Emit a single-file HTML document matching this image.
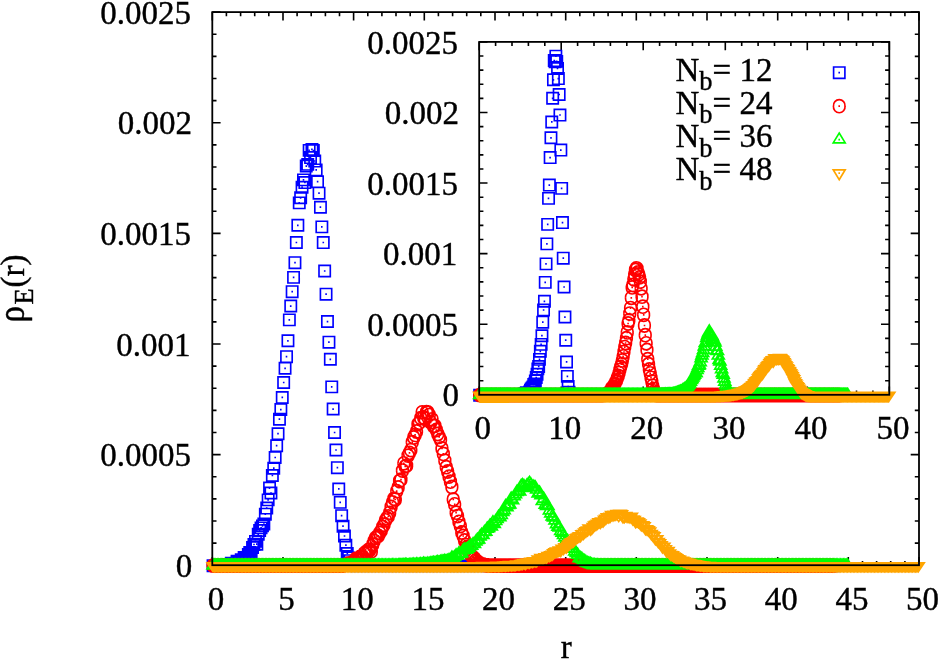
<!DOCTYPE html>
<html><head><meta charset="utf-8"><title>rho_E(r)</title>
<style>html,body{margin:0;padding:0;background:#fff;overflow:hidden}body{width:938px;height:660px;font-family:"Liberation Serif",serif}svg{display:block}.c{will-change:transform}text{stroke:#000;stroke-width:.4px}</style>
</head><body>
<svg width="938" height="660" viewBox="0 0 938 660" font-family="'Liberation Serif', serif" font-size="33" fill="#000" class="c">
<rect width="938" height="660" fill="#fff"/>
<path d="M212.3 565.2v-8.3M212.3 12.1v8.3M226.4 565.2v-4.2M226.4 12.1v4.2M240.6 565.2v-4.2M240.6 12.1v4.2M254.7 565.2v-4.2M254.7 12.1v4.2M268.8 565.2v-4.2M268.8 12.1v4.2M283 565.2v-8.3M283 12.1v8.3M297.1 565.2v-4.2M297.1 12.1v4.2M311.2 565.2v-4.2M311.2 12.1v4.2M325.4 565.2v-4.2M325.4 12.1v4.2M339.5 565.2v-4.2M339.5 12.1v4.2M353.6 565.2v-8.3M353.6 12.1v8.3M367.8 565.2v-4.2M367.8 12.1v4.2M381.9 565.2v-4.2M381.9 12.1v4.2M396 565.2v-4.2M396 12.1v4.2M410.2 565.2v-4.2M410.2 12.1v4.2M424.3 565.2v-8.3M424.3 12.1v8.3M438.4 565.2v-4.2M438.4 12.1v4.2M452.6 565.2v-4.2M452.6 12.1v4.2M466.7 565.2v-4.2M466.7 12.1v4.2M480.8 565.2v-4.2M480.8 12.1v4.2M495 565.2v-8.3M495 12.1v8.3M509.1 565.2v-4.2M509.1 12.1v4.2M523.2 565.2v-4.2M523.2 12.1v4.2M537.4 565.2v-4.2M537.4 12.1v4.2M551.5 565.2v-4.2M551.5 12.1v4.2M565.7 565.2v-8.3M565.7 12.1v8.3M579.8 565.2v-4.2M579.8 12.1v4.2M593.9 565.2v-4.2M593.9 12.1v4.2M608.1 565.2v-4.2M608.1 12.1v4.2M622.2 565.2v-4.2M622.2 12.1v4.2M636.3 565.2v-8.3M636.3 12.1v8.3M650.5 565.2v-4.2M650.5 12.1v4.2M664.6 565.2v-4.2M664.6 12.1v4.2M678.7 565.2v-4.2M678.7 12.1v4.2M692.9 565.2v-4.2M692.9 12.1v4.2M707 565.2v-8.3M707 12.1v8.3M721.1 565.2v-4.2M721.1 12.1v4.2M735.3 565.2v-4.2M735.3 12.1v4.2M749.4 565.2v-4.2M749.4 12.1v4.2M763.5 565.2v-4.2M763.5 12.1v4.2M777.7 565.2v-8.3M777.7 12.1v8.3M791.8 565.2v-4.2M791.8 12.1v4.2M805.9 565.2v-4.2M805.9 12.1v4.2M820.1 565.2v-4.2M820.1 12.1v4.2M834.2 565.2v-4.2M834.2 12.1v4.2M848.3 565.2v-8.3M848.3 12.1v8.3M862.5 565.2v-4.2M862.5 12.1v4.2M876.6 565.2v-4.2M876.6 12.1v4.2M890.7 565.2v-4.2M890.7 12.1v4.2M904.9 565.2v-4.2M904.9 12.1v4.2M919 565.2v-8.3M919 12.1v8.3M212.3 565.20h8.3M919 565.20h-8.3M212.3 543.08h4.2M919 543.08h-4.2M212.3 520.95h4.2M919 520.95h-4.2M212.3 498.83h4.2M919 498.83h-4.2M212.3 476.70h4.2M919 476.70h-4.2M212.3 454.58h8.3M919 454.58h-8.3M212.3 432.46h4.2M919 432.46h-4.2M212.3 410.33h4.2M919 410.33h-4.2M212.3 388.21h4.2M919 388.21h-4.2M212.3 366.08h4.2M919 366.08h-4.2M212.3 343.96h8.3M919 343.96h-8.3M212.3 321.84h4.2M919 321.84h-4.2M212.3 299.71h4.2M919 299.71h-4.2M212.3 277.59h4.2M919 277.59h-4.2M212.3 255.46h4.2M919 255.46h-4.2M212.3 233.34h8.3M919 233.34h-8.3M212.3 211.22h4.2M919 211.22h-4.2M212.3 189.09h4.2M919 189.09h-4.2M212.3 166.97h4.2M919 166.97h-4.2M212.3 144.84h4.2M919 144.84h-4.2M212.3 122.72h8.3M919 122.72h-8.3M212.3 100.60h4.2M919 100.60h-4.2M212.3 78.47h4.2M919 78.47h-4.2M212.3 56.35h4.2M919 56.35h-4.2M212.3 34.22h4.2M919 34.22h-4.2M212.3 12.10h8.3M919 12.10h-8.3" fill="none" stroke="#000" stroke-width="1.6"/>
<path d="M207.4 560h11.3v11.3h-11.3zM208.8 560h11.3v11.3h-11.3zM210.2 560h11.3v11.3h-11.3zM211.6 560h11.3v11.3h-11.3zM213 560h11.3v11.3h-11.3zM214.4 560h11.3v11.3h-11.3zM215.8 560h11.3v11.3h-11.3zM217.3 560h11.3v11.3h-11.3zM218.7 559.8h11.3v11.3h-11.3zM220.1 560h11.3v11.3h-11.3zM221.5 559.5h11.3v11.3h-11.3zM222.9 558.7h11.3v11.3h-11.3zM224.3 559.4h11.3v11.3h-11.3zM225.7 557.6h11.3v11.3h-11.3zM227.1 560h11.3v11.3h-11.3zM228.6 559h11.3v11.3h-11.3zM230 557.5h11.3v11.3h-11.3zM231.4 555.6h11.3v11.3h-11.3zM232.8 555.7h11.3v11.3h-11.3zM234.2 557h11.3v11.3h-11.3zM235.6 554h11.3v11.3h-11.3zM237 554.6h11.3v11.3h-11.3zM238.5 551.9h11.3v11.3h-11.3zM239.9 552.5h11.3v11.3h-11.3zM241.3 551.7h11.3v11.3h-11.3zM242.7 548.8h11.3v11.3h-11.3zM244.1 546.8h11.3v11.3h-11.3zM245.5 547.1h11.3v11.3h-11.3zM246.9 541.8h11.3v11.3h-11.3zM248.3 538.8h11.3v11.3h-11.3zM249.8 535.7h11.3v11.3h-11.3zM251.2 538.5h11.3v11.3h-11.3zM252.6 528.6h11.3v11.3h-11.3zM254 524.8h11.3v11.3h-11.3zM255.4 522.2h11.3v11.3h-11.3zM256.8 520.2h11.3v11.3h-11.3zM258.2 518.4h11.3v11.3h-11.3zM259.7 508.5h11.3v11.3h-11.3zM261.1 502.4h11.3v11.3h-11.3zM262.5 494.2h11.3v11.3h-11.3zM263.9 482.4h11.3v11.3h-11.3zM265.3 487.4h11.3v11.3h-11.3zM266.7 469.8h11.3v11.3h-11.3zM268.1 462.5h11.3v11.3h-11.3zM269.5 451.9h11.3v11.3h-11.3zM271 440.1h11.3v11.3h-11.3zM272.4 428.1h11.3v11.3h-11.3zM273.8 413.6h11.3v11.3h-11.3zM275.2 403.9h11.3v11.3h-11.3zM276.6 391.8h11.3v11.3h-11.3zM278 376.8h11.3v11.3h-11.3zM279.4 362.6h11.3v11.3h-11.3zM280.9 351h11.3v11.3h-11.3zM282.3 335.1h11.3v11.3h-11.3zM283.7 314.2h11.3v11.3h-11.3zM285.1 300.4h11.3v11.3h-11.3zM286.5 286h11.3v11.3h-11.3zM287.9 271.7h11.3v11.3h-11.3zM289.3 257h11.3v11.3h-11.3zM290.7 236.8h11.3v11.3h-11.3zM292.2 219.6h11.3v11.3h-11.3zM293.6 197.2h11.3v11.3h-11.3zM295 192.1h11.3v11.3h-11.3zM296.4 181.6h11.3v11.3h-11.3zM297.8 174.2h11.3v11.3h-11.3zM299.2 176.9h11.3v11.3h-11.3zM300.6 160.4h11.3v11.3h-11.3zM302.1 158.7h11.3v11.3h-11.3zM303.5 144.7h11.3v11.3h-11.3zM304.9 151.9h11.3v11.3h-11.3zM306.3 143.7h11.3v11.3h-11.3zM307.7 144.8h11.3v11.3h-11.3zM309.1 155.4h11.3v11.3h-11.3zM310.5 164.2h11.3v11.3h-11.3zM311.9 176.1h11.3v11.3h-11.3zM313.4 187.5h11.3v11.3h-11.3zM314.8 201.6h11.3v11.3h-11.3zM316.2 221.2h11.3v11.3h-11.3zM317.6 236.9h11.3v11.3h-11.3zM319 265.3h11.3v11.3h-11.3zM320.4 288.5h11.3v11.3h-11.3zM321.8 315.9h11.3v11.3h-11.3zM323.3 336.5h11.3v11.3h-11.3zM324.7 353.6h11.3v11.3h-11.3zM326.1 381.2h11.3v11.3h-11.3zM327.5 403.4h11.3v11.3h-11.3zM328.9 426.8h11.3v11.3h-11.3zM330.3 444.3h11.3v11.3h-11.3zM331.7 462h11.3v11.3h-11.3zM333.1 483.3h11.3v11.3h-11.3zM334.6 496.7h11.3v11.3h-11.3zM336 510h11.3v11.3h-11.3zM337.4 520.5h11.3v11.3h-11.3zM338.8 530.3h11.3v11.3h-11.3zM340.2 539.5h11.3v11.3h-11.3zM341.6 547.8h11.3v11.3h-11.3zM343 552.2h11.3v11.3h-11.3zM344.5 555h11.3v11.3h-11.3zM345.9 557.6h11.3v11.3h-11.3zM347.3 559h11.3v11.3h-11.3zM348.7 559.8h11.3v11.3h-11.3zM350.1 560h11.3v11.3h-11.3zM351.5 560h11.3v11.3h-11.3zM352.9 560h11.3v11.3h-11.3zM354.4 560h11.3v11.3h-11.3zM355.8 560h11.3v11.3h-11.3zM357.2 560h11.3v11.3h-11.3zM358.6 560h11.3v11.3h-11.3zM360 560h11.3v11.3h-11.3zM361.4 560h11.3v11.3h-11.3zM362.8 560h11.3v11.3h-11.3zM364.2 560h11.3v11.3h-11.3zM365.7 560h11.3v11.3h-11.3zM367.1 560h11.3v11.3h-11.3zM368.5 560h11.3v11.3h-11.3zM369.9 560h11.3v11.3h-11.3zM371.3 560h11.3v11.3h-11.3zM372.7 560h11.3v11.3h-11.3zM374.1 560h11.3v11.3h-11.3zM375.6 560h11.3v11.3h-11.3zM377 560h11.3v11.3h-11.3zM378.4 560h11.3v11.3h-11.3zM379.8 560h11.3v11.3h-11.3zM381.2 560h11.3v11.3h-11.3zM382.6 560h11.3v11.3h-11.3zM384 560h11.3v11.3h-11.3zM385.4 560h11.3v11.3h-11.3zM386.9 560h11.3v11.3h-11.3zM388.3 560h11.3v11.3h-11.3zM389.7 560h11.3v11.3h-11.3zM391.1 560h11.3v11.3h-11.3zM392.5 560h11.3v11.3h-11.3zM393.9 560h11.3v11.3h-11.3zM395.3 560h11.3v11.3h-11.3zM396.8 560h11.3v11.3h-11.3zM398.2 560h11.3v11.3h-11.3zM399.6 560h11.3v11.3h-11.3zM401 560h11.3v11.3h-11.3zM402.4 560h11.3v11.3h-11.3zM403.8 560h11.3v11.3h-11.3zM405.2 560h11.3v11.3h-11.3zM406.6 560h11.3v11.3h-11.3zM408.1 560h11.3v11.3h-11.3zM409.5 560h11.3v11.3h-11.3zM410.9 560h11.3v11.3h-11.3zM412.3 560h11.3v11.3h-11.3zM413.7 560h11.3v11.3h-11.3zM415.1 560h11.3v11.3h-11.3zM416.5 560h11.3v11.3h-11.3zM418 560h11.3v11.3h-11.3zM419.4 560h11.3v11.3h-11.3zM420.8 560h11.3v11.3h-11.3zM422.2 560h11.3v11.3h-11.3zM423.6 560h11.3v11.3h-11.3zM425 560h11.3v11.3h-11.3zM426.4 560h11.3v11.3h-11.3zM427.8 560h11.3v11.3h-11.3zM429.3 560h11.3v11.3h-11.3zM430.7 560h11.3v11.3h-11.3zM432.1 560h11.3v11.3h-11.3zM433.5 560h11.3v11.3h-11.3zM434.9 560h11.3v11.3h-11.3zM436.3 560h11.3v11.3h-11.3zM437.7 560h11.3v11.3h-11.3zM439.2 560h11.3v11.3h-11.3zM440.6 560h11.3v11.3h-11.3zM442 560h11.3v11.3h-11.3zM443.4 560h11.3v11.3h-11.3zM444.8 560h11.3v11.3h-11.3zM446.2 560h11.3v11.3h-11.3zM447.6 560h11.3v11.3h-11.3zM449 560h11.3v11.3h-11.3zM450.5 560h11.3v11.3h-11.3zM451.9 560h11.3v11.3h-11.3zM453.3 560h11.3v11.3h-11.3zM454.7 560h11.3v11.3h-11.3zM456.1 560h11.3v11.3h-11.3zM457.5 560h11.3v11.3h-11.3zM458.9 560h11.3v11.3h-11.3zM460.4 560h11.3v11.3h-11.3zM461.8 560h11.3v11.3h-11.3zM463.2 560h11.3v11.3h-11.3zM464.6 560h11.3v11.3h-11.3zM466 560h11.3v11.3h-11.3zM467.4 560h11.3v11.3h-11.3zM468.8 560h11.3v11.3h-11.3zM470.2 560h11.3v11.3h-11.3zM471.7 560h11.3v11.3h-11.3zM473.1 560h11.3v11.3h-11.3zM474.5 560h11.3v11.3h-11.3zM475.9 560h11.3v11.3h-11.3zM477.3 560h11.3v11.3h-11.3zM478.7 560h11.3v11.3h-11.3zM480.1 560h11.3v11.3h-11.3zM481.6 560h11.3v11.3h-11.3zM483 560h11.3v11.3h-11.3zM484.4 560h11.3v11.3h-11.3zM485.8 560h11.3v11.3h-11.3zM487.2 560h11.3v11.3h-11.3zM488.6 560h11.3v11.3h-11.3zM490 560h11.3v11.3h-11.3zM491.5 560h11.3v11.3h-11.3zM492.9 560h11.3v11.3h-11.3zM494.3 560h11.3v11.3h-11.3zM495.7 560h11.3v11.3h-11.3zM497.1 560h11.3v11.3h-11.3zM498.5 560h11.3v11.3h-11.3zM499.9 560h11.3v11.3h-11.3zM501.3 560h11.3v11.3h-11.3zM502.8 560h11.3v11.3h-11.3zM504.2 560h11.3v11.3h-11.3zM505.6 560h11.3v11.3h-11.3zM507 560h11.3v11.3h-11.3zM508.4 560h11.3v11.3h-11.3zM509.8 560h11.3v11.3h-11.3zM511.2 560h11.3v11.3h-11.3zM512.7 560h11.3v11.3h-11.3zM514.1 560h11.3v11.3h-11.3zM515.5 560h11.3v11.3h-11.3zM516.9 560h11.3v11.3h-11.3zM518.3 560h11.3v11.3h-11.3zM519.7 560h11.3v11.3h-11.3zM521.1 560h11.3v11.3h-11.3zM522.5 560h11.3v11.3h-11.3zM524 560h11.3v11.3h-11.3zM525.4 560h11.3v11.3h-11.3zM526.8 560h11.3v11.3h-11.3zM528.2 560h11.3v11.3h-11.3zM529.6 560h11.3v11.3h-11.3zM531 560h11.3v11.3h-11.3zM532.4 560h11.3v11.3h-11.3zM533.9 560h11.3v11.3h-11.3zM535.3 560h11.3v11.3h-11.3zM536.7 560h11.3v11.3h-11.3zM538.1 560h11.3v11.3h-11.3zM539.5 560h11.3v11.3h-11.3zM540.9 560h11.3v11.3h-11.3zM542.3 560h11.3v11.3h-11.3zM543.7 560h11.3v11.3h-11.3zM545.2 560h11.3v11.3h-11.3zM546.6 560h11.3v11.3h-11.3zM548 560h11.3v11.3h-11.3zM549.4 560h11.3v11.3h-11.3zM550.8 560h11.3v11.3h-11.3zM552.2 560h11.3v11.3h-11.3zM553.6 560h11.3v11.3h-11.3zM555.1 560h11.3v11.3h-11.3zM556.5 560h11.3v11.3h-11.3zM557.9 560h11.3v11.3h-11.3zM559.3 560h11.3v11.3h-11.3zM560.7 560h11.3v11.3h-11.3zM562.1 560h11.3v11.3h-11.3zM563.5 560h11.3v11.3h-11.3zM564.9 560h11.3v11.3h-11.3zM566.4 560h11.3v11.3h-11.3zM567.8 560h11.3v11.3h-11.3zM569.2 560h11.3v11.3h-11.3zM570.6 560h11.3v11.3h-11.3zM572 560h11.3v11.3h-11.3zM573.4 560h11.3v11.3h-11.3zM574.8 560h11.3v11.3h-11.3zM576.3 560h11.3v11.3h-11.3zM577.7 560h11.3v11.3h-11.3zM579.1 560h11.3v11.3h-11.3zM580.5 560h11.3v11.3h-11.3zM581.9 560h11.3v11.3h-11.3zM583.3 560h11.3v11.3h-11.3zM584.7 560h11.3v11.3h-11.3zM586.1 560h11.3v11.3h-11.3zM587.6 560h11.3v11.3h-11.3zM589 560h11.3v11.3h-11.3zM590.4 560h11.3v11.3h-11.3zM591.8 560h11.3v11.3h-11.3zM593.2 560h11.3v11.3h-11.3zM594.6 560h11.3v11.3h-11.3zM596 560h11.3v11.3h-11.3zM597.5 560h11.3v11.3h-11.3zM598.9 560h11.3v11.3h-11.3zM600.3 560h11.3v11.3h-11.3zM601.7 560h11.3v11.3h-11.3zM603.1 560h11.3v11.3h-11.3zM604.5 560h11.3v11.3h-11.3zM605.9 560h11.3v11.3h-11.3zM607.3 560h11.3v11.3h-11.3zM608.8 560h11.3v11.3h-11.3zM610.2 560h11.3v11.3h-11.3zM611.6 560h11.3v11.3h-11.3zM613 560h11.3v11.3h-11.3zM614.4 560h11.3v11.3h-11.3zM615.8 560h11.3v11.3h-11.3zM617.2 560h11.3v11.3h-11.3zM618.7 560h11.3v11.3h-11.3zM620.1 560h11.3v11.3h-11.3zM621.5 560h11.3v11.3h-11.3zM622.9 560h11.3v11.3h-11.3zM624.3 560h11.3v11.3h-11.3zM625.7 560h11.3v11.3h-11.3zM627.1 560h11.3v11.3h-11.3zM628.5 560h11.3v11.3h-11.3zM630 560h11.3v11.3h-11.3zM631.4 560h11.3v11.3h-11.3zM632.8 560h11.3v11.3h-11.3zM634.2 560h11.3v11.3h-11.3zM635.6 560h11.3v11.3h-11.3zM637 560h11.3v11.3h-11.3zM638.4 560h11.3v11.3h-11.3zM639.9 560h11.3v11.3h-11.3zM641.3 560h11.3v11.3h-11.3zM642.7 560h11.3v11.3h-11.3zM644.1 560h11.3v11.3h-11.3zM645.5 560h11.3v11.3h-11.3zM646.9 560h11.3v11.3h-11.3zM648.3 560h11.3v11.3h-11.3zM649.8 560h11.3v11.3h-11.3zM651.2 560h11.3v11.3h-11.3zM652.6 560h11.3v11.3h-11.3zM654 560h11.3v11.3h-11.3zM655.4 560h11.3v11.3h-11.3zM656.8 560h11.3v11.3h-11.3zM658.2 560h11.3v11.3h-11.3zM659.6 560h11.3v11.3h-11.3zM661.1 560h11.3v11.3h-11.3zM662.5 560h11.3v11.3h-11.3zM663.9 560h11.3v11.3h-11.3zM665.3 560h11.3v11.3h-11.3zM666.7 560h11.3v11.3h-11.3zM668.1 560h11.3v11.3h-11.3zM669.5 560h11.3v11.3h-11.3zM671 560h11.3v11.3h-11.3zM672.4 560h11.3v11.3h-11.3zM673.8 560h11.3v11.3h-11.3zM675.2 560h11.3v11.3h-11.3zM676.6 560h11.3v11.3h-11.3zM678 560h11.3v11.3h-11.3zM679.4 560h11.3v11.3h-11.3zM680.8 560h11.3v11.3h-11.3zM682.3 560h11.3v11.3h-11.3zM683.7 560h11.3v11.3h-11.3zM685.1 560h11.3v11.3h-11.3zM686.5 560h11.3v11.3h-11.3zM687.9 560h11.3v11.3h-11.3zM689.3 560h11.3v11.3h-11.3zM690.7 560h11.3v11.3h-11.3zM692.2 560h11.3v11.3h-11.3zM693.6 560h11.3v11.3h-11.3zM695 560h11.3v11.3h-11.3zM696.4 560h11.3v11.3h-11.3zM697.8 560h11.3v11.3h-11.3zM699.2 560h11.3v11.3h-11.3zM700.6 560h11.3v11.3h-11.3zM702 560h11.3v11.3h-11.3zM703.5 560h11.3v11.3h-11.3zM704.9 560h11.3v11.3h-11.3zM706.3 560h11.3v11.3h-11.3zM707.7 560h11.3v11.3h-11.3zM709.1 560h11.3v11.3h-11.3zM710.5 560h11.3v11.3h-11.3zM711.9 560h11.3v11.3h-11.3zM713.4 560h11.3v11.3h-11.3zM714.8 560h11.3v11.3h-11.3zM716.2 560h11.3v11.3h-11.3zM717.6 560h11.3v11.3h-11.3zM719 560h11.3v11.3h-11.3zM720.4 560h11.3v11.3h-11.3zM721.8 560h11.3v11.3h-11.3zM723.2 560h11.3v11.3h-11.3zM724.7 560h11.3v11.3h-11.3zM726.1 560h11.3v11.3h-11.3zM727.5 560h11.3v11.3h-11.3zM728.9 560h11.3v11.3h-11.3zM730.3 560h11.3v11.3h-11.3zM731.7 560h11.3v11.3h-11.3zM733.1 560h11.3v11.3h-11.3zM734.6 560h11.3v11.3h-11.3zM736 560h11.3v11.3h-11.3zM737.4 560h11.3v11.3h-11.3zM738.8 560h11.3v11.3h-11.3zM740.2 560h11.3v11.3h-11.3zM741.6 560h11.3v11.3h-11.3zM743 560h11.3v11.3h-11.3zM744.4 560h11.3v11.3h-11.3zM745.9 560h11.3v11.3h-11.3zM747.3 560h11.3v11.3h-11.3zM748.7 560h11.3v11.3h-11.3zM750.1 560h11.3v11.3h-11.3zM751.5 560h11.3v11.3h-11.3zM752.9 560h11.3v11.3h-11.3zM754.3 560h11.3v11.3h-11.3zM755.8 560h11.3v11.3h-11.3zM757.2 560h11.3v11.3h-11.3zM758.6 560h11.3v11.3h-11.3zM760 560h11.3v11.3h-11.3zM761.4 560h11.3v11.3h-11.3zM762.8 560h11.3v11.3h-11.3zM764.2 560h11.3v11.3h-11.3zM765.6 560h11.3v11.3h-11.3zM767.1 560h11.3v11.3h-11.3zM768.5 560h11.3v11.3h-11.3zM769.9 560h11.3v11.3h-11.3zM771.3 560h11.3v11.3h-11.3zM772.7 560h11.3v11.3h-11.3zM774.1 560h11.3v11.3h-11.3zM775.5 560h11.3v11.3h-11.3zM777 560h11.3v11.3h-11.3zM778.4 560h11.3v11.3h-11.3zM779.8 560h11.3v11.3h-11.3zM781.2 560h11.3v11.3h-11.3zM782.6 560h11.3v11.3h-11.3zM784 560h11.3v11.3h-11.3zM785.4 560h11.3v11.3h-11.3zM786.9 560h11.3v11.3h-11.3zM788.3 560h11.3v11.3h-11.3zM789.7 560h11.3v11.3h-11.3zM791.1 560h11.3v11.3h-11.3zM792.5 560h11.3v11.3h-11.3zM793.9 560h11.3v11.3h-11.3zM795.3 560h11.3v11.3h-11.3zM796.7 560h11.3v11.3h-11.3zM798.2 560h11.3v11.3h-11.3zM799.6 560h11.3v11.3h-11.3zM801 560h11.3v11.3h-11.3zM802.4 560h11.3v11.3h-11.3zM803.8 560h11.3v11.3h-11.3zM805.2 560h11.3v11.3h-11.3zM806.6 560h11.3v11.3h-11.3zM808.1 560h11.3v11.3h-11.3zM809.5 560h11.3v11.3h-11.3zM810.9 560h11.3v11.3h-11.3zM812.3 560h11.3v11.3h-11.3zM813.7 560h11.3v11.3h-11.3zM815.1 560h11.3v11.3h-11.3zM816.5 560h11.3v11.3h-11.3zM817.9 560h11.3v11.3h-11.3zM819.4 560h11.3v11.3h-11.3zM820.8 560h11.3v11.3h-11.3zM822.2 560h11.3v11.3h-11.3zM823.6 560h11.3v11.3h-11.3zM825 560h11.3v11.3h-11.3zM826.4 560h11.3v11.3h-11.3zM827.8 560h11.3v11.3h-11.3z" fill="none" stroke="#0000ff" stroke-width="1.65" stroke-linejoin="miter"/>
<path d="M212.2 565.6h1.6M213.6 565.6h1.6M215 565.6h1.6M216.4 565.6h1.6M217.9 565.6h1.6M219.3 565.6h1.6M220.7 565.6h1.6M222.1 565.6h1.6M223.5 565.4h1.6M224.9 565.6h1.6M226.3 565.1h1.6M227.8 564.3h1.6M229.2 565h1.6M230.6 563.2h1.6M232 565.6h1.6M233.4 564.6h1.6M234.8 563.1h1.6M236.2 561.3h1.6M237.6 561.3h1.6M239.1 562.7h1.6M240.5 559.6h1.6M241.9 560.2h1.6M243.3 557.5h1.6M244.7 558.2h1.6M246.1 557.4h1.6M247.5 554.5h1.6M249 552.5h1.6M250.4 552.7h1.6M251.8 547.5h1.6M253.2 544.5h1.6M254.6 541.4h1.6M256 544.2h1.6M257.4 534.3h1.6M258.8 530.5h1.6M260.3 527.8h1.6M261.7 525.9h1.6M263.1 524.1h1.6M264.5 514.2h1.6M265.9 508h1.6M267.3 499.9h1.6M268.7 488.1h1.6M270.2 493h1.6M271.6 475.5h1.6M273 468.1h1.6M274.4 457.5h1.6M275.8 445.7h1.6M277.2 433.7h1.6M278.6 419.2h1.6M280 409.6h1.6M281.5 397.4h1.6M282.9 382.5h1.6M284.3 368.3h1.6M285.7 356.6h1.6M287.1 340.8h1.6M288.5 319.8h1.6M289.9 306.1h1.6M291.4 291.6h1.6M292.8 277.4h1.6M294.2 262.6h1.6M295.6 242.5h1.6M297 225.3h1.6M298.4 202.9h1.6M299.8 197.8h1.6M301.3 187.2h1.6M302.7 179.9h1.6M304.1 182.5h1.6M305.5 166.1h1.6M306.9 164.4h1.6M308.3 150.4h1.6M309.7 157.5h1.6M311.1 149.4h1.6M312.6 150.5h1.6M314 161h1.6M315.4 169.9h1.6M316.8 181.7h1.6M318.2 193.2h1.6M319.6 207.2h1.6M321 226.9h1.6M322.5 242.5h1.6M323.9 271h1.6M325.3 294.1h1.6M326.7 321.6h1.6M328.1 342.2h1.6M329.5 359.3h1.6M330.9 386.9h1.6M332.3 409.1h1.6M333.8 432.5h1.6M335.2 450h1.6M336.6 467.7h1.6M338 488.9h1.6M339.4 502.4h1.6M340.8 515.7h1.6M342.2 526.2h1.6M343.7 536h1.6M345.1 545.1h1.6M346.5 553.5h1.6M347.9 557.8h1.6M349.3 560.6h1.6M350.7 563.2h1.6M352.1 564.6h1.6M353.5 565.5h1.6M355 565.6h1.6M356.4 565.6h1.6M357.8 565.6h1.6M359.2 565.6h1.6M360.6 565.6h1.6M362 565.6h1.6M363.4 565.6h1.6M364.9 565.6h1.6M366.3 565.6h1.6M367.7 565.6h1.6M369.1 565.6h1.6M370.5 565.6h1.6M371.9 565.6h1.6M373.3 565.6h1.6M374.7 565.6h1.6M376.2 565.6h1.6M377.6 565.6h1.6M379 565.6h1.6M380.4 565.6h1.6M381.8 565.6h1.6M383.2 565.6h1.6M384.6 565.6h1.6M386.1 565.6h1.6M387.5 565.6h1.6M388.9 565.6h1.6M390.3 565.6h1.6M391.7 565.6h1.6M393.1 565.6h1.6M394.5 565.6h1.6M395.9 565.6h1.6M397.4 565.6h1.6M398.8 565.6h1.6M400.2 565.6h1.6M401.6 565.6h1.6M403 565.6h1.6M404.4 565.6h1.6M405.8 565.6h1.6M407.3 565.6h1.6M408.7 565.6h1.6M410.1 565.6h1.6M411.5 565.6h1.6M412.9 565.6h1.6M414.3 565.6h1.6M415.7 565.6h1.6M417.1 565.6h1.6M418.6 565.6h1.6M420 565.6h1.6M421.4 565.6h1.6M422.8 565.6h1.6M424.2 565.6h1.6M425.6 565.6h1.6M427 565.6h1.6M428.5 565.6h1.6M429.9 565.6h1.6M431.3 565.6h1.6M432.7 565.6h1.6M434.1 565.6h1.6M435.5 565.6h1.6M436.9 565.6h1.6M438.4 565.6h1.6M439.8 565.6h1.6M441.2 565.6h1.6M442.6 565.6h1.6M444 565.6h1.6M445.4 565.6h1.6M446.8 565.6h1.6M448.2 565.6h1.6M449.7 565.6h1.6M451.1 565.6h1.6M452.5 565.6h1.6M453.9 565.6h1.6M455.3 565.6h1.6M456.7 565.6h1.6M458.1 565.6h1.6M459.6 565.6h1.6M461 565.6h1.6M462.4 565.6h1.6M463.8 565.6h1.6M465.2 565.6h1.6M466.6 565.6h1.6M468 565.6h1.6M469.4 565.6h1.6M470.9 565.6h1.6M472.3 565.6h1.6M473.7 565.6h1.6M475.1 565.6h1.6M476.5 565.6h1.6M477.9 565.6h1.6M479.3 565.6h1.6M480.8 565.6h1.6M482.2 565.6h1.6M483.6 565.6h1.6M485 565.6h1.6M486.4 565.6h1.6M487.8 565.6h1.6M489.2 565.6h1.6M490.6 565.6h1.6M492.1 565.6h1.6M493.5 565.6h1.6M494.9 565.6h1.6M496.3 565.6h1.6M497.7 565.6h1.6M499.1 565.6h1.6M500.5 565.6h1.6M502 565.6h1.6M503.4 565.6h1.6M504.8 565.6h1.6M506.2 565.6h1.6M507.6 565.6h1.6M509 565.6h1.6M510.4 565.6h1.6M511.8 565.6h1.6M513.3 565.6h1.6M514.7 565.6h1.6M516.1 565.6h1.6M517.5 565.6h1.6M518.9 565.6h1.6M520.3 565.6h1.6M521.7 565.6h1.6M523.2 565.6h1.6M524.6 565.6h1.6M526 565.6h1.6M527.4 565.6h1.6M528.8 565.6h1.6M530.2 565.6h1.6M531.6 565.6h1.6M533 565.6h1.6M534.5 565.6h1.6M535.9 565.6h1.6M537.3 565.6h1.6M538.7 565.6h1.6M540.1 565.6h1.6M541.5 565.6h1.6M542.9 565.6h1.6M544.4 565.6h1.6M545.8 565.6h1.6M547.2 565.6h1.6M548.6 565.6h1.6M550 565.6h1.6M551.4 565.6h1.6M552.8 565.6h1.6M554.2 565.6h1.6M555.7 565.6h1.6M557.1 565.6h1.6M558.5 565.6h1.6M559.9 565.6h1.6M561.3 565.6h1.6M562.7 565.6h1.6M564.1 565.6h1.6M565.6 565.6h1.6M567 565.6h1.6M568.4 565.6h1.6M569.8 565.6h1.6M571.2 565.6h1.6M572.6 565.6h1.6M574 565.6h1.6M575.5 565.6h1.6M576.9 565.6h1.6M578.3 565.6h1.6M579.7 565.6h1.6M581.1 565.6h1.6M582.5 565.6h1.6M583.9 565.6h1.6M585.3 565.6h1.6M586.8 565.6h1.6M588.2 565.6h1.6M589.6 565.6h1.6M591 565.6h1.6M592.4 565.6h1.6M593.8 565.6h1.6M595.2 565.6h1.6M596.7 565.6h1.6M598.1 565.6h1.6M599.5 565.6h1.6M600.9 565.6h1.6M602.3 565.6h1.6M603.7 565.6h1.6M605.1 565.6h1.6M606.5 565.6h1.6M608 565.6h1.6M609.4 565.6h1.6M610.8 565.6h1.6M612.2 565.6h1.6M613.6 565.6h1.6M615 565.6h1.6M616.4 565.6h1.6M617.9 565.6h1.6M619.3 565.6h1.6M620.7 565.6h1.6M622.1 565.6h1.6M623.5 565.6h1.6M624.9 565.6h1.6M626.3 565.6h1.6M627.7 565.6h1.6M629.2 565.6h1.6M630.6 565.6h1.6M632 565.6h1.6M633.4 565.6h1.6M634.8 565.6h1.6M636.2 565.6h1.6M637.6 565.6h1.6M639.1 565.6h1.6M640.5 565.6h1.6M641.9 565.6h1.6M643.3 565.6h1.6M644.7 565.6h1.6M646.1 565.6h1.6M647.5 565.6h1.6M648.9 565.6h1.6M650.4 565.6h1.6M651.8 565.6h1.6M653.2 565.6h1.6M654.6 565.6h1.6M656 565.6h1.6M657.4 565.6h1.6M658.8 565.6h1.6M660.3 565.6h1.6M661.7 565.6h1.6M663.1 565.6h1.6M664.5 565.6h1.6M665.9 565.6h1.6M667.3 565.6h1.6M668.7 565.6h1.6M670.1 565.6h1.6M671.6 565.6h1.6M673 565.6h1.6M674.4 565.6h1.6M675.8 565.6h1.6M677.2 565.6h1.6M678.6 565.6h1.6M680 565.6h1.6M681.5 565.6h1.6M682.9 565.6h1.6M684.3 565.6h1.6M685.7 565.6h1.6M687.1 565.6h1.6M688.5 565.6h1.6M689.9 565.6h1.6M691.3 565.6h1.6M692.8 565.6h1.6M694.2 565.6h1.6M695.6 565.6h1.6M697 565.6h1.6M698.4 565.6h1.6M699.8 565.6h1.6M701.2 565.6h1.6M702.7 565.6h1.6M704.1 565.6h1.6M705.5 565.6h1.6M706.9 565.6h1.6M708.3 565.6h1.6M709.7 565.6h1.6M711.1 565.6h1.6M712.6 565.6h1.6M714 565.6h1.6M715.4 565.6h1.6M716.8 565.6h1.6M718.2 565.6h1.6M719.6 565.6h1.6M721 565.6h1.6M722.4 565.6h1.6M723.9 565.6h1.6M725.3 565.6h1.6M726.7 565.6h1.6M728.1 565.6h1.6M729.5 565.6h1.6M730.9 565.6h1.6M732.3 565.6h1.6M733.8 565.6h1.6M735.2 565.6h1.6M736.6 565.6h1.6M738 565.6h1.6M739.4 565.6h1.6M740.8 565.6h1.6M742.2 565.6h1.6M743.6 565.6h1.6M745.1 565.6h1.6M746.5 565.6h1.6M747.9 565.6h1.6M749.3 565.6h1.6M750.7 565.6h1.6M752.1 565.6h1.6M753.5 565.6h1.6M755 565.6h1.6M756.4 565.6h1.6M757.8 565.6h1.6M759.2 565.6h1.6M760.6 565.6h1.6M762 565.6h1.6M763.4 565.6h1.6M764.8 565.6h1.6M766.3 565.6h1.6M767.7 565.6h1.6M769.1 565.6h1.6M770.5 565.6h1.6M771.9 565.6h1.6M773.3 565.6h1.6M774.7 565.6h1.6M776.2 565.6h1.6M777.6 565.6h1.6M779 565.6h1.6M780.4 565.6h1.6M781.8 565.6h1.6M783.2 565.6h1.6M784.6 565.6h1.6M786 565.6h1.6M787.5 565.6h1.6M788.9 565.6h1.6M790.3 565.6h1.6M791.7 565.6h1.6M793.1 565.6h1.6M794.5 565.6h1.6M795.9 565.6h1.6M797.4 565.6h1.6M798.8 565.6h1.6M800.2 565.6h1.6M801.6 565.6h1.6M803 565.6h1.6M804.4 565.6h1.6M805.8 565.6h1.6M807.2 565.6h1.6M808.7 565.6h1.6M810.1 565.6h1.6M811.5 565.6h1.6M812.9 565.6h1.6M814.3 565.6h1.6M815.7 565.6h1.6M817.1 565.6h1.6M818.6 565.6h1.6M820 565.6h1.6M821.4 565.6h1.6M822.8 565.6h1.6M824.2 565.6h1.6M825.6 565.6h1.6M827 565.6h1.6M828.4 565.6h1.6M829.9 565.6h1.6M831.3 565.6h1.6M832.7 565.6h1.6" fill="none" stroke="#0000ff" stroke-width="1.7"/>
<path d="M207.3 565.6a5.8 5.8 0 1 0 11.5 0a5.8 5.8 0 1 0 -11.5 0M208.7 565.6a5.8 5.8 0 1 0 11.5 0a5.8 5.8 0 1 0 -11.5 0M210.1 565.6a5.8 5.8 0 1 0 11.5 0a5.8 5.8 0 1 0 -11.5 0M211.5 565.6a5.8 5.8 0 1 0 11.5 0a5.8 5.8 0 1 0 -11.5 0M212.9 565.6a5.8 5.8 0 1 0 11.5 0a5.8 5.8 0 1 0 -11.5 0M214.3 565.6a5.8 5.8 0 1 0 11.5 0a5.8 5.8 0 1 0 -11.5 0M215.7 565.6a5.8 5.8 0 1 0 11.5 0a5.8 5.8 0 1 0 -11.5 0M217.2 565.6a5.8 5.8 0 1 0 11.5 0a5.8 5.8 0 1 0 -11.5 0M218.6 565.6a5.8 5.8 0 1 0 11.5 0a5.8 5.8 0 1 0 -11.5 0M220 565.6a5.8 5.8 0 1 0 11.5 0a5.8 5.8 0 1 0 -11.5 0M221.4 565.6a5.8 5.8 0 1 0 11.5 0a5.8 5.8 0 1 0 -11.5 0M222.8 565.6a5.8 5.8 0 1 0 11.5 0a5.8 5.8 0 1 0 -11.5 0M224.2 565.6a5.8 5.8 0 1 0 11.5 0a5.8 5.8 0 1 0 -11.5 0M225.6 565.6a5.8 5.8 0 1 0 11.5 0a5.8 5.8 0 1 0 -11.5 0M227 565.6a5.8 5.8 0 1 0 11.5 0a5.8 5.8 0 1 0 -11.5 0M228.5 565.6a5.8 5.8 0 1 0 11.5 0a5.8 5.8 0 1 0 -11.5 0M229.9 565.6a5.8 5.8 0 1 0 11.5 0a5.8 5.8 0 1 0 -11.5 0M231.3 565.6a5.8 5.8 0 1 0 11.5 0a5.8 5.8 0 1 0 -11.5 0M232.7 565.6a5.8 5.8 0 1 0 11.5 0a5.8 5.8 0 1 0 -11.5 0M234.1 565.6a5.8 5.8 0 1 0 11.5 0a5.8 5.8 0 1 0 -11.5 0M235.5 565.6a5.8 5.8 0 1 0 11.5 0a5.8 5.8 0 1 0 -11.5 0M236.9 565.6a5.8 5.8 0 1 0 11.5 0a5.8 5.8 0 1 0 -11.5 0M238.4 565.6a5.8 5.8 0 1 0 11.5 0a5.8 5.8 0 1 0 -11.5 0M239.8 565.6a5.8 5.8 0 1 0 11.5 0a5.8 5.8 0 1 0 -11.5 0M241.2 565.6a5.8 5.8 0 1 0 11.5 0a5.8 5.8 0 1 0 -11.5 0M242.6 565.6a5.8 5.8 0 1 0 11.5 0a5.8 5.8 0 1 0 -11.5 0M244 565.6a5.8 5.8 0 1 0 11.5 0a5.8 5.8 0 1 0 -11.5 0M245.4 565.6a5.8 5.8 0 1 0 11.5 0a5.8 5.8 0 1 0 -11.5 0M246.8 565.6a5.8 5.8 0 1 0 11.5 0a5.8 5.8 0 1 0 -11.5 0M248.2 565.6a5.8 5.8 0 1 0 11.5 0a5.8 5.8 0 1 0 -11.5 0M249.7 565.6a5.8 5.8 0 1 0 11.5 0a5.8 5.8 0 1 0 -11.5 0M251.1 565.6a5.8 5.8 0 1 0 11.5 0a5.8 5.8 0 1 0 -11.5 0M252.5 565.6a5.8 5.8 0 1 0 11.5 0a5.8 5.8 0 1 0 -11.5 0M253.9 565.6a5.8 5.8 0 1 0 11.5 0a5.8 5.8 0 1 0 -11.5 0M255.3 565.6a5.8 5.8 0 1 0 11.5 0a5.8 5.8 0 1 0 -11.5 0M256.7 565.6a5.8 5.8 0 1 0 11.5 0a5.8 5.8 0 1 0 -11.5 0M258.1 565.6a5.8 5.8 0 1 0 11.5 0a5.8 5.8 0 1 0 -11.5 0M259.6 565.6a5.8 5.8 0 1 0 11.5 0a5.8 5.8 0 1 0 -11.5 0M261 565.6a5.8 5.8 0 1 0 11.5 0a5.8 5.8 0 1 0 -11.5 0M262.4 565.6a5.8 5.8 0 1 0 11.5 0a5.8 5.8 0 1 0 -11.5 0M263.8 565.6a5.8 5.8 0 1 0 11.5 0a5.8 5.8 0 1 0 -11.5 0M265.2 565.6a5.8 5.8 0 1 0 11.5 0a5.8 5.8 0 1 0 -11.5 0M266.6 565.6a5.8 5.8 0 1 0 11.5 0a5.8 5.8 0 1 0 -11.5 0M268 565.6a5.8 5.8 0 1 0 11.5 0a5.8 5.8 0 1 0 -11.5 0M269.4 565.6a5.8 5.8 0 1 0 11.5 0a5.8 5.8 0 1 0 -11.5 0M270.9 565.6a5.8 5.8 0 1 0 11.5 0a5.8 5.8 0 1 0 -11.5 0M272.3 565.6a5.8 5.8 0 1 0 11.5 0a5.8 5.8 0 1 0 -11.5 0M273.7 565.6a5.8 5.8 0 1 0 11.5 0a5.8 5.8 0 1 0 -11.5 0M275.1 565.6a5.8 5.8 0 1 0 11.5 0a5.8 5.8 0 1 0 -11.5 0M276.5 565.6a5.8 5.8 0 1 0 11.5 0a5.8 5.8 0 1 0 -11.5 0M277.9 565.6a5.8 5.8 0 1 0 11.5 0a5.8 5.8 0 1 0 -11.5 0M279.3 565.6a5.8 5.8 0 1 0 11.5 0a5.8 5.8 0 1 0 -11.5 0M280.8 565.6a5.8 5.8 0 1 0 11.5 0a5.8 5.8 0 1 0 -11.5 0M282.2 565.6a5.8 5.8 0 1 0 11.5 0a5.8 5.8 0 1 0 -11.5 0M283.6 565.6a5.8 5.8 0 1 0 11.5 0a5.8 5.8 0 1 0 -11.5 0M285 565.6a5.8 5.8 0 1 0 11.5 0a5.8 5.8 0 1 0 -11.5 0M286.4 565.6a5.8 5.8 0 1 0 11.5 0a5.8 5.8 0 1 0 -11.5 0M287.8 565.6a5.8 5.8 0 1 0 11.5 0a5.8 5.8 0 1 0 -11.5 0M289.2 565.6a5.8 5.8 0 1 0 11.5 0a5.8 5.8 0 1 0 -11.5 0M290.6 565.6a5.8 5.8 0 1 0 11.5 0a5.8 5.8 0 1 0 -11.5 0M292.1 565.6a5.8 5.8 0 1 0 11.5 0a5.8 5.8 0 1 0 -11.5 0M293.5 565.6a5.8 5.8 0 1 0 11.5 0a5.8 5.8 0 1 0 -11.5 0M294.9 565.6a5.8 5.8 0 1 0 11.5 0a5.8 5.8 0 1 0 -11.5 0M296.3 565.6a5.8 5.8 0 1 0 11.5 0a5.8 5.8 0 1 0 -11.5 0M297.7 565.6a5.8 5.8 0 1 0 11.5 0a5.8 5.8 0 1 0 -11.5 0M299.1 565.6a5.8 5.8 0 1 0 11.5 0a5.8 5.8 0 1 0 -11.5 0M300.5 565.6a5.8 5.8 0 1 0 11.5 0a5.8 5.8 0 1 0 -11.5 0M302 565.6a5.8 5.8 0 1 0 11.5 0a5.8 5.8 0 1 0 -11.5 0M303.4 565.6a5.8 5.8 0 1 0 11.5 0a5.8 5.8 0 1 0 -11.5 0M304.8 565.6a5.8 5.8 0 1 0 11.5 0a5.8 5.8 0 1 0 -11.5 0M306.2 565.6a5.8 5.8 0 1 0 11.5 0a5.8 5.8 0 1 0 -11.5 0M307.6 565.6a5.8 5.8 0 1 0 11.5 0a5.8 5.8 0 1 0 -11.5 0M309 565.6a5.8 5.8 0 1 0 11.5 0a5.8 5.8 0 1 0 -11.5 0M310.4 565.6a5.8 5.8 0 1 0 11.5 0a5.8 5.8 0 1 0 -11.5 0M311.8 565.6a5.8 5.8 0 1 0 11.5 0a5.8 5.8 0 1 0 -11.5 0M313.3 565.6a5.8 5.8 0 1 0 11.5 0a5.8 5.8 0 1 0 -11.5 0M314.7 565.6a5.8 5.8 0 1 0 11.5 0a5.8 5.8 0 1 0 -11.5 0M316.1 565.6a5.8 5.8 0 1 0 11.5 0a5.8 5.8 0 1 0 -11.5 0M317.5 565.6a5.8 5.8 0 1 0 11.5 0a5.8 5.8 0 1 0 -11.5 0M318.9 565.6a5.8 5.8 0 1 0 11.5 0a5.8 5.8 0 1 0 -11.5 0M320.3 565.6a5.8 5.8 0 1 0 11.5 0a5.8 5.8 0 1 0 -11.5 0M321.7 565.6a5.8 5.8 0 1 0 11.5 0a5.8 5.8 0 1 0 -11.5 0M323.2 565.6a5.8 5.8 0 1 0 11.5 0a5.8 5.8 0 1 0 -11.5 0M324.6 565.6a5.8 5.8 0 1 0 11.5 0a5.8 5.8 0 1 0 -11.5 0M326 565.6a5.8 5.8 0 1 0 11.5 0a5.8 5.8 0 1 0 -11.5 0M327.4 565.6a5.8 5.8 0 1 0 11.5 0a5.8 5.8 0 1 0 -11.5 0M328.8 565.6a5.8 5.8 0 1 0 11.5 0a5.8 5.8 0 1 0 -11.5 0M330.2 565.6a5.8 5.8 0 1 0 11.5 0a5.8 5.8 0 1 0 -11.5 0M331.6 565.6a5.8 5.8 0 1 0 11.5 0a5.8 5.8 0 1 0 -11.5 0M333 565.6a5.8 5.8 0 1 0 11.5 0a5.8 5.8 0 1 0 -11.5 0M334.5 565.6a5.8 5.8 0 1 0 11.5 0a5.8 5.8 0 1 0 -11.5 0M335.9 565.6a5.8 5.8 0 1 0 11.5 0a5.8 5.8 0 1 0 -11.5 0M337.3 565.6a5.8 5.8 0 1 0 11.5 0a5.8 5.8 0 1 0 -11.5 0M338.7 565.1a5.8 5.8 0 1 0 11.5 0a5.8 5.8 0 1 0 -11.5 0M340.1 564.6a5.8 5.8 0 1 0 11.5 0a5.8 5.8 0 1 0 -11.5 0M341.5 563.9a5.8 5.8 0 1 0 11.5 0a5.8 5.8 0 1 0 -11.5 0M342.9 563.5a5.8 5.8 0 1 0 11.5 0a5.8 5.8 0 1 0 -11.5 0M344.4 563.8a5.8 5.8 0 1 0 11.5 0a5.8 5.8 0 1 0 -11.5 0M345.8 562.7a5.8 5.8 0 1 0 11.5 0a5.8 5.8 0 1 0 -11.5 0M347.2 562.1a5.8 5.8 0 1 0 11.5 0a5.8 5.8 0 1 0 -11.5 0M348.6 561.7a5.8 5.8 0 1 0 11.5 0a5.8 5.8 0 1 0 -11.5 0M350 558.9a5.8 5.8 0 1 0 11.5 0a5.8 5.8 0 1 0 -11.5 0M351.4 559.9a5.8 5.8 0 1 0 11.5 0a5.8 5.8 0 1 0 -11.5 0M352.8 559.2a5.8 5.8 0 1 0 11.5 0a5.8 5.8 0 1 0 -11.5 0M354.3 557a5.8 5.8 0 1 0 11.5 0a5.8 5.8 0 1 0 -11.5 0M355.7 556.3a5.8 5.8 0 1 0 11.5 0a5.8 5.8 0 1 0 -11.5 0M357.1 556.6a5.8 5.8 0 1 0 11.5 0a5.8 5.8 0 1 0 -11.5 0M358.5 553.5a5.8 5.8 0 1 0 11.5 0a5.8 5.8 0 1 0 -11.5 0M359.9 552.1a5.8 5.8 0 1 0 11.5 0a5.8 5.8 0 1 0 -11.5 0M361.3 553.2a5.8 5.8 0 1 0 11.5 0a5.8 5.8 0 1 0 -11.5 0M362.7 550a5.8 5.8 0 1 0 11.5 0a5.8 5.8 0 1 0 -11.5 0M364.1 550a5.8 5.8 0 1 0 11.5 0a5.8 5.8 0 1 0 -11.5 0M365.6 551.4a5.8 5.8 0 1 0 11.5 0a5.8 5.8 0 1 0 -11.5 0M367 544.5a5.8 5.8 0 1 0 11.5 0a5.8 5.8 0 1 0 -11.5 0M368.4 541a5.8 5.8 0 1 0 11.5 0a5.8 5.8 0 1 0 -11.5 0M369.8 538a5.8 5.8 0 1 0 11.5 0a5.8 5.8 0 1 0 -11.5 0M371.2 536.7a5.8 5.8 0 1 0 11.5 0a5.8 5.8 0 1 0 -11.5 0M372.6 535.9a5.8 5.8 0 1 0 11.5 0a5.8 5.8 0 1 0 -11.5 0M374 533a5.8 5.8 0 1 0 11.5 0a5.8 5.8 0 1 0 -11.5 0M375.5 530.6a5.8 5.8 0 1 0 11.5 0a5.8 5.8 0 1 0 -11.5 0M376.9 527a5.8 5.8 0 1 0 11.5 0a5.8 5.8 0 1 0 -11.5 0M378.3 524.7a5.8 5.8 0 1 0 11.5 0a5.8 5.8 0 1 0 -11.5 0M379.7 520.3a5.8 5.8 0 1 0 11.5 0a5.8 5.8 0 1 0 -11.5 0M381.1 518.2a5.8 5.8 0 1 0 11.5 0a5.8 5.8 0 1 0 -11.5 0M382.5 516.4a5.8 5.8 0 1 0 11.5 0a5.8 5.8 0 1 0 -11.5 0M383.9 512.8a5.8 5.8 0 1 0 11.5 0a5.8 5.8 0 1 0 -11.5 0M385.3 507a5.8 5.8 0 1 0 11.5 0a5.8 5.8 0 1 0 -11.5 0M386.8 502.3a5.8 5.8 0 1 0 11.5 0a5.8 5.8 0 1 0 -11.5 0M388.2 498.7a5.8 5.8 0 1 0 11.5 0a5.8 5.8 0 1 0 -11.5 0M389.6 499.5a5.8 5.8 0 1 0 11.5 0a5.8 5.8 0 1 0 -11.5 0M391 491.2a5.8 5.8 0 1 0 11.5 0a5.8 5.8 0 1 0 -11.5 0M392.4 487.4a5.8 5.8 0 1 0 11.5 0a5.8 5.8 0 1 0 -11.5 0M393.8 481a5.8 5.8 0 1 0 11.5 0a5.8 5.8 0 1 0 -11.5 0M395.2 479.7a5.8 5.8 0 1 0 11.5 0a5.8 5.8 0 1 0 -11.5 0M396.7 470.6a5.8 5.8 0 1 0 11.5 0a5.8 5.8 0 1 0 -11.5 0M398.1 463.3a5.8 5.8 0 1 0 11.5 0a5.8 5.8 0 1 0 -11.5 0M399.5 466.4a5.8 5.8 0 1 0 11.5 0a5.8 5.8 0 1 0 -11.5 0M400.9 465.6a5.8 5.8 0 1 0 11.5 0a5.8 5.8 0 1 0 -11.5 0M402.3 455.7a5.8 5.8 0 1 0 11.5 0a5.8 5.8 0 1 0 -11.5 0M403.7 452.8a5.8 5.8 0 1 0 11.5 0a5.8 5.8 0 1 0 -11.5 0M405.1 450.1a5.8 5.8 0 1 0 11.5 0a5.8 5.8 0 1 0 -11.5 0M406.5 442.2a5.8 5.8 0 1 0 11.5 0a5.8 5.8 0 1 0 -11.5 0M408 437.5a5.8 5.8 0 1 0 11.5 0a5.8 5.8 0 1 0 -11.5 0M409.4 434.9a5.8 5.8 0 1 0 11.5 0a5.8 5.8 0 1 0 -11.5 0M410.8 431.5a5.8 5.8 0 1 0 11.5 0a5.8 5.8 0 1 0 -11.5 0M412.2 424.1a5.8 5.8 0 1 0 11.5 0a5.8 5.8 0 1 0 -11.5 0M413.6 422.7a5.8 5.8 0 1 0 11.5 0a5.8 5.8 0 1 0 -11.5 0M415 418.2a5.8 5.8 0 1 0 11.5 0a5.8 5.8 0 1 0 -11.5 0M416.4 412.3a5.8 5.8 0 1 0 11.5 0a5.8 5.8 0 1 0 -11.5 0M417.9 417.4a5.8 5.8 0 1 0 11.5 0a5.8 5.8 0 1 0 -11.5 0M419.3 418.8a5.8 5.8 0 1 0 11.5 0a5.8 5.8 0 1 0 -11.5 0M420.7 412.2a5.8 5.8 0 1 0 11.5 0a5.8 5.8 0 1 0 -11.5 0M422.1 412.5a5.8 5.8 0 1 0 11.5 0a5.8 5.8 0 1 0 -11.5 0M423.5 414.9a5.8 5.8 0 1 0 11.5 0a5.8 5.8 0 1 0 -11.5 0M424.9 422.3a5.8 5.8 0 1 0 11.5 0a5.8 5.8 0 1 0 -11.5 0M426.3 419.3a5.8 5.8 0 1 0 11.5 0a5.8 5.8 0 1 0 -11.5 0M427.7 426a5.8 5.8 0 1 0 11.5 0a5.8 5.8 0 1 0 -11.5 0M429.2 425.8a5.8 5.8 0 1 0 11.5 0a5.8 5.8 0 1 0 -11.5 0M430.6 430a5.8 5.8 0 1 0 11.5 0a5.8 5.8 0 1 0 -11.5 0M432 434a5.8 5.8 0 1 0 11.5 0a5.8 5.8 0 1 0 -11.5 0M433.4 436.9a5.8 5.8 0 1 0 11.5 0a5.8 5.8 0 1 0 -11.5 0M434.8 439.9a5.8 5.8 0 1 0 11.5 0a5.8 5.8 0 1 0 -11.5 0M436.2 448.5a5.8 5.8 0 1 0 11.5 0a5.8 5.8 0 1 0 -11.5 0M437.6 453.9a5.8 5.8 0 1 0 11.5 0a5.8 5.8 0 1 0 -11.5 0M439.1 460.7a5.8 5.8 0 1 0 11.5 0a5.8 5.8 0 1 0 -11.5 0M440.5 467.2a5.8 5.8 0 1 0 11.5 0a5.8 5.8 0 1 0 -11.5 0M441.9 471.5a5.8 5.8 0 1 0 11.5 0a5.8 5.8 0 1 0 -11.5 0M443.3 476.6a5.8 5.8 0 1 0 11.5 0a5.8 5.8 0 1 0 -11.5 0M444.7 481.7a5.8 5.8 0 1 0 11.5 0a5.8 5.8 0 1 0 -11.5 0M446.1 487a5.8 5.8 0 1 0 11.5 0a5.8 5.8 0 1 0 -11.5 0M447.5 499.5a5.8 5.8 0 1 0 11.5 0a5.8 5.8 0 1 0 -11.5 0M448.9 504.3a5.8 5.8 0 1 0 11.5 0a5.8 5.8 0 1 0 -11.5 0M450.4 512.7a5.8 5.8 0 1 0 11.5 0a5.8 5.8 0 1 0 -11.5 0M451.8 516.1a5.8 5.8 0 1 0 11.5 0a5.8 5.8 0 1 0 -11.5 0M453.2 521.8a5.8 5.8 0 1 0 11.5 0a5.8 5.8 0 1 0 -11.5 0M454.6 526.1a5.8 5.8 0 1 0 11.5 0a5.8 5.8 0 1 0 -11.5 0M456 532.5a5.8 5.8 0 1 0 11.5 0a5.8 5.8 0 1 0 -11.5 0M457.4 536a5.8 5.8 0 1 0 11.5 0a5.8 5.8 0 1 0 -11.5 0M458.8 540.5a5.8 5.8 0 1 0 11.5 0a5.8 5.8 0 1 0 -11.5 0M460.3 545.1a5.8 5.8 0 1 0 11.5 0a5.8 5.8 0 1 0 -11.5 0M461.7 547a5.8 5.8 0 1 0 11.5 0a5.8 5.8 0 1 0 -11.5 0M463.1 552.7a5.8 5.8 0 1 0 11.5 0a5.8 5.8 0 1 0 -11.5 0M464.5 554.1a5.8 5.8 0 1 0 11.5 0a5.8 5.8 0 1 0 -11.5 0M465.9 556a5.8 5.8 0 1 0 11.5 0a5.8 5.8 0 1 0 -11.5 0M467.3 557.2a5.8 5.8 0 1 0 11.5 0a5.8 5.8 0 1 0 -11.5 0M468.7 558.3a5.8 5.8 0 1 0 11.5 0a5.8 5.8 0 1 0 -11.5 0M470.1 560.2a5.8 5.8 0 1 0 11.5 0a5.8 5.8 0 1 0 -11.5 0M471.6 561.3a5.8 5.8 0 1 0 11.5 0a5.8 5.8 0 1 0 -11.5 0M473 562.6a5.8 5.8 0 1 0 11.5 0a5.8 5.8 0 1 0 -11.5 0M474.4 563.3a5.8 5.8 0 1 0 11.5 0a5.8 5.8 0 1 0 -11.5 0M475.8 564.6a5.8 5.8 0 1 0 11.5 0a5.8 5.8 0 1 0 -11.5 0M477.2 564.3a5.8 5.8 0 1 0 11.5 0a5.8 5.8 0 1 0 -11.5 0M478.6 565a5.8 5.8 0 1 0 11.5 0a5.8 5.8 0 1 0 -11.5 0M480 565.4a5.8 5.8 0 1 0 11.5 0a5.8 5.8 0 1 0 -11.5 0M481.5 565.5a5.8 5.8 0 1 0 11.5 0a5.8 5.8 0 1 0 -11.5 0M482.9 565.6a5.8 5.8 0 1 0 11.5 0a5.8 5.8 0 1 0 -11.5 0M484.3 565.6a5.8 5.8 0 1 0 11.5 0a5.8 5.8 0 1 0 -11.5 0M485.7 565.6a5.8 5.8 0 1 0 11.5 0a5.8 5.8 0 1 0 -11.5 0M487.1 565.6a5.8 5.8 0 1 0 11.5 0a5.8 5.8 0 1 0 -11.5 0M488.5 565.6a5.8 5.8 0 1 0 11.5 0a5.8 5.8 0 1 0 -11.5 0M489.9 565.6a5.8 5.8 0 1 0 11.5 0a5.8 5.8 0 1 0 -11.5 0M491.4 565.6a5.8 5.8 0 1 0 11.5 0a5.8 5.8 0 1 0 -11.5 0M492.8 565.6a5.8 5.8 0 1 0 11.5 0a5.8 5.8 0 1 0 -11.5 0M494.2 565.6a5.8 5.8 0 1 0 11.5 0a5.8 5.8 0 1 0 -11.5 0M495.6 565.6a5.8 5.8 0 1 0 11.5 0a5.8 5.8 0 1 0 -11.5 0M497 565.6a5.8 5.8 0 1 0 11.5 0a5.8 5.8 0 1 0 -11.5 0M498.4 565.6a5.8 5.8 0 1 0 11.5 0a5.8 5.8 0 1 0 -11.5 0M499.8 565.6a5.8 5.8 0 1 0 11.5 0a5.8 5.8 0 1 0 -11.5 0M501.2 565.6a5.8 5.8 0 1 0 11.5 0a5.8 5.8 0 1 0 -11.5 0M502.7 565.6a5.8 5.8 0 1 0 11.5 0a5.8 5.8 0 1 0 -11.5 0M504.1 565.6a5.8 5.8 0 1 0 11.5 0a5.8 5.8 0 1 0 -11.5 0M505.5 565.6a5.8 5.8 0 1 0 11.5 0a5.8 5.8 0 1 0 -11.5 0M506.9 565.6a5.8 5.8 0 1 0 11.5 0a5.8 5.8 0 1 0 -11.5 0M508.3 565.6a5.8 5.8 0 1 0 11.5 0a5.8 5.8 0 1 0 -11.5 0M509.7 565.6a5.8 5.8 0 1 0 11.5 0a5.8 5.8 0 1 0 -11.5 0M511.1 565.6a5.8 5.8 0 1 0 11.5 0a5.8 5.8 0 1 0 -11.5 0M512.6 565.6a5.8 5.8 0 1 0 11.5 0a5.8 5.8 0 1 0 -11.5 0M514 565.6a5.8 5.8 0 1 0 11.5 0a5.8 5.8 0 1 0 -11.5 0M515.4 565.6a5.8 5.8 0 1 0 11.5 0a5.8 5.8 0 1 0 -11.5 0M516.8 565.6a5.8 5.8 0 1 0 11.5 0a5.8 5.8 0 1 0 -11.5 0M518.2 565.6a5.8 5.8 0 1 0 11.5 0a5.8 5.8 0 1 0 -11.5 0M519.6 565.6a5.8 5.8 0 1 0 11.5 0a5.8 5.8 0 1 0 -11.5 0M521 565.6a5.8 5.8 0 1 0 11.5 0a5.8 5.8 0 1 0 -11.5 0M522.4 565.6a5.8 5.8 0 1 0 11.5 0a5.8 5.8 0 1 0 -11.5 0M523.9 565.6a5.8 5.8 0 1 0 11.5 0a5.8 5.8 0 1 0 -11.5 0M525.3 565.6a5.8 5.8 0 1 0 11.5 0a5.8 5.8 0 1 0 -11.5 0M526.7 565.6a5.8 5.8 0 1 0 11.5 0a5.8 5.8 0 1 0 -11.5 0M528.1 565.6a5.8 5.8 0 1 0 11.5 0a5.8 5.8 0 1 0 -11.5 0M529.5 565.6a5.8 5.8 0 1 0 11.5 0a5.8 5.8 0 1 0 -11.5 0M530.9 565.6a5.8 5.8 0 1 0 11.5 0a5.8 5.8 0 1 0 -11.5 0M532.3 565.6a5.8 5.8 0 1 0 11.5 0a5.8 5.8 0 1 0 -11.5 0M533.8 565.6a5.8 5.8 0 1 0 11.5 0a5.8 5.8 0 1 0 -11.5 0M535.2 565.6a5.8 5.8 0 1 0 11.5 0a5.8 5.8 0 1 0 -11.5 0M536.6 565.6a5.8 5.8 0 1 0 11.5 0a5.8 5.8 0 1 0 -11.5 0M538 565.6a5.8 5.8 0 1 0 11.5 0a5.8 5.8 0 1 0 -11.5 0M539.4 565.6a5.8 5.8 0 1 0 11.5 0a5.8 5.8 0 1 0 -11.5 0M540.8 565.6a5.8 5.8 0 1 0 11.5 0a5.8 5.8 0 1 0 -11.5 0M542.2 565.6a5.8 5.8 0 1 0 11.5 0a5.8 5.8 0 1 0 -11.5 0M543.6 565.6a5.8 5.8 0 1 0 11.5 0a5.8 5.8 0 1 0 -11.5 0M545.1 565.6a5.8 5.8 0 1 0 11.5 0a5.8 5.8 0 1 0 -11.5 0M546.5 565.6a5.8 5.8 0 1 0 11.5 0a5.8 5.8 0 1 0 -11.5 0M547.9 565.6a5.8 5.8 0 1 0 11.5 0a5.8 5.8 0 1 0 -11.5 0M549.3 565.6a5.8 5.8 0 1 0 11.5 0a5.8 5.8 0 1 0 -11.5 0M550.7 565.6a5.8 5.8 0 1 0 11.5 0a5.8 5.8 0 1 0 -11.5 0M552.1 565.6a5.8 5.8 0 1 0 11.5 0a5.8 5.8 0 1 0 -11.5 0M553.5 565.6a5.8 5.8 0 1 0 11.5 0a5.8 5.8 0 1 0 -11.5 0M555 565.6a5.8 5.8 0 1 0 11.5 0a5.8 5.8 0 1 0 -11.5 0M556.4 565.6a5.8 5.8 0 1 0 11.5 0a5.8 5.8 0 1 0 -11.5 0M557.8 565.6a5.8 5.8 0 1 0 11.5 0a5.8 5.8 0 1 0 -11.5 0M559.2 565.6a5.8 5.8 0 1 0 11.5 0a5.8 5.8 0 1 0 -11.5 0M560.6 565.6a5.8 5.8 0 1 0 11.5 0a5.8 5.8 0 1 0 -11.5 0M562 565.6a5.8 5.8 0 1 0 11.5 0a5.8 5.8 0 1 0 -11.5 0M563.4 565.6a5.8 5.8 0 1 0 11.5 0a5.8 5.8 0 1 0 -11.5 0M564.8 565.6a5.8 5.8 0 1 0 11.5 0a5.8 5.8 0 1 0 -11.5 0M566.3 565.6a5.8 5.8 0 1 0 11.5 0a5.8 5.8 0 1 0 -11.5 0M567.7 565.6a5.8 5.8 0 1 0 11.5 0a5.8 5.8 0 1 0 -11.5 0M569.1 565.6a5.8 5.8 0 1 0 11.5 0a5.8 5.8 0 1 0 -11.5 0M570.5 565.6a5.8 5.8 0 1 0 11.5 0a5.8 5.8 0 1 0 -11.5 0M571.9 565.6a5.8 5.8 0 1 0 11.5 0a5.8 5.8 0 1 0 -11.5 0M573.3 565.6a5.8 5.8 0 1 0 11.5 0a5.8 5.8 0 1 0 -11.5 0M574.7 565.6a5.8 5.8 0 1 0 11.5 0a5.8 5.8 0 1 0 -11.5 0M576.2 565.6a5.8 5.8 0 1 0 11.5 0a5.8 5.8 0 1 0 -11.5 0M577.6 565.6a5.8 5.8 0 1 0 11.5 0a5.8 5.8 0 1 0 -11.5 0M579 565.6a5.8 5.8 0 1 0 11.5 0a5.8 5.8 0 1 0 -11.5 0M580.4 565.6a5.8 5.8 0 1 0 11.5 0a5.8 5.8 0 1 0 -11.5 0M581.8 565.6a5.8 5.8 0 1 0 11.5 0a5.8 5.8 0 1 0 -11.5 0M583.2 565.6a5.8 5.8 0 1 0 11.5 0a5.8 5.8 0 1 0 -11.5 0M584.6 565.6a5.8 5.8 0 1 0 11.5 0a5.8 5.8 0 1 0 -11.5 0M586 565.6a5.8 5.8 0 1 0 11.5 0a5.8 5.8 0 1 0 -11.5 0M587.5 565.6a5.8 5.8 0 1 0 11.5 0a5.8 5.8 0 1 0 -11.5 0M588.9 565.6a5.8 5.8 0 1 0 11.5 0a5.8 5.8 0 1 0 -11.5 0M590.3 565.6a5.8 5.8 0 1 0 11.5 0a5.8 5.8 0 1 0 -11.5 0M591.7 565.6a5.8 5.8 0 1 0 11.5 0a5.8 5.8 0 1 0 -11.5 0M593.1 565.6a5.8 5.8 0 1 0 11.5 0a5.8 5.8 0 1 0 -11.5 0M594.5 565.6a5.8 5.8 0 1 0 11.5 0a5.8 5.8 0 1 0 -11.5 0M595.9 565.6a5.8 5.8 0 1 0 11.5 0a5.8 5.8 0 1 0 -11.5 0M597.4 565.6a5.8 5.8 0 1 0 11.5 0a5.8 5.8 0 1 0 -11.5 0M598.8 565.6a5.8 5.8 0 1 0 11.5 0a5.8 5.8 0 1 0 -11.5 0M600.2 565.6a5.8 5.8 0 1 0 11.5 0a5.8 5.8 0 1 0 -11.5 0M601.6 565.6a5.8 5.8 0 1 0 11.5 0a5.8 5.8 0 1 0 -11.5 0M603 565.6a5.8 5.8 0 1 0 11.5 0a5.8 5.8 0 1 0 -11.5 0M604.4 565.6a5.8 5.8 0 1 0 11.5 0a5.8 5.8 0 1 0 -11.5 0M605.8 565.6a5.8 5.8 0 1 0 11.5 0a5.8 5.8 0 1 0 -11.5 0M607.2 565.6a5.8 5.8 0 1 0 11.5 0a5.8 5.8 0 1 0 -11.5 0M608.7 565.6a5.8 5.8 0 1 0 11.5 0a5.8 5.8 0 1 0 -11.5 0M610.1 565.6a5.8 5.8 0 1 0 11.5 0a5.8 5.8 0 1 0 -11.5 0M611.5 565.6a5.8 5.8 0 1 0 11.5 0a5.8 5.8 0 1 0 -11.5 0M612.9 565.6a5.8 5.8 0 1 0 11.5 0a5.8 5.8 0 1 0 -11.5 0M614.3 565.6a5.8 5.8 0 1 0 11.5 0a5.8 5.8 0 1 0 -11.5 0M615.7 565.6a5.8 5.8 0 1 0 11.5 0a5.8 5.8 0 1 0 -11.5 0M617.1 565.6a5.8 5.8 0 1 0 11.5 0a5.8 5.8 0 1 0 -11.5 0M618.6 565.6a5.8 5.8 0 1 0 11.5 0a5.8 5.8 0 1 0 -11.5 0M620 565.6a5.8 5.8 0 1 0 11.5 0a5.8 5.8 0 1 0 -11.5 0M621.4 565.6a5.8 5.8 0 1 0 11.5 0a5.8 5.8 0 1 0 -11.5 0M622.8 565.6a5.8 5.8 0 1 0 11.5 0a5.8 5.8 0 1 0 -11.5 0M624.2 565.6a5.8 5.8 0 1 0 11.5 0a5.8 5.8 0 1 0 -11.5 0M625.6 565.6a5.8 5.8 0 1 0 11.5 0a5.8 5.8 0 1 0 -11.5 0M627 565.6a5.8 5.8 0 1 0 11.5 0a5.8 5.8 0 1 0 -11.5 0M628.4 565.6a5.8 5.8 0 1 0 11.5 0a5.8 5.8 0 1 0 -11.5 0M629.9 565.6a5.8 5.8 0 1 0 11.5 0a5.8 5.8 0 1 0 -11.5 0M631.3 565.6a5.8 5.8 0 1 0 11.5 0a5.8 5.8 0 1 0 -11.5 0M632.7 565.6a5.8 5.8 0 1 0 11.5 0a5.8 5.8 0 1 0 -11.5 0M634.1 565.6a5.8 5.8 0 1 0 11.5 0a5.8 5.8 0 1 0 -11.5 0M635.5 565.6a5.8 5.8 0 1 0 11.5 0a5.8 5.8 0 1 0 -11.5 0M636.9 565.6a5.8 5.8 0 1 0 11.5 0a5.8 5.8 0 1 0 -11.5 0M638.3 565.6a5.8 5.8 0 1 0 11.5 0a5.8 5.8 0 1 0 -11.5 0M639.8 565.6a5.8 5.8 0 1 0 11.5 0a5.8 5.8 0 1 0 -11.5 0M641.2 565.6a5.8 5.8 0 1 0 11.5 0a5.8 5.8 0 1 0 -11.5 0M642.6 565.6a5.8 5.8 0 1 0 11.5 0a5.8 5.8 0 1 0 -11.5 0M644 565.6a5.8 5.8 0 1 0 11.5 0a5.8 5.8 0 1 0 -11.5 0M645.4 565.6a5.8 5.8 0 1 0 11.5 0a5.8 5.8 0 1 0 -11.5 0M646.8 565.6a5.8 5.8 0 1 0 11.5 0a5.8 5.8 0 1 0 -11.5 0M648.2 565.6a5.8 5.8 0 1 0 11.5 0a5.8 5.8 0 1 0 -11.5 0M649.7 565.6a5.8 5.8 0 1 0 11.5 0a5.8 5.8 0 1 0 -11.5 0M651.1 565.6a5.8 5.8 0 1 0 11.5 0a5.8 5.8 0 1 0 -11.5 0M652.5 565.6a5.8 5.8 0 1 0 11.5 0a5.8 5.8 0 1 0 -11.5 0M653.9 565.6a5.8 5.8 0 1 0 11.5 0a5.8 5.8 0 1 0 -11.5 0M655.3 565.6a5.8 5.8 0 1 0 11.5 0a5.8 5.8 0 1 0 -11.5 0M656.7 565.6a5.8 5.8 0 1 0 11.5 0a5.8 5.8 0 1 0 -11.5 0M658.1 565.6a5.8 5.8 0 1 0 11.5 0a5.8 5.8 0 1 0 -11.5 0M659.5 565.6a5.8 5.8 0 1 0 11.5 0a5.8 5.8 0 1 0 -11.5 0M661 565.6a5.8 5.8 0 1 0 11.5 0a5.8 5.8 0 1 0 -11.5 0M662.4 565.6a5.8 5.8 0 1 0 11.5 0a5.8 5.8 0 1 0 -11.5 0M663.8 565.6a5.8 5.8 0 1 0 11.5 0a5.8 5.8 0 1 0 -11.5 0M665.2 565.6a5.8 5.8 0 1 0 11.5 0a5.8 5.8 0 1 0 -11.5 0M666.6 565.6a5.8 5.8 0 1 0 11.5 0a5.8 5.8 0 1 0 -11.5 0M668 565.6a5.8 5.8 0 1 0 11.5 0a5.8 5.8 0 1 0 -11.5 0M669.4 565.6a5.8 5.8 0 1 0 11.5 0a5.8 5.8 0 1 0 -11.5 0M670.9 565.6a5.8 5.8 0 1 0 11.5 0a5.8 5.8 0 1 0 -11.5 0M672.3 565.6a5.8 5.8 0 1 0 11.5 0a5.8 5.8 0 1 0 -11.5 0M673.7 565.6a5.8 5.8 0 1 0 11.5 0a5.8 5.8 0 1 0 -11.5 0M675.1 565.6a5.8 5.8 0 1 0 11.5 0a5.8 5.8 0 1 0 -11.5 0M676.5 565.6a5.8 5.8 0 1 0 11.5 0a5.8 5.8 0 1 0 -11.5 0M677.9 565.6a5.8 5.8 0 1 0 11.5 0a5.8 5.8 0 1 0 -11.5 0M679.3 565.6a5.8 5.8 0 1 0 11.5 0a5.8 5.8 0 1 0 -11.5 0M680.7 565.6a5.8 5.8 0 1 0 11.5 0a5.8 5.8 0 1 0 -11.5 0M682.2 565.6a5.8 5.8 0 1 0 11.5 0a5.8 5.8 0 1 0 -11.5 0M683.6 565.6a5.8 5.8 0 1 0 11.5 0a5.8 5.8 0 1 0 -11.5 0M685 565.6a5.8 5.8 0 1 0 11.5 0a5.8 5.8 0 1 0 -11.5 0M686.4 565.6a5.8 5.8 0 1 0 11.5 0a5.8 5.8 0 1 0 -11.5 0M687.8 565.6a5.8 5.8 0 1 0 11.5 0a5.8 5.8 0 1 0 -11.5 0M689.2 565.6a5.8 5.8 0 1 0 11.5 0a5.8 5.8 0 1 0 -11.5 0M690.6 565.6a5.8 5.8 0 1 0 11.5 0a5.8 5.8 0 1 0 -11.5 0M692.1 565.6a5.8 5.8 0 1 0 11.5 0a5.8 5.8 0 1 0 -11.5 0M693.5 565.6a5.8 5.8 0 1 0 11.5 0a5.8 5.8 0 1 0 -11.5 0M694.9 565.6a5.8 5.8 0 1 0 11.5 0a5.8 5.8 0 1 0 -11.5 0M696.3 565.6a5.8 5.8 0 1 0 11.5 0a5.8 5.8 0 1 0 -11.5 0M697.7 565.6a5.8 5.8 0 1 0 11.5 0a5.8 5.8 0 1 0 -11.5 0M699.1 565.6a5.8 5.8 0 1 0 11.5 0a5.8 5.8 0 1 0 -11.5 0M700.5 565.6a5.8 5.8 0 1 0 11.5 0a5.8 5.8 0 1 0 -11.5 0M701.9 565.6a5.8 5.8 0 1 0 11.5 0a5.8 5.8 0 1 0 -11.5 0M703.4 565.6a5.8 5.8 0 1 0 11.5 0a5.8 5.8 0 1 0 -11.5 0M704.8 565.6a5.8 5.8 0 1 0 11.5 0a5.8 5.8 0 1 0 -11.5 0M706.2 565.6a5.8 5.8 0 1 0 11.5 0a5.8 5.8 0 1 0 -11.5 0M707.6 565.6a5.8 5.8 0 1 0 11.5 0a5.8 5.8 0 1 0 -11.5 0M709 565.6a5.8 5.8 0 1 0 11.5 0a5.8 5.8 0 1 0 -11.5 0M710.4 565.6a5.8 5.8 0 1 0 11.5 0a5.8 5.8 0 1 0 -11.5 0M711.8 565.6a5.8 5.8 0 1 0 11.5 0a5.8 5.8 0 1 0 -11.5 0M713.3 565.6a5.8 5.8 0 1 0 11.5 0a5.8 5.8 0 1 0 -11.5 0M714.7 565.6a5.8 5.8 0 1 0 11.5 0a5.8 5.8 0 1 0 -11.5 0M716.1 565.6a5.8 5.8 0 1 0 11.5 0a5.8 5.8 0 1 0 -11.5 0M717.5 565.6a5.8 5.8 0 1 0 11.5 0a5.8 5.8 0 1 0 -11.5 0M718.9 565.6a5.8 5.8 0 1 0 11.5 0a5.8 5.8 0 1 0 -11.5 0M720.3 565.6a5.8 5.8 0 1 0 11.5 0a5.8 5.8 0 1 0 -11.5 0M721.7 565.6a5.8 5.8 0 1 0 11.5 0a5.8 5.8 0 1 0 -11.5 0M723.1 565.6a5.8 5.8 0 1 0 11.5 0a5.8 5.8 0 1 0 -11.5 0M724.6 565.6a5.8 5.8 0 1 0 11.5 0a5.8 5.8 0 1 0 -11.5 0M726 565.6a5.8 5.8 0 1 0 11.5 0a5.8 5.8 0 1 0 -11.5 0M727.4 565.6a5.8 5.8 0 1 0 11.5 0a5.8 5.8 0 1 0 -11.5 0M728.8 565.6a5.8 5.8 0 1 0 11.5 0a5.8 5.8 0 1 0 -11.5 0M730.2 565.6a5.8 5.8 0 1 0 11.5 0a5.8 5.8 0 1 0 -11.5 0M731.6 565.6a5.8 5.8 0 1 0 11.5 0a5.8 5.8 0 1 0 -11.5 0M733 565.6a5.8 5.8 0 1 0 11.5 0a5.8 5.8 0 1 0 -11.5 0M734.5 565.6a5.8 5.8 0 1 0 11.5 0a5.8 5.8 0 1 0 -11.5 0M735.9 565.6a5.8 5.8 0 1 0 11.5 0a5.8 5.8 0 1 0 -11.5 0M737.3 565.6a5.8 5.8 0 1 0 11.5 0a5.8 5.8 0 1 0 -11.5 0M738.7 565.6a5.8 5.8 0 1 0 11.5 0a5.8 5.8 0 1 0 -11.5 0M740.1 565.6a5.8 5.8 0 1 0 11.5 0a5.8 5.8 0 1 0 -11.5 0M741.5 565.6a5.8 5.8 0 1 0 11.5 0a5.8 5.8 0 1 0 -11.5 0M742.9 565.6a5.8 5.8 0 1 0 11.5 0a5.8 5.8 0 1 0 -11.5 0M744.3 565.6a5.8 5.8 0 1 0 11.5 0a5.8 5.8 0 1 0 -11.5 0M745.8 565.6a5.8 5.8 0 1 0 11.5 0a5.8 5.8 0 1 0 -11.5 0M747.2 565.6a5.8 5.8 0 1 0 11.5 0a5.8 5.8 0 1 0 -11.5 0M748.6 565.6a5.8 5.8 0 1 0 11.5 0a5.8 5.8 0 1 0 -11.5 0M750 565.6a5.8 5.8 0 1 0 11.5 0a5.8 5.8 0 1 0 -11.5 0M751.4 565.6a5.8 5.8 0 1 0 11.5 0a5.8 5.8 0 1 0 -11.5 0M752.8 565.6a5.8 5.8 0 1 0 11.5 0a5.8 5.8 0 1 0 -11.5 0M754.2 565.6a5.8 5.8 0 1 0 11.5 0a5.8 5.8 0 1 0 -11.5 0M755.7 565.6a5.8 5.8 0 1 0 11.5 0a5.8 5.8 0 1 0 -11.5 0M757.1 565.6a5.8 5.8 0 1 0 11.5 0a5.8 5.8 0 1 0 -11.5 0M758.5 565.6a5.8 5.8 0 1 0 11.5 0a5.8 5.8 0 1 0 -11.5 0M759.9 565.6a5.8 5.8 0 1 0 11.5 0a5.8 5.8 0 1 0 -11.5 0M761.3 565.6a5.8 5.8 0 1 0 11.5 0a5.8 5.8 0 1 0 -11.5 0M762.7 565.6a5.8 5.8 0 1 0 11.5 0a5.8 5.8 0 1 0 -11.5 0M764.1 565.6a5.8 5.8 0 1 0 11.5 0a5.8 5.8 0 1 0 -11.5 0M765.5 565.6a5.8 5.8 0 1 0 11.5 0a5.8 5.8 0 1 0 -11.5 0M767 565.6a5.8 5.8 0 1 0 11.5 0a5.8 5.8 0 1 0 -11.5 0M768.4 565.6a5.8 5.8 0 1 0 11.5 0a5.8 5.8 0 1 0 -11.5 0M769.8 565.6a5.8 5.8 0 1 0 11.5 0a5.8 5.8 0 1 0 -11.5 0M771.2 565.6a5.8 5.8 0 1 0 11.5 0a5.8 5.8 0 1 0 -11.5 0M772.6 565.6a5.8 5.8 0 1 0 11.5 0a5.8 5.8 0 1 0 -11.5 0M774 565.6a5.8 5.8 0 1 0 11.5 0a5.8 5.8 0 1 0 -11.5 0M775.4 565.6a5.8 5.8 0 1 0 11.5 0a5.8 5.8 0 1 0 -11.5 0M776.9 565.6a5.8 5.8 0 1 0 11.5 0a5.8 5.8 0 1 0 -11.5 0M778.3 565.6a5.8 5.8 0 1 0 11.5 0a5.8 5.8 0 1 0 -11.5 0M779.7 565.6a5.8 5.8 0 1 0 11.5 0a5.8 5.8 0 1 0 -11.5 0M781.1 565.6a5.8 5.8 0 1 0 11.5 0a5.8 5.8 0 1 0 -11.5 0M782.5 565.6a5.8 5.8 0 1 0 11.5 0a5.8 5.8 0 1 0 -11.5 0M783.9 565.6a5.8 5.8 0 1 0 11.5 0a5.8 5.8 0 1 0 -11.5 0M785.3 565.6a5.8 5.8 0 1 0 11.5 0a5.8 5.8 0 1 0 -11.5 0M786.8 565.6a5.8 5.8 0 1 0 11.5 0a5.8 5.8 0 1 0 -11.5 0M788.2 565.6a5.8 5.8 0 1 0 11.5 0a5.8 5.8 0 1 0 -11.5 0M789.6 565.6a5.8 5.8 0 1 0 11.5 0a5.8 5.8 0 1 0 -11.5 0M791 565.6a5.8 5.8 0 1 0 11.5 0a5.8 5.8 0 1 0 -11.5 0M792.4 565.6a5.8 5.8 0 1 0 11.5 0a5.8 5.8 0 1 0 -11.5 0M793.8 565.6a5.8 5.8 0 1 0 11.5 0a5.8 5.8 0 1 0 -11.5 0M795.2 565.6a5.8 5.8 0 1 0 11.5 0a5.8 5.8 0 1 0 -11.5 0M796.6 565.6a5.8 5.8 0 1 0 11.5 0a5.8 5.8 0 1 0 -11.5 0M798.1 565.6a5.8 5.8 0 1 0 11.5 0a5.8 5.8 0 1 0 -11.5 0M799.5 565.6a5.8 5.8 0 1 0 11.5 0a5.8 5.8 0 1 0 -11.5 0M800.9 565.6a5.8 5.8 0 1 0 11.5 0a5.8 5.8 0 1 0 -11.5 0M802.3 565.6a5.8 5.8 0 1 0 11.5 0a5.8 5.8 0 1 0 -11.5 0M803.7 565.6a5.8 5.8 0 1 0 11.5 0a5.8 5.8 0 1 0 -11.5 0M805.1 565.6a5.8 5.8 0 1 0 11.5 0a5.8 5.8 0 1 0 -11.5 0M806.5 565.6a5.8 5.8 0 1 0 11.5 0a5.8 5.8 0 1 0 -11.5 0M808 565.6a5.8 5.8 0 1 0 11.5 0a5.8 5.8 0 1 0 -11.5 0M809.4 565.6a5.8 5.8 0 1 0 11.5 0a5.8 5.8 0 1 0 -11.5 0M810.8 565.6a5.8 5.8 0 1 0 11.5 0a5.8 5.8 0 1 0 -11.5 0M812.2 565.6a5.8 5.8 0 1 0 11.5 0a5.8 5.8 0 1 0 -11.5 0M813.6 565.6a5.8 5.8 0 1 0 11.5 0a5.8 5.8 0 1 0 -11.5 0M815 565.6a5.8 5.8 0 1 0 11.5 0a5.8 5.8 0 1 0 -11.5 0M816.4 565.6a5.8 5.8 0 1 0 11.5 0a5.8 5.8 0 1 0 -11.5 0M817.8 565.6a5.8 5.8 0 1 0 11.5 0a5.8 5.8 0 1 0 -11.5 0M819.3 565.6a5.8 5.8 0 1 0 11.5 0a5.8 5.8 0 1 0 -11.5 0M820.7 565.6a5.8 5.8 0 1 0 11.5 0a5.8 5.8 0 1 0 -11.5 0M822.1 565.6a5.8 5.8 0 1 0 11.5 0a5.8 5.8 0 1 0 -11.5 0M823.5 565.6a5.8 5.8 0 1 0 11.5 0a5.8 5.8 0 1 0 -11.5 0M824.9 565.6a5.8 5.8 0 1 0 11.5 0a5.8 5.8 0 1 0 -11.5 0M826.3 565.6a5.8 5.8 0 1 0 11.5 0a5.8 5.8 0 1 0 -11.5 0M827.7 565.6a5.8 5.8 0 1 0 11.5 0a5.8 5.8 0 1 0 -11.5 0" fill="none" stroke="#ff0000" stroke-width="1.65" stroke-linejoin="miter"/>
<path d="M212.2 565.6h1.6M213.6 565.6h1.6M215 565.6h1.6M216.4 565.6h1.6M217.9 565.6h1.6M219.3 565.6h1.6M220.7 565.6h1.6M222.1 565.6h1.6M223.5 565.6h1.6M224.9 565.6h1.6M226.3 565.6h1.6M227.8 565.6h1.6M229.2 565.6h1.6M230.6 565.6h1.6M232 565.6h1.6M233.4 565.6h1.6M234.8 565.6h1.6M236.2 565.6h1.6M237.6 565.6h1.6M239.1 565.6h1.6M240.5 565.6h1.6M241.9 565.6h1.6M243.3 565.6h1.6M244.7 565.6h1.6M246.1 565.6h1.6M247.5 565.6h1.6M249 565.6h1.6M250.4 565.6h1.6M251.8 565.6h1.6M253.2 565.6h1.6M254.6 565.6h1.6M256 565.6h1.6M257.4 565.6h1.6M258.8 565.6h1.6M260.3 565.6h1.6M261.7 565.6h1.6M263.1 565.6h1.6M264.5 565.6h1.6M265.9 565.6h1.6M267.3 565.6h1.6M268.7 565.6h1.6M270.2 565.6h1.6M271.6 565.6h1.6M273 565.6h1.6M274.4 565.6h1.6M275.8 565.6h1.6M277.2 565.6h1.6M278.6 565.6h1.6M280 565.6h1.6M281.5 565.6h1.6M282.9 565.6h1.6M284.3 565.6h1.6M285.7 565.6h1.6M287.1 565.6h1.6M288.5 565.6h1.6M289.9 565.6h1.6M291.4 565.6h1.6M292.8 565.6h1.6M294.2 565.6h1.6M295.6 565.6h1.6M297 565.6h1.6M298.4 565.6h1.6M299.8 565.6h1.6M301.3 565.6h1.6M302.7 565.6h1.6M304.1 565.6h1.6M305.5 565.6h1.6M306.9 565.6h1.6M308.3 565.6h1.6M309.7 565.6h1.6M311.1 565.6h1.6M312.6 565.6h1.6M314 565.6h1.6M315.4 565.6h1.6M316.8 565.6h1.6M318.2 565.6h1.6M319.6 565.6h1.6M321 565.6h1.6M322.5 565.6h1.6M323.9 565.6h1.6M325.3 565.6h1.6M326.7 565.6h1.6M328.1 565.6h1.6M329.5 565.6h1.6M330.9 565.6h1.6M332.3 565.6h1.6M333.8 565.6h1.6M335.2 565.6h1.6M336.6 565.6h1.6M338 565.6h1.6M339.4 565.6h1.6M340.8 565.6h1.6M342.2 565.6h1.6M343.7 565.1h1.6M345.1 564.6h1.6M346.5 563.9h1.6M347.9 563.5h1.6M349.3 563.8h1.6M350.7 562.7h1.6M352.1 562.1h1.6M353.5 561.7h1.6M355 558.9h1.6M356.4 559.9h1.6M357.8 559.2h1.6M359.2 557h1.6M360.6 556.3h1.6M362 556.6h1.6M363.4 553.5h1.6M364.9 552.1h1.6M366.3 553.2h1.6M367.7 550h1.6M369.1 550h1.6M370.5 551.4h1.6M371.9 544.5h1.6M373.3 541h1.6M374.7 538h1.6M376.2 536.7h1.6M377.6 535.9h1.6M379 533h1.6M380.4 530.6h1.6M381.8 527h1.6M383.2 524.7h1.6M384.6 520.3h1.6M386.1 518.2h1.6M387.5 516.4h1.6M388.9 512.8h1.6M390.3 507h1.6M391.7 502.3h1.6M393.1 498.7h1.6M394.5 499.5h1.6M395.9 491.2h1.6M397.4 487.4h1.6M398.8 481h1.6M400.2 479.7h1.6M401.6 470.6h1.6M403 463.3h1.6M404.4 466.4h1.6M405.8 465.6h1.6M407.3 455.7h1.6M408.7 452.8h1.6M410.1 450.1h1.6M411.5 442.2h1.6M412.9 437.5h1.6M414.3 434.9h1.6M415.7 431.5h1.6M417.1 424.1h1.6M418.6 422.7h1.6M420 418.2h1.6M421.4 412.3h1.6M422.8 417.4h1.6M424.2 418.8h1.6M425.6 412.2h1.6M427 412.5h1.6M428.5 414.9h1.6M429.9 422.3h1.6M431.3 419.3h1.6M432.7 426h1.6M434.1 425.8h1.6M435.5 430h1.6M436.9 434h1.6M438.4 436.9h1.6M439.8 439.9h1.6M441.2 448.5h1.6M442.6 453.9h1.6M444 460.7h1.6M445.4 467.2h1.6M446.8 471.5h1.6M448.2 476.6h1.6M449.7 481.7h1.6M451.1 487h1.6M452.5 499.5h1.6M453.9 504.3h1.6M455.3 512.7h1.6M456.7 516.1h1.6M458.1 521.8h1.6M459.6 526.1h1.6M461 532.5h1.6M462.4 536h1.6M463.8 540.5h1.6M465.2 545.1h1.6M466.6 547h1.6M468 552.7h1.6M469.4 554.1h1.6M470.9 556h1.6M472.3 557.2h1.6M473.7 558.3h1.6M475.1 560.2h1.6M476.5 561.3h1.6M477.9 562.6h1.6M479.3 563.3h1.6M480.8 564.6h1.6M482.2 564.3h1.6M483.6 565h1.6M485 565.4h1.6M486.4 565.5h1.6M487.8 565.6h1.6M489.2 565.6h1.6M490.6 565.6h1.6M492.1 565.6h1.6M493.5 565.6h1.6M494.9 565.6h1.6M496.3 565.6h1.6M497.7 565.6h1.6M499.1 565.6h1.6M500.5 565.6h1.6M502 565.6h1.6M503.4 565.6h1.6M504.8 565.6h1.6M506.2 565.6h1.6M507.6 565.6h1.6M509 565.6h1.6M510.4 565.6h1.6M511.8 565.6h1.6M513.3 565.6h1.6M514.7 565.6h1.6M516.1 565.6h1.6M517.5 565.6h1.6M518.9 565.6h1.6M520.3 565.6h1.6M521.7 565.6h1.6M523.2 565.6h1.6M524.6 565.6h1.6M526 565.6h1.6M527.4 565.6h1.6M528.8 565.6h1.6M530.2 565.6h1.6M531.6 565.6h1.6M533 565.6h1.6M534.5 565.6h1.6M535.9 565.6h1.6M537.3 565.6h1.6M538.7 565.6h1.6M540.1 565.6h1.6M541.5 565.6h1.6M542.9 565.6h1.6M544.4 565.6h1.6M545.8 565.6h1.6M547.2 565.6h1.6M548.6 565.6h1.6M550 565.6h1.6M551.4 565.6h1.6M552.8 565.6h1.6M554.2 565.6h1.6M555.7 565.6h1.6M557.1 565.6h1.6M558.5 565.6h1.6M559.9 565.6h1.6M561.3 565.6h1.6M562.7 565.6h1.6M564.1 565.6h1.6M565.6 565.6h1.6M567 565.6h1.6M568.4 565.6h1.6M569.8 565.6h1.6M571.2 565.6h1.6M572.6 565.6h1.6M574 565.6h1.6M575.5 565.6h1.6M576.9 565.6h1.6M578.3 565.6h1.6M579.7 565.6h1.6M581.1 565.6h1.6M582.5 565.6h1.6M583.9 565.6h1.6M585.3 565.6h1.6M586.8 565.6h1.6M588.2 565.6h1.6M589.6 565.6h1.6M591 565.6h1.6M592.4 565.6h1.6M593.8 565.6h1.6M595.2 565.6h1.6M596.7 565.6h1.6M598.1 565.6h1.6M599.5 565.6h1.6M600.9 565.6h1.6M602.3 565.6h1.6M603.7 565.6h1.6M605.1 565.6h1.6M606.5 565.6h1.6M608 565.6h1.6M609.4 565.6h1.6M610.8 565.6h1.6M612.2 565.6h1.6M613.6 565.6h1.6M615 565.6h1.6M616.4 565.6h1.6M617.9 565.6h1.6M619.3 565.6h1.6M620.7 565.6h1.6M622.1 565.6h1.6M623.5 565.6h1.6M624.9 565.6h1.6M626.3 565.6h1.6M627.7 565.6h1.6M629.2 565.6h1.6M630.6 565.6h1.6M632 565.6h1.6M633.4 565.6h1.6M634.8 565.6h1.6M636.2 565.6h1.6M637.6 565.6h1.6M639.1 565.6h1.6M640.5 565.6h1.6M641.9 565.6h1.6M643.3 565.6h1.6M644.7 565.6h1.6M646.1 565.6h1.6M647.5 565.6h1.6M648.9 565.6h1.6M650.4 565.6h1.6M651.8 565.6h1.6M653.2 565.6h1.6M654.6 565.6h1.6M656 565.6h1.6M657.4 565.6h1.6M658.8 565.6h1.6M660.3 565.6h1.6M661.7 565.6h1.6M663.1 565.6h1.6M664.5 565.6h1.6M665.9 565.6h1.6M667.3 565.6h1.6M668.7 565.6h1.6M670.1 565.6h1.6M671.6 565.6h1.6M673 565.6h1.6M674.4 565.6h1.6M675.8 565.6h1.6M677.2 565.6h1.6M678.6 565.6h1.6M680 565.6h1.6M681.5 565.6h1.6M682.9 565.6h1.6M684.3 565.6h1.6M685.7 565.6h1.6M687.1 565.6h1.6M688.5 565.6h1.6M689.9 565.6h1.6M691.3 565.6h1.6M692.8 565.6h1.6M694.2 565.6h1.6M695.6 565.6h1.6M697 565.6h1.6M698.4 565.6h1.6M699.8 565.6h1.6M701.2 565.6h1.6M702.7 565.6h1.6M704.1 565.6h1.6M705.5 565.6h1.6M706.9 565.6h1.6M708.3 565.6h1.6M709.7 565.6h1.6M711.1 565.6h1.6M712.6 565.6h1.6M714 565.6h1.6M715.4 565.6h1.6M716.8 565.6h1.6M718.2 565.6h1.6M719.6 565.6h1.6M721 565.6h1.6M722.4 565.6h1.6M723.9 565.6h1.6M725.3 565.6h1.6M726.7 565.6h1.6M728.1 565.6h1.6M729.5 565.6h1.6M730.9 565.6h1.6M732.3 565.6h1.6M733.8 565.6h1.6M735.2 565.6h1.6M736.6 565.6h1.6M738 565.6h1.6M739.4 565.6h1.6M740.8 565.6h1.6M742.2 565.6h1.6M743.6 565.6h1.6M745.1 565.6h1.6M746.5 565.6h1.6M747.9 565.6h1.6M749.3 565.6h1.6M750.7 565.6h1.6M752.1 565.6h1.6M753.5 565.6h1.6M755 565.6h1.6M756.4 565.6h1.6M757.8 565.6h1.6M759.2 565.6h1.6M760.6 565.6h1.6M762 565.6h1.6M763.4 565.6h1.6M764.8 565.6h1.6M766.3 565.6h1.6M767.7 565.6h1.6M769.1 565.6h1.6M770.5 565.6h1.6M771.9 565.6h1.6M773.3 565.6h1.6M774.7 565.6h1.6M776.2 565.6h1.6M777.6 565.6h1.6M779 565.6h1.6M780.4 565.6h1.6M781.8 565.6h1.6M783.2 565.6h1.6M784.6 565.6h1.6M786 565.6h1.6M787.5 565.6h1.6M788.9 565.6h1.6M790.3 565.6h1.6M791.7 565.6h1.6M793.1 565.6h1.6M794.5 565.6h1.6M795.9 565.6h1.6M797.4 565.6h1.6M798.8 565.6h1.6M800.2 565.6h1.6M801.6 565.6h1.6M803 565.6h1.6M804.4 565.6h1.6M805.8 565.6h1.6M807.2 565.6h1.6M808.7 565.6h1.6M810.1 565.6h1.6M811.5 565.6h1.6M812.9 565.6h1.6M814.3 565.6h1.6M815.7 565.6h1.6M817.1 565.6h1.6M818.6 565.6h1.6M820 565.6h1.6M821.4 565.6h1.6M822.8 565.6h1.6M824.2 565.6h1.6M825.6 565.6h1.6M827 565.6h1.6M828.4 565.6h1.6M829.9 565.6h1.6M831.3 565.6h1.6M832.7 565.6h1.6" fill="none" stroke="#ff0000" stroke-width="1.7"/>
<path d="M213 559l6 9.9h-12zM214.4 559l6 9.9h-12zM215.8 559l6 9.9h-12zM217.2 559l6 9.9h-12zM218.7 559l6 9.9h-12zM220.1 559l6 9.9h-12zM221.5 559l6 9.9h-12zM222.9 559l6 9.9h-12zM224.3 559l6 9.9h-12zM225.7 559l6 9.9h-12zM227.1 559l6 9.9h-12zM228.6 559l6 9.9h-12zM230 559l6 9.9h-12zM231.4 559l6 9.9h-12zM232.8 559l6 9.9h-12zM234.2 559l6 9.9h-12zM235.6 559l6 9.9h-12zM237 559l6 9.9h-12zM238.4 559l6 9.9h-12zM239.9 559l6 9.9h-12zM241.3 559l6 9.9h-12zM242.7 559l6 9.9h-12zM244.1 559l6 9.9h-12zM245.5 559l6 9.9h-12zM246.9 559l6 9.9h-12zM248.3 559l6 9.9h-12zM249.8 559l6 9.9h-12zM251.2 559l6 9.9h-12zM252.6 559l6 9.9h-12zM254 559l6 9.9h-12zM255.4 559l6 9.9h-12zM256.8 559l6 9.9h-12zM258.2 559l6 9.9h-12zM259.6 559l6 9.9h-12zM261.1 559l6 9.9h-12zM262.5 559l6 9.9h-12zM263.9 559l6 9.9h-12zM265.3 559l6 9.9h-12zM266.7 559l6 9.9h-12zM268.1 559l6 9.9h-12zM269.5 559l6 9.9h-12zM271 559l6 9.9h-12zM272.4 559l6 9.9h-12zM273.8 559l6 9.9h-12zM275.2 559l6 9.9h-12zM276.6 559l6 9.9h-12zM278 559l6 9.9h-12zM279.4 559l6 9.9h-12zM280.8 559l6 9.9h-12zM282.3 559l6 9.9h-12zM283.7 559l6 9.9h-12zM285.1 559l6 9.9h-12zM286.5 559l6 9.9h-12zM287.9 559l6 9.9h-12zM289.3 559l6 9.9h-12zM290.7 559l6 9.9h-12zM292.2 559l6 9.9h-12zM293.6 559l6 9.9h-12zM295 559l6 9.9h-12zM296.4 559l6 9.9h-12zM297.8 559l6 9.9h-12zM299.2 559l6 9.9h-12zM300.6 559l6 9.9h-12zM302.1 559l6 9.9h-12zM303.5 559l6 9.9h-12zM304.9 559l6 9.9h-12zM306.3 559l6 9.9h-12zM307.7 559l6 9.9h-12zM309.1 559l6 9.9h-12zM310.5 559l6 9.9h-12zM311.9 559l6 9.9h-12zM313.4 559l6 9.9h-12zM314.8 559l6 9.9h-12zM316.2 559l6 9.9h-12zM317.6 559l6 9.9h-12zM319 559l6 9.9h-12zM320.4 559l6 9.9h-12zM321.8 559l6 9.9h-12zM323.3 559l6 9.9h-12zM324.7 559l6 9.9h-12zM326.1 559l6 9.9h-12zM327.5 559l6 9.9h-12zM328.9 559l6 9.9h-12zM330.3 559l6 9.9h-12zM331.7 559l6 9.9h-12zM333.1 559l6 9.9h-12zM334.6 559l6 9.9h-12zM336 559l6 9.9h-12zM337.4 559l6 9.9h-12zM338.8 559l6 9.9h-12zM340.2 559l6 9.9h-12zM341.6 559l6 9.9h-12zM343 559l6 9.9h-12zM344.5 559l6 9.9h-12zM345.9 559l6 9.9h-12zM347.3 559l6 9.9h-12zM348.7 559l6 9.9h-12zM350.1 559l6 9.9h-12zM351.5 559l6 9.9h-12zM352.9 559l6 9.9h-12zM354.3 559l6 9.9h-12zM355.8 559l6 9.9h-12zM357.2 559l6 9.9h-12zM358.6 559l6 9.9h-12zM360 559l6 9.9h-12zM361.4 559l6 9.9h-12zM362.8 559l6 9.9h-12zM364.2 559l6 9.9h-12zM365.7 559l6 9.9h-12zM367.1 559l6 9.9h-12zM368.5 559l6 9.9h-12zM369.9 559l6 9.9h-12zM371.3 559l6 9.9h-12zM372.7 559l6 9.9h-12zM374.1 559l6 9.9h-12zM375.5 559l6 9.9h-12zM377 559l6 9.9h-12zM378.4 559l6 9.9h-12zM379.8 559l6 9.9h-12zM381.2 559l6 9.9h-12zM382.6 559l6 9.9h-12zM384 559l6 9.9h-12zM385.4 559l6 9.9h-12zM386.9 559l6 9.9h-12zM388.3 559l6 9.9h-12zM389.7 559l6 9.9h-12zM391.1 559l6 9.9h-12zM392.5 558.9l6 9.9h-12zM393.9 558.9l6 9.9h-12zM395.3 559l6 9.9h-12zM396.7 559l6 9.9h-12zM398.2 558.8l6 9.9h-12zM399.6 558.8l6 9.9h-12zM401 558.7l6 9.9h-12zM402.4 558.8l6 9.9h-12zM403.8 558.6l6 9.9h-12zM405.2 558.3l6 9.9h-12zM406.6 558.5l6 9.9h-12zM408.1 558.8l6 9.9h-12zM409.5 558.6l6 9.9h-12zM410.9 558.4l6 9.9h-12zM412.3 558.4l6 9.9h-12zM413.7 558l6 9.9h-12zM415.1 558.6l6 9.9h-12zM416.5 557.9l6 9.9h-12zM417.9 558.1l6 9.9h-12zM419.4 558.2l6 9.9h-12zM420.8 557.7l6 9.9h-12zM422.2 558l6 9.9h-12zM423.6 557.2l6 9.9h-12zM425 557.5l6 9.9h-12zM426.4 557.9l6 9.9h-12zM427.8 557.2l6 9.9h-12zM429.3 557.4l6 9.9h-12zM430.7 556.9l6 9.9h-12zM432.1 556.7l6 9.9h-12zM433.5 556.4l6 9.9h-12zM434.9 556.7l6 9.9h-12zM436.3 556l6 9.9h-12zM437.7 555.5l6 9.9h-12zM439.2 556l6 9.9h-12zM440.6 555.4l6 9.9h-12zM442 554.9l6 9.9h-12zM443.4 555.1l6 9.9h-12zM444.8 554.4l6 9.9h-12zM446.2 554.8l6 9.9h-12zM447.6 554.4l6 9.9h-12zM449 553.5l6 9.9h-12zM450.5 553.3l6 9.9h-12zM451.9 551l6 9.9h-12zM453.3 551.8l6 9.9h-12zM454.7 550.6l6 9.9h-12zM456.1 548.8l6 9.9h-12zM457.5 549.3l6 9.9h-12zM458.9 546.8l6 9.9h-12zM460.4 547.6l6 9.9h-12zM461.8 546.7l6 9.9h-12zM463.2 543.8l6 9.9h-12zM464.6 543.2l6 9.9h-12zM466 543.2l6 9.9h-12zM467.4 542.4l6 9.9h-12zM468.8 541.2l6 9.9h-12zM470.2 539.4l6 9.9h-12zM471.7 539.3l6 9.9h-12zM473.1 537.6l6 9.9h-12zM474.5 537.4l6 9.9h-12zM475.9 535l6 9.9h-12zM477.3 533.4l6 9.9h-12zM478.7 533.1l6 9.9h-12zM480.1 530.1l6 9.9h-12zM481.6 528.4l6 9.9h-12zM483 528.6l6 9.9h-12zM484.4 525.6l6 9.9h-12zM485.8 525.2l6 9.9h-12zM487.2 522.2l6 9.9h-12zM488.6 521.4l6 9.9h-12zM490 519.2l6 9.9h-12zM491.4 520l6 9.9h-12zM492.9 515.8l6 9.9h-12zM494.3 517.4l6 9.9h-12zM495.7 514.6l6 9.9h-12zM497.1 512.6l6 9.9h-12zM498.5 510.4l6 9.9h-12zM499.9 510.8l6 9.9h-12zM501.3 508.6l6 9.9h-12zM502.8 505.4l6 9.9h-12zM504.2 503.7l6 9.9h-12zM505.6 499.5l6 9.9h-12zM507 500.8l6 9.9h-12zM508.4 498.5l6 9.9h-12zM509.8 498l6 9.9h-12zM511.2 492.1l6 9.9h-12zM512.6 493.7l6 9.9h-12zM514.1 489.8l6 9.9h-12zM515.5 487.7l6 9.9h-12zM516.9 485.4l6 9.9h-12zM518.3 484.3l6 9.9h-12zM519.7 485.1l6 9.9h-12zM521.1 479.5l6 9.9h-12zM522.5 478.7l6 9.9h-12zM524 479.7l6 9.9h-12zM525.4 481.5l6 9.9h-12zM526.8 479l6 9.9h-12zM528.2 477.9l6 9.9h-12zM529.6 476.4l6 9.9h-12zM531 478.1l6 9.9h-12zM532.4 480.3l6 9.9h-12zM533.8 480.1l6 9.9h-12zM535.3 480.9l6 9.9h-12zM536.7 483.1l6 9.9h-12zM538.1 486.9l6 9.9h-12zM539.5 486l6 9.9h-12zM540.9 488.8l6 9.9h-12zM542.3 494.4l6 9.9h-12zM543.7 492.3l6 9.9h-12zM545.2 498.3l6 9.9h-12zM546.6 499.5l6 9.9h-12zM548 499.6l6 9.9h-12zM549.4 503.9l6 9.9h-12zM550.8 506.9l6 9.9h-12zM552.2 509.9l6 9.9h-12zM553.6 511l6 9.9h-12zM555 514l6 9.9h-12zM556.5 517.7l6 9.9h-12zM557.9 520.2l6 9.9h-12zM559.3 521l6 9.9h-12zM560.7 524.6l6 9.9h-12zM562.1 526.2l6 9.9h-12zM563.5 528.6l6 9.9h-12zM564.9 530.9l6 9.9h-12zM566.4 533.3l6 9.9h-12zM567.8 534.7l6 9.9h-12zM569.2 537.8l6 9.9h-12zM570.6 539.3l6 9.9h-12zM572 541.4l6 9.9h-12zM573.4 542.3l6 9.9h-12zM574.8 545l6 9.9h-12zM576.3 546.6l6 9.9h-12zM577.7 548.3l6 9.9h-12zM579.1 551.7l6 9.9h-12zM580.5 551.7l6 9.9h-12zM581.9 552.4l6 9.9h-12zM583.3 554l6 9.9h-12zM584.7 554.5l6 9.9h-12zM586.1 555.9l6 9.9h-12zM587.6 556.5l6 9.9h-12zM589 557.1l6 9.9h-12zM590.4 557.4l6 9.9h-12zM591.8 558.1l6 9.9h-12zM593.2 558.5l6 9.9h-12zM594.6 558.7l6 9.9h-12zM596 558.8l6 9.9h-12zM597.5 558.9l6 9.9h-12zM598.9 559l6 9.9h-12zM600.3 559l6 9.9h-12zM601.7 559l6 9.9h-12zM603.1 559l6 9.9h-12zM604.5 559l6 9.9h-12zM605.9 559l6 9.9h-12zM607.3 559l6 9.9h-12zM608.8 559l6 9.9h-12zM610.2 559l6 9.9h-12zM611.6 559l6 9.9h-12zM613 559l6 9.9h-12zM614.4 559l6 9.9h-12zM615.8 559l6 9.9h-12zM617.2 559l6 9.9h-12zM618.7 559l6 9.9h-12zM620.1 559l6 9.9h-12zM621.5 559l6 9.9h-12zM622.9 559l6 9.9h-12zM624.3 559l6 9.9h-12zM625.7 559l6 9.9h-12zM627.1 559l6 9.9h-12zM628.5 559l6 9.9h-12zM630 559l6 9.9h-12zM631.4 559l6 9.9h-12zM632.8 559l6 9.9h-12zM634.2 559l6 9.9h-12zM635.6 559l6 9.9h-12zM637 559l6 9.9h-12zM638.4 559l6 9.9h-12zM639.9 559l6 9.9h-12zM641.3 559l6 9.9h-12zM642.7 559l6 9.9h-12zM644.1 559l6 9.9h-12zM645.5 559l6 9.9h-12zM646.9 559l6 9.9h-12zM648.3 559l6 9.9h-12zM649.7 559l6 9.9h-12zM651.2 559l6 9.9h-12zM652.6 559l6 9.9h-12zM654 559l6 9.9h-12zM655.4 559l6 9.9h-12zM656.8 559l6 9.9h-12zM658.2 559l6 9.9h-12zM659.6 559l6 9.9h-12zM661.1 559l6 9.9h-12zM662.5 559l6 9.9h-12zM663.9 559l6 9.9h-12zM665.3 559l6 9.9h-12zM666.7 559l6 9.9h-12zM668.1 559l6 9.9h-12zM669.5 559l6 9.9h-12zM670.9 559l6 9.9h-12zM672.4 559l6 9.9h-12zM673.8 559l6 9.9h-12zM675.2 559l6 9.9h-12zM676.6 559l6 9.9h-12zM678 559l6 9.9h-12zM679.4 559l6 9.9h-12zM680.8 559l6 9.9h-12zM682.3 559l6 9.9h-12zM683.7 559l6 9.9h-12zM685.1 559l6 9.9h-12zM686.5 559l6 9.9h-12zM687.9 559l6 9.9h-12zM689.3 559l6 9.9h-12zM690.7 559l6 9.9h-12zM692.1 559l6 9.9h-12zM693.6 559l6 9.9h-12zM695 559l6 9.9h-12zM696.4 559l6 9.9h-12zM697.8 559l6 9.9h-12zM699.2 559l6 9.9h-12zM700.6 559l6 9.9h-12zM702 559l6 9.9h-12zM703.5 559l6 9.9h-12zM704.9 559l6 9.9h-12zM706.3 559l6 9.9h-12zM707.7 559l6 9.9h-12zM709.1 559l6 9.9h-12zM710.5 559l6 9.9h-12zM711.9 559l6 9.9h-12zM713.4 559l6 9.9h-12zM714.8 559l6 9.9h-12zM716.2 559l6 9.9h-12zM717.6 559l6 9.9h-12zM719 559l6 9.9h-12zM720.4 559l6 9.9h-12zM721.8 559l6 9.9h-12zM723.2 559l6 9.9h-12zM724.7 559l6 9.9h-12zM726.1 559l6 9.9h-12zM727.5 559l6 9.9h-12zM728.9 559l6 9.9h-12zM730.3 559l6 9.9h-12zM731.7 559l6 9.9h-12zM733.1 559l6 9.9h-12zM734.6 559l6 9.9h-12zM736 559l6 9.9h-12zM737.4 559l6 9.9h-12zM738.8 559l6 9.9h-12zM740.2 559l6 9.9h-12zM741.6 559l6 9.9h-12zM743 559l6 9.9h-12zM744.4 559l6 9.9h-12zM745.9 559l6 9.9h-12zM747.3 559l6 9.9h-12zM748.7 559l6 9.9h-12zM750.1 559l6 9.9h-12zM751.5 559l6 9.9h-12zM752.9 559l6 9.9h-12zM754.3 559l6 9.9h-12zM755.8 559l6 9.9h-12zM757.2 559l6 9.9h-12zM758.6 559l6 9.9h-12zM760 559l6 9.9h-12zM761.4 559l6 9.9h-12zM762.8 559l6 9.9h-12zM764.2 559l6 9.9h-12zM765.6 559l6 9.9h-12zM767.1 559l6 9.9h-12zM768.5 559l6 9.9h-12zM769.9 559l6 9.9h-12zM771.3 559l6 9.9h-12zM772.7 559l6 9.9h-12zM774.1 559l6 9.9h-12zM775.5 559l6 9.9h-12zM777 559l6 9.9h-12zM778.4 559l6 9.9h-12zM779.8 559l6 9.9h-12zM781.2 559l6 9.9h-12zM782.6 559l6 9.9h-12zM784 559l6 9.9h-12zM785.4 559l6 9.9h-12zM786.8 559l6 9.9h-12zM788.3 559l6 9.9h-12zM789.7 559l6 9.9h-12zM791.1 559l6 9.9h-12zM792.5 559l6 9.9h-12zM793.9 559l6 9.9h-12zM795.3 559l6 9.9h-12zM796.7 559l6 9.9h-12zM798.2 559l6 9.9h-12zM799.6 559l6 9.9h-12zM801 559l6 9.9h-12zM802.4 559l6 9.9h-12zM803.8 559l6 9.9h-12zM805.2 559l6 9.9h-12zM806.6 559l6 9.9h-12zM808 559l6 9.9h-12zM809.5 559l6 9.9h-12zM810.9 559l6 9.9h-12zM812.3 559l6 9.9h-12zM813.7 559l6 9.9h-12zM815.1 559l6 9.9h-12zM816.5 559l6 9.9h-12zM817.9 559l6 9.9h-12zM819.4 559l6 9.9h-12zM820.8 559l6 9.9h-12zM822.2 559l6 9.9h-12zM823.6 559l6 9.9h-12zM825 559l6 9.9h-12zM826.4 559l6 9.9h-12zM827.8 559l6 9.9h-12zM829.2 559l6 9.9h-12zM830.7 559l6 9.9h-12zM832.1 559l6 9.9h-12zM833.5 559l6 9.9h-12zM834.9 559l6 9.9h-12zM836.3 559l6 9.9h-12zM837.7 559l6 9.9h-12zM839.1 559l6 9.9h-12zM840.6 559l6 9.9h-12zM842 559l6 9.9h-12zM843.4 559l6 9.9h-12zM844.8 559l6 9.9h-12zM846.2 559l6 9.9h-12zM847.6 559l6 9.9h-12z" fill="none" stroke="#00ff00" stroke-width="1.65" stroke-linejoin="miter"/>
<path d="M212.2 565.6h1.6M213.6 565.6h1.6M215 565.6h1.6M216.4 565.6h1.6M217.9 565.6h1.6M219.3 565.6h1.6M220.7 565.6h1.6M222.1 565.6h1.6M223.5 565.6h1.6M224.9 565.6h1.6M226.3 565.6h1.6M227.8 565.6h1.6M229.2 565.6h1.6M230.6 565.6h1.6M232 565.6h1.6M233.4 565.6h1.6M234.8 565.6h1.6M236.2 565.6h1.6M237.6 565.6h1.6M239.1 565.6h1.6M240.5 565.6h1.6M241.9 565.6h1.6M243.3 565.6h1.6M244.7 565.6h1.6M246.1 565.6h1.6M247.5 565.6h1.6M249 565.6h1.6M250.4 565.6h1.6M251.8 565.6h1.6M253.2 565.6h1.6M254.6 565.6h1.6M256 565.6h1.6M257.4 565.6h1.6M258.8 565.6h1.6M260.3 565.6h1.6M261.7 565.6h1.6M263.1 565.6h1.6M264.5 565.6h1.6M265.9 565.6h1.6M267.3 565.6h1.6M268.7 565.6h1.6M270.2 565.6h1.6M271.6 565.6h1.6M273 565.6h1.6M274.4 565.6h1.6M275.8 565.6h1.6M277.2 565.6h1.6M278.6 565.6h1.6M280 565.6h1.6M281.5 565.6h1.6M282.9 565.6h1.6M284.3 565.6h1.6M285.7 565.6h1.6M287.1 565.6h1.6M288.5 565.6h1.6M289.9 565.6h1.6M291.4 565.6h1.6M292.8 565.6h1.6M294.2 565.6h1.6M295.6 565.6h1.6M297 565.6h1.6M298.4 565.6h1.6M299.8 565.6h1.6M301.3 565.6h1.6M302.7 565.6h1.6M304.1 565.6h1.6M305.5 565.6h1.6M306.9 565.6h1.6M308.3 565.6h1.6M309.7 565.6h1.6M311.1 565.6h1.6M312.6 565.6h1.6M314 565.6h1.6M315.4 565.6h1.6M316.8 565.6h1.6M318.2 565.6h1.6M319.6 565.6h1.6M321 565.6h1.6M322.5 565.6h1.6M323.9 565.6h1.6M325.3 565.6h1.6M326.7 565.6h1.6M328.1 565.6h1.6M329.5 565.6h1.6M330.9 565.6h1.6M332.3 565.6h1.6M333.8 565.6h1.6M335.2 565.6h1.6M336.6 565.6h1.6M338 565.6h1.6M339.4 565.6h1.6M340.8 565.6h1.6M342.2 565.6h1.6M343.7 565.6h1.6M345.1 565.6h1.6M346.5 565.6h1.6M347.9 565.6h1.6M349.3 565.6h1.6M350.7 565.6h1.6M352.1 565.6h1.6M353.5 565.6h1.6M355 565.6h1.6M356.4 565.6h1.6M357.8 565.6h1.6M359.2 565.6h1.6M360.6 565.6h1.6M362 565.6h1.6M363.4 565.6h1.6M364.9 565.6h1.6M366.3 565.6h1.6M367.7 565.6h1.6M369.1 565.6h1.6M370.5 565.6h1.6M371.9 565.6h1.6M373.3 565.6h1.6M374.7 565.6h1.6M376.2 565.6h1.6M377.6 565.6h1.6M379 565.6h1.6M380.4 565.6h1.6M381.8 565.6h1.6M383.2 565.6h1.6M384.6 565.6h1.6M386.1 565.6h1.6M387.5 565.6h1.6M388.9 565.6h1.6M390.3 565.6h1.6M391.7 565.5h1.6M393.1 565.5h1.6M394.5 565.6h1.6M395.9 565.6h1.6M397.4 565.4h1.6M398.8 565.4h1.6M400.2 565.3h1.6M401.6 565.4h1.6M403 565.2h1.6M404.4 564.9h1.6M405.8 565.1h1.6M407.3 565.4h1.6M408.7 565.2h1.6M410.1 565h1.6M411.5 565h1.6M412.9 564.6h1.6M414.3 565.2h1.6M415.7 564.5h1.6M417.1 564.7h1.6M418.6 564.8h1.6M420 564.3h1.6M421.4 564.6h1.6M422.8 563.8h1.6M424.2 564.1h1.6M425.6 564.5h1.6M427 563.8h1.6M428.5 564h1.6M429.9 563.5h1.6M431.3 563.3h1.6M432.7 563h1.6M434.1 563.3h1.6M435.5 562.6h1.6M436.9 562.1h1.6M438.4 562.6h1.6M439.8 562h1.6M441.2 561.5h1.6M442.6 561.7h1.6M444 561h1.6M445.4 561.4h1.6M446.8 561h1.6M448.2 560.1h1.6M449.7 559.9h1.6M451.1 557.6h1.6M452.5 558.4h1.6M453.9 557.2h1.6M455.3 555.4h1.6M456.7 555.9h1.6M458.1 553.4h1.6M459.6 554.2h1.6M461 553.3h1.6M462.4 550.4h1.6M463.8 549.8h1.6M465.2 549.8h1.6M466.6 549h1.6M468 547.8h1.6M469.4 546h1.6M470.9 545.9h1.6M472.3 544.2h1.6M473.7 544h1.6M475.1 541.6h1.6M476.5 540h1.6M477.9 539.7h1.6M479.3 536.7h1.6M480.8 535h1.6M482.2 535.2h1.6M483.6 532.2h1.6M485 531.8h1.6M486.4 528.8h1.6M487.8 528h1.6M489.2 525.8h1.6M490.6 526.6h1.6M492.1 522.4h1.6M493.5 524h1.6M494.9 521.2h1.6M496.3 519.2h1.6M497.7 517h1.6M499.1 517.4h1.6M500.5 515.2h1.6M502 512h1.6M503.4 510.3h1.6M504.8 506.1h1.6M506.2 507.4h1.6M507.6 505.1h1.6M509 504.6h1.6M510.4 498.7h1.6M511.8 500.3h1.6M513.3 496.4h1.6M514.7 494.3h1.6M516.1 492h1.6M517.5 490.9h1.6M518.9 491.7h1.6M520.3 486.1h1.6M521.7 485.3h1.6M523.2 486.3h1.6M524.6 488.1h1.6M526 485.6h1.6M527.4 484.5h1.6M528.8 483h1.6M530.2 484.7h1.6M531.6 486.9h1.6M533 486.7h1.6M534.5 487.5h1.6M535.9 489.7h1.6M537.3 493.5h1.6M538.7 492.6h1.6M540.1 495.4h1.6M541.5 501h1.6M542.9 498.9h1.6M544.4 504.9h1.6M545.8 506.1h1.6M547.2 506.2h1.6M548.6 510.5h1.6M550 513.5h1.6M551.4 516.5h1.6M552.8 517.6h1.6M554.2 520.6h1.6M555.7 524.3h1.6M557.1 526.8h1.6M558.5 527.6h1.6M559.9 531.2h1.6M561.3 532.8h1.6M562.7 535.2h1.6M564.1 537.5h1.6M565.6 539.9h1.6M567 541.3h1.6M568.4 544.4h1.6M569.8 545.9h1.6M571.2 548h1.6M572.6 548.9h1.6M574 551.6h1.6M575.5 553.2h1.6M576.9 554.9h1.6M578.3 558.3h1.6M579.7 558.3h1.6M581.1 559h1.6M582.5 560.6h1.6M583.9 561.1h1.6M585.3 562.5h1.6M586.8 563.1h1.6M588.2 563.7h1.6M589.6 564h1.6M591 564.7h1.6M592.4 565.1h1.6M593.8 565.3h1.6M595.2 565.4h1.6M596.7 565.5h1.6M598.1 565.6h1.6M599.5 565.6h1.6M600.9 565.6h1.6M602.3 565.6h1.6M603.7 565.6h1.6M605.1 565.6h1.6M606.5 565.6h1.6M608 565.6h1.6M609.4 565.6h1.6M610.8 565.6h1.6M612.2 565.6h1.6M613.6 565.6h1.6M615 565.6h1.6M616.4 565.6h1.6M617.9 565.6h1.6M619.3 565.6h1.6M620.7 565.6h1.6M622.1 565.6h1.6M623.5 565.6h1.6M624.9 565.6h1.6M626.3 565.6h1.6M627.7 565.6h1.6M629.2 565.6h1.6M630.6 565.6h1.6M632 565.6h1.6M633.4 565.6h1.6M634.8 565.6h1.6M636.2 565.6h1.6M637.6 565.6h1.6M639.1 565.6h1.6M640.5 565.6h1.6M641.9 565.6h1.6M643.3 565.6h1.6M644.7 565.6h1.6M646.1 565.6h1.6M647.5 565.6h1.6M648.9 565.6h1.6M650.4 565.6h1.6M651.8 565.6h1.6M653.2 565.6h1.6M654.6 565.6h1.6M656 565.6h1.6M657.4 565.6h1.6M658.8 565.6h1.6M660.3 565.6h1.6M661.7 565.6h1.6M663.1 565.6h1.6M664.5 565.6h1.6M665.9 565.6h1.6M667.3 565.6h1.6M668.7 565.6h1.6M670.1 565.6h1.6M671.6 565.6h1.6M673 565.6h1.6M674.4 565.6h1.6M675.8 565.6h1.6M677.2 565.6h1.6M678.6 565.6h1.6M680 565.6h1.6M681.5 565.6h1.6M682.9 565.6h1.6M684.3 565.6h1.6M685.7 565.6h1.6M687.1 565.6h1.6M688.5 565.6h1.6M689.9 565.6h1.6M691.3 565.6h1.6M692.8 565.6h1.6M694.2 565.6h1.6M695.6 565.6h1.6M697 565.6h1.6M698.4 565.6h1.6M699.8 565.6h1.6M701.2 565.6h1.6M702.7 565.6h1.6M704.1 565.6h1.6M705.5 565.6h1.6M706.9 565.6h1.6M708.3 565.6h1.6M709.7 565.6h1.6M711.1 565.6h1.6M712.6 565.6h1.6M714 565.6h1.6M715.4 565.6h1.6M716.8 565.6h1.6M718.2 565.6h1.6M719.6 565.6h1.6M721 565.6h1.6M722.4 565.6h1.6M723.9 565.6h1.6M725.3 565.6h1.6M726.7 565.6h1.6M728.1 565.6h1.6M729.5 565.6h1.6M730.9 565.6h1.6M732.3 565.6h1.6M733.8 565.6h1.6M735.2 565.6h1.6M736.6 565.6h1.6M738 565.6h1.6M739.4 565.6h1.6M740.8 565.6h1.6M742.2 565.6h1.6M743.6 565.6h1.6M745.1 565.6h1.6M746.5 565.6h1.6M747.9 565.6h1.6M749.3 565.6h1.6M750.7 565.6h1.6M752.1 565.6h1.6M753.5 565.6h1.6M755 565.6h1.6M756.4 565.6h1.6M757.8 565.6h1.6M759.2 565.6h1.6M760.6 565.6h1.6M762 565.6h1.6M763.4 565.6h1.6M764.8 565.6h1.6M766.3 565.6h1.6M767.7 565.6h1.6M769.1 565.6h1.6M770.5 565.6h1.6M771.9 565.6h1.6M773.3 565.6h1.6M774.7 565.6h1.6M776.2 565.6h1.6M777.6 565.6h1.6M779 565.6h1.6M780.4 565.6h1.6M781.8 565.6h1.6M783.2 565.6h1.6M784.6 565.6h1.6M786 565.6h1.6M787.5 565.6h1.6M788.9 565.6h1.6M790.3 565.6h1.6M791.7 565.6h1.6M793.1 565.6h1.6M794.5 565.6h1.6M795.9 565.6h1.6M797.4 565.6h1.6M798.8 565.6h1.6M800.2 565.6h1.6M801.6 565.6h1.6M803 565.6h1.6M804.4 565.6h1.6M805.8 565.6h1.6M807.2 565.6h1.6M808.7 565.6h1.6M810.1 565.6h1.6M811.5 565.6h1.6M812.9 565.6h1.6M814.3 565.6h1.6M815.7 565.6h1.6M817.1 565.6h1.6M818.6 565.6h1.6M820 565.6h1.6M821.4 565.6h1.6M822.8 565.6h1.6M824.2 565.6h1.6M825.6 565.6h1.6M827 565.6h1.6M828.4 565.6h1.6M829.9 565.6h1.6M831.3 565.6h1.6M832.7 565.6h1.6M834.1 565.6h1.6M835.5 565.6h1.6M836.9 565.6h1.6M838.3 565.6h1.6M839.8 565.6h1.6M841.2 565.6h1.6M842.6 565.6h1.6M844 565.6h1.6M845.4 565.6h1.6M846.8 565.6h1.6" fill="none" stroke="#00ff00" stroke-width="1.7"/>
<path d="M213 571.8l6 -9h-12zM214.4 571.8l6 -9h-12zM215.8 571.8l6 -9h-12zM217.2 571.8l6 -9h-12zM218.7 571.8l6 -9h-12zM220.1 571.8l6 -9h-12zM221.5 571.8l6 -9h-12zM222.9 571.8l6 -9h-12zM224.3 571.8l6 -9h-12zM225.7 571.8l6 -9h-12zM227.1 571.8l6 -9h-12zM228.6 571.8l6 -9h-12zM230 571.8l6 -9h-12zM231.4 571.8l6 -9h-12zM232.8 571.8l6 -9h-12zM234.2 571.8l6 -9h-12zM235.6 571.8l6 -9h-12zM237 571.8l6 -9h-12zM238.4 571.8l6 -9h-12zM239.9 571.8l6 -9h-12zM241.3 571.8l6 -9h-12zM242.7 571.8l6 -9h-12zM244.1 571.8l6 -9h-12zM245.5 571.8l6 -9h-12zM246.9 571.8l6 -9h-12zM248.3 571.8l6 -9h-12zM249.8 571.8l6 -9h-12zM251.2 571.8l6 -9h-12zM252.6 571.8l6 -9h-12zM254 571.8l6 -9h-12zM255.4 571.8l6 -9h-12zM256.8 571.8l6 -9h-12zM258.2 571.8l6 -9h-12zM259.6 571.8l6 -9h-12zM261.1 571.8l6 -9h-12zM262.5 571.8l6 -9h-12zM263.9 571.8l6 -9h-12zM265.3 571.8l6 -9h-12zM266.7 571.8l6 -9h-12zM268.1 571.8l6 -9h-12zM269.5 571.8l6 -9h-12zM271 571.8l6 -9h-12zM272.4 571.8l6 -9h-12zM273.8 571.8l6 -9h-12zM275.2 571.8l6 -9h-12zM276.6 571.8l6 -9h-12zM278 571.8l6 -9h-12zM279.4 571.8l6 -9h-12zM280.8 571.8l6 -9h-12zM282.3 571.8l6 -9h-12zM283.7 571.8l6 -9h-12zM285.1 571.8l6 -9h-12zM286.5 571.8l6 -9h-12zM287.9 571.8l6 -9h-12zM289.3 571.8l6 -9h-12zM290.7 571.8l6 -9h-12zM292.2 571.8l6 -9h-12zM293.6 571.8l6 -9h-12zM295 571.8l6 -9h-12zM296.4 571.8l6 -9h-12zM297.8 571.8l6 -9h-12zM299.2 571.8l6 -9h-12zM300.6 571.8l6 -9h-12zM302.1 571.8l6 -9h-12zM303.5 571.8l6 -9h-12zM304.9 571.8l6 -9h-12zM306.3 571.8l6 -9h-12zM307.7 571.8l6 -9h-12zM309.1 571.8l6 -9h-12zM310.5 571.8l6 -9h-12zM311.9 571.8l6 -9h-12zM313.4 571.8l6 -9h-12zM314.8 571.8l6 -9h-12zM316.2 571.8l6 -9h-12zM317.6 571.8l6 -9h-12zM319 571.8l6 -9h-12zM320.4 571.8l6 -9h-12zM321.8 571.8l6 -9h-12zM323.3 571.8l6 -9h-12zM324.7 571.8l6 -9h-12zM326.1 571.8l6 -9h-12zM327.5 571.8l6 -9h-12zM328.9 571.8l6 -9h-12zM330.3 571.8l6 -9h-12zM331.7 571.8l6 -9h-12zM333.1 571.8l6 -9h-12zM334.6 571.8l6 -9h-12zM336 571.8l6 -9h-12zM337.4 571.8l6 -9h-12zM338.8 571.8l6 -9h-12zM340.2 571.8l6 -9h-12zM341.6 571.8l6 -9h-12zM343 571.8l6 -9h-12zM344.5 571.8l6 -9h-12zM345.9 571.8l6 -9h-12zM347.3 571.8l6 -9h-12zM348.7 571.8l6 -9h-12zM350.1 571.8l6 -9h-12zM351.5 571.8l6 -9h-12zM352.9 571.8l6 -9h-12zM354.3 571.8l6 -9h-12zM355.8 571.8l6 -9h-12zM357.2 571.8l6 -9h-12zM358.6 571.8l6 -9h-12zM360 571.8l6 -9h-12zM361.4 571.8l6 -9h-12zM362.8 571.8l6 -9h-12zM364.2 571.8l6 -9h-12zM365.7 571.8l6 -9h-12zM367.1 571.8l6 -9h-12zM368.5 571.8l6 -9h-12zM369.9 571.8l6 -9h-12zM371.3 571.8l6 -9h-12zM372.7 571.8l6 -9h-12zM374.1 571.8l6 -9h-12zM375.5 571.8l6 -9h-12zM377 571.8l6 -9h-12zM378.4 571.8l6 -9h-12zM379.8 571.8l6 -9h-12zM381.2 571.8l6 -9h-12zM382.6 571.8l6 -9h-12zM384 571.8l6 -9h-12zM385.4 571.8l6 -9h-12zM386.9 571.8l6 -9h-12zM388.3 571.8l6 -9h-12zM389.7 571.8l6 -9h-12zM391.1 571.8l6 -9h-12zM392.5 571.8l6 -9h-12zM393.9 571.8l6 -9h-12zM395.3 571.8l6 -9h-12zM396.7 571.8l6 -9h-12zM398.2 571.8l6 -9h-12zM399.6 571.8l6 -9h-12zM401 571.8l6 -9h-12zM402.4 571.8l6 -9h-12zM403.8 571.8l6 -9h-12zM405.2 571.8l6 -9h-12zM406.6 571.8l6 -9h-12zM408.1 571.8l6 -9h-12zM409.5 571.8l6 -9h-12zM410.9 571.8l6 -9h-12zM412.3 571.8l6 -9h-12zM413.7 571.8l6 -9h-12zM415.1 571.8l6 -9h-12zM416.5 571.8l6 -9h-12zM417.9 571.8l6 -9h-12zM419.4 571.8l6 -9h-12zM420.8 571.8l6 -9h-12zM422.2 571.8l6 -9h-12zM423.6 571.8l6 -9h-12zM425 571.8l6 -9h-12zM426.4 571.8l6 -9h-12zM427.8 571.8l6 -9h-12zM429.3 571.8l6 -9h-12zM430.7 571.8l6 -9h-12zM432.1 571.8l6 -9h-12zM433.5 571.8l6 -9h-12zM434.9 571.8l6 -9h-12zM436.3 571.8l6 -9h-12zM437.7 571.8l6 -9h-12zM439.2 571.8l6 -9h-12zM440.6 571.8l6 -9h-12zM442 571.8l6 -9h-12zM443.4 571.8l6 -9h-12zM444.8 571.8l6 -9h-12zM446.2 571.8l6 -9h-12zM447.6 571.8l6 -9h-12zM449 571.8l6 -9h-12zM450.5 571.8l6 -9h-12zM451.9 571.8l6 -9h-12zM453.3 571.8l6 -9h-12zM454.7 571.8l6 -9h-12zM456.1 571.8l6 -9h-12zM457.5 571.8l6 -9h-12zM458.9 571.8l6 -9h-12zM460.4 571.8l6 -9h-12zM461.8 571.8l6 -9h-12zM463.2 571.8l6 -9h-12zM464.6 571.8l6 -9h-12zM466 571.8l6 -9h-12zM467.4 571.8l6 -9h-12zM468.8 571.8l6 -9h-12zM470.2 571.8l6 -9h-12zM471.7 571.8l6 -9h-12zM473.1 571.8l6 -9h-12zM474.5 571.8l6 -9h-12zM475.9 571.7l6 -9h-12zM477.3 571.7l6 -9h-12zM478.7 571.8l6 -9h-12zM480.1 571.8l6 -9h-12zM481.6 571.7l6 -9h-12zM483 571.5l6 -9h-12zM484.4 571.6l6 -9h-12zM485.8 571.6l6 -9h-12zM487.2 571.7l6 -9h-12zM488.6 571.7l6 -9h-12zM490 571.7l6 -9h-12zM491.4 571.6l6 -9h-12zM492.9 571.6l6 -9h-12zM494.3 571.5l6 -9h-12zM495.7 571.5l6 -9h-12zM497.1 571.4l6 -9h-12zM498.5 571.5l6 -9h-12zM499.9 571.5l6 -9h-12zM501.3 571.2l6 -9h-12zM502.8 571.3l6 -9h-12zM504.2 571l6 -9h-12zM505.6 571.2l6 -9h-12zM507 570.9l6 -9h-12zM508.4 571.1l6 -9h-12zM509.8 570.6l6 -9h-12zM511.2 571l6 -9h-12zM512.6 570.5l6 -9h-12zM514.1 570.8l6 -9h-12zM515.5 570.6l6 -9h-12zM516.9 570.1l6 -9h-12zM518.3 570.1l6 -9h-12zM519.7 570.1l6 -9h-12zM521.1 569.5l6 -9h-12zM522.5 569.4l6 -9h-12zM524 568.7l6 -9h-12zM525.4 569.5l6 -9h-12zM526.8 568.2l6 -9h-12zM528.2 568l6 -9h-12zM529.6 568.2l6 -9h-12zM531 567.3l6 -9h-12zM532.4 567.5l6 -9h-12zM533.8 566.9l6 -9h-12zM535.3 566.7l6 -9h-12zM536.7 566.8l6 -9h-12zM538.1 565.1l6 -9h-12zM539.5 565.1l6 -9h-12zM540.9 563.6l6 -9h-12zM542.3 564.4l6 -9h-12zM543.7 563.9l6 -9h-12zM545.2 562.9l6 -9h-12zM546.6 563.3l6 -9h-12zM548 561.5l6 -9h-12zM549.4 561.6l6 -9h-12zM550.8 560.7l6 -9h-12zM552.2 560.2l6 -9h-12zM553.6 558.9l6 -9h-12zM555 557.7l6 -9h-12zM556.5 557l6 -9h-12zM557.9 557.1l6 -9h-12zM559.3 556.1l6 -9h-12zM560.7 556.5l6 -9h-12zM562.1 554.3l6 -9h-12zM563.5 554.4l6 -9h-12zM564.9 552.9l6 -9h-12zM566.4 553l6 -9h-12zM567.8 551.4l6 -9h-12zM569.2 549.8l6 -9h-12zM570.6 548.4l6 -9h-12zM572 547.7l6 -9h-12zM573.4 547l6 -9h-12zM574.8 545.5l6 -9h-12zM576.3 543.7l6 -9h-12zM577.7 543.1l6 -9h-12zM579.1 542.1l6 -9h-12zM580.5 541.7l6 -9h-12zM581.9 539.7l6 -9h-12zM583.3 539.5l6 -9h-12zM584.7 538.1l6 -9h-12zM586.1 536.9l6 -9h-12zM587.6 536.1l6 -9h-12zM589 534.1l6 -9h-12zM590.4 535.3l6 -9h-12zM591.8 534.3l6 -9h-12zM593.2 532.5l6 -9h-12zM594.6 531l6 -9h-12zM596 530.2l6 -9h-12zM597.5 529.3l6 -9h-12zM598.9 527.8l6 -9h-12zM600.3 528.4l6 -9h-12zM601.7 527.1l6 -9h-12zM603.1 527l6 -9h-12zM604.5 525.2l6 -9h-12zM605.9 524.2l6 -9h-12zM607.3 522.8l6 -9h-12zM608.8 523l6 -9h-12zM610.2 522.3l6 -9h-12zM611.6 520.6l6 -9h-12zM613 521.1l6 -9h-12zM614.4 520.3l6 -9h-12zM615.8 520.3l6 -9h-12zM617.2 519.5l6 -9h-12zM618.7 521.6l6 -9h-12zM620.1 519.4l6 -9h-12zM621.5 519.9l6 -9h-12zM622.9 522.7l6 -9h-12zM624.3 522.8l6 -9h-12zM625.7 521.5l6 -9h-12zM627.1 522.4l6 -9h-12zM628.5 522.3l6 -9h-12zM630 522.9l6 -9h-12zM631.4 522.4l6 -9h-12zM632.8 525l6 -9h-12zM634.2 525.6l6 -9h-12zM635.6 527.7l6 -9h-12zM637 527l6 -9h-12zM638.4 527.8l6 -9h-12zM639.9 529.1l6 -9h-12zM641.3 530.8l6 -9h-12zM642.7 530.9l6 -9h-12zM644.1 531.9l6 -9h-12zM645.5 534.7l6 -9h-12zM646.9 535.1l6 -9h-12zM648.3 535.9l6 -9h-12zM649.7 537.1l6 -9h-12zM651.2 539.6l6 -9h-12zM652.6 541l6 -9h-12zM654 541.9l6 -9h-12zM655.4 544.7l6 -9h-12zM656.8 544.8l6 -9h-12zM658.2 547.6l6 -9h-12zM659.6 548.8l6 -9h-12zM661.1 550.7l6 -9h-12zM662.5 552.9l6 -9h-12zM663.9 552.2l6 -9h-12zM665.3 554.7l6 -9h-12zM666.7 557.3l6 -9h-12zM668.1 556.6l6 -9h-12zM669.5 559.1l6 -9h-12zM670.9 560.5l6 -9h-12zM672.4 560.8l6 -9h-12zM673.8 562l6 -9h-12zM675.2 562.8l6 -9h-12zM676.6 563.8l6 -9h-12zM678 564.8l6 -9h-12zM679.4 565.3l6 -9h-12zM680.8 566.3l6 -9h-12zM682.3 566.3l6 -9h-12zM683.7 567l6 -9h-12zM685.1 567.5l6 -9h-12zM686.5 568.1l6 -9h-12zM687.9 568.4l6 -9h-12zM689.3 568.6l6 -9h-12zM690.7 569.2l6 -9h-12zM692.1 569.6l6 -9h-12zM693.6 569.6l6 -9h-12zM695 569.9l6 -9h-12zM696.4 570.4l6 -9h-12zM697.8 570.5l6 -9h-12zM699.2 570.8l6 -9h-12zM700.6 571l6 -9h-12zM702 571.1l6 -9h-12zM703.5 571.4l6 -9h-12zM704.9 571.5l6 -9h-12zM706.3 571.6l6 -9h-12zM707.7 571.6l6 -9h-12zM709.1 571.6l6 -9h-12zM710.5 571.7l6 -9h-12zM711.9 571.8l6 -9h-12zM713.4 571.8l6 -9h-12zM714.8 571.8l6 -9h-12zM716.2 571.8l6 -9h-12zM717.6 571.8l6 -9h-12zM719 571.8l6 -9h-12zM720.4 571.8l6 -9h-12zM721.8 571.8l6 -9h-12zM723.2 571.8l6 -9h-12zM724.7 571.8l6 -9h-12zM726.1 571.8l6 -9h-12zM727.5 571.8l6 -9h-12zM728.9 571.8l6 -9h-12zM730.3 571.8l6 -9h-12zM731.7 571.8l6 -9h-12zM733.1 571.8l6 -9h-12zM734.6 571.8l6 -9h-12zM736 571.8l6 -9h-12zM737.4 571.8l6 -9h-12zM738.8 571.8l6 -9h-12zM740.2 571.8l6 -9h-12zM741.6 571.8l6 -9h-12zM743 571.8l6 -9h-12zM744.4 571.8l6 -9h-12zM745.9 571.8l6 -9h-12zM747.3 571.8l6 -9h-12zM748.7 571.8l6 -9h-12zM750.1 571.8l6 -9h-12zM751.5 571.8l6 -9h-12zM752.9 571.8l6 -9h-12zM754.3 571.8l6 -9h-12zM755.8 571.8l6 -9h-12zM757.2 571.8l6 -9h-12zM758.6 571.8l6 -9h-12zM760 571.8l6 -9h-12zM761.4 571.8l6 -9h-12zM762.8 571.8l6 -9h-12zM764.2 571.8l6 -9h-12zM765.6 571.8l6 -9h-12zM767.1 571.8l6 -9h-12zM768.5 571.8l6 -9h-12zM769.9 571.8l6 -9h-12zM771.3 571.8l6 -9h-12zM772.7 571.8l6 -9h-12zM774.1 571.8l6 -9h-12zM775.5 571.8l6 -9h-12zM777 571.8l6 -9h-12zM778.4 571.8l6 -9h-12zM779.8 571.8l6 -9h-12zM781.2 571.8l6 -9h-12zM782.6 571.8l6 -9h-12zM784 571.8l6 -9h-12zM785.4 571.8l6 -9h-12zM786.8 571.8l6 -9h-12zM788.3 571.8l6 -9h-12zM789.7 571.8l6 -9h-12zM791.1 571.8l6 -9h-12zM792.5 571.8l6 -9h-12zM793.9 571.8l6 -9h-12zM795.3 571.8l6 -9h-12zM796.7 571.8l6 -9h-12zM798.2 571.8l6 -9h-12zM799.6 571.8l6 -9h-12zM801 571.8l6 -9h-12zM802.4 571.8l6 -9h-12zM803.8 571.8l6 -9h-12zM805.2 571.8l6 -9h-12zM806.6 571.8l6 -9h-12zM808 571.8l6 -9h-12zM809.5 571.8l6 -9h-12zM810.9 571.8l6 -9h-12zM812.3 571.8l6 -9h-12zM813.7 571.8l6 -9h-12zM815.1 571.8l6 -9h-12zM816.5 571.8l6 -9h-12zM817.9 571.8l6 -9h-12zM819.4 571.8l6 -9h-12zM820.8 571.8l6 -9h-12zM822.2 571.8l6 -9h-12zM823.6 571.8l6 -9h-12zM825 571.8l6 -9h-12zM826.4 571.8l6 -9h-12zM827.8 571.8l6 -9h-12zM829.2 571.8l6 -9h-12zM830.7 571.8l6 -9h-12zM832.1 571.8l6 -9h-12zM833.5 571.8l6 -9h-12zM834.9 571.8l6 -9h-12zM836.3 571.8l6 -9h-12zM837.7 571.8l6 -9h-12zM839.1 571.8l6 -9h-12zM840.6 571.8l6 -9h-12zM842 571.8l6 -9h-12zM843.4 571.8l6 -9h-12zM844.8 571.8l6 -9h-12zM846.2 571.8l6 -9h-12zM847.6 571.8l6 -9h-12zM849 571.8l6 -9h-12zM850.5 571.8l6 -9h-12zM851.9 571.8l6 -9h-12zM853.3 571.8l6 -9h-12zM854.7 571.8l6 -9h-12zM856.1 571.8l6 -9h-12zM857.5 571.8l6 -9h-12zM858.9 571.8l6 -9h-12zM860.3 571.8l6 -9h-12zM861.8 571.8l6 -9h-12zM863.2 571.8l6 -9h-12zM864.6 571.8l6 -9h-12zM866 571.8l6 -9h-12zM867.4 571.8l6 -9h-12zM868.8 571.8l6 -9h-12zM870.2 571.8l6 -9h-12zM871.7 571.8l6 -9h-12zM873.1 571.8l6 -9h-12zM874.5 571.8l6 -9h-12zM875.9 571.8l6 -9h-12zM877.3 571.8l6 -9h-12zM878.7 571.8l6 -9h-12zM880.1 571.8l6 -9h-12zM881.5 571.8l6 -9h-12zM883 571.8l6 -9h-12zM884.4 571.8l6 -9h-12zM885.8 571.8l6 -9h-12zM887.2 571.8l6 -9h-12zM888.6 571.8l6 -9h-12zM890 571.8l6 -9h-12zM891.4 571.8l6 -9h-12zM892.9 571.8l6 -9h-12zM894.3 571.8l6 -9h-12zM895.7 571.8l6 -9h-12zM897.1 571.8l6 -9h-12zM898.5 571.8l6 -9h-12zM899.9 571.8l6 -9h-12zM901.3 571.8l6 -9h-12zM902.7 571.8l6 -9h-12zM904.2 571.8l6 -9h-12zM905.6 571.8l6 -9h-12zM907 571.8l6 -9h-12zM908.4 571.8l6 -9h-12zM909.8 571.8l6 -9h-12zM911.2 571.8l6 -9h-12zM912.6 571.8l6 -9h-12zM914.1 571.8l6 -9h-12zM915.5 571.8l6 -9h-12zM916.9 571.8l6 -9h-12zM918.3 571.8l6 -9h-12z" fill="none" stroke="#ffa500" stroke-width="1.65" stroke-linejoin="miter"/>
<path d="M212.2 565.6h1.6M213.6 565.6h1.6M215 565.6h1.6M216.4 565.6h1.6M217.9 565.6h1.6M219.3 565.6h1.6M220.7 565.6h1.6M222.1 565.6h1.6M223.5 565.6h1.6M224.9 565.6h1.6M226.3 565.6h1.6M227.8 565.6h1.6M229.2 565.6h1.6M230.6 565.6h1.6M232 565.6h1.6M233.4 565.6h1.6M234.8 565.6h1.6M236.2 565.6h1.6M237.6 565.6h1.6M239.1 565.6h1.6M240.5 565.6h1.6M241.9 565.6h1.6M243.3 565.6h1.6M244.7 565.6h1.6M246.1 565.6h1.6M247.5 565.6h1.6M249 565.6h1.6M250.4 565.6h1.6M251.8 565.6h1.6M253.2 565.6h1.6M254.6 565.6h1.6M256 565.6h1.6M257.4 565.6h1.6M258.8 565.6h1.6M260.3 565.6h1.6M261.7 565.6h1.6M263.1 565.6h1.6M264.5 565.6h1.6M265.9 565.6h1.6M267.3 565.6h1.6M268.7 565.6h1.6M270.2 565.6h1.6M271.6 565.6h1.6M273 565.6h1.6M274.4 565.6h1.6M275.8 565.6h1.6M277.2 565.6h1.6M278.6 565.6h1.6M280 565.6h1.6M281.5 565.6h1.6M282.9 565.6h1.6M284.3 565.6h1.6M285.7 565.6h1.6M287.1 565.6h1.6M288.5 565.6h1.6M289.9 565.6h1.6M291.4 565.6h1.6M292.8 565.6h1.6M294.2 565.6h1.6M295.6 565.6h1.6M297 565.6h1.6M298.4 565.6h1.6M299.8 565.6h1.6M301.3 565.6h1.6M302.7 565.6h1.6M304.1 565.6h1.6M305.5 565.6h1.6M306.9 565.6h1.6M308.3 565.6h1.6M309.7 565.6h1.6M311.1 565.6h1.6M312.6 565.6h1.6M314 565.6h1.6M315.4 565.6h1.6M316.8 565.6h1.6M318.2 565.6h1.6M319.6 565.6h1.6M321 565.6h1.6M322.5 565.6h1.6M323.9 565.6h1.6M325.3 565.6h1.6M326.7 565.6h1.6M328.1 565.6h1.6M329.5 565.6h1.6M330.9 565.6h1.6M332.3 565.6h1.6M333.8 565.6h1.6M335.2 565.6h1.6M336.6 565.6h1.6M338 565.6h1.6M339.4 565.6h1.6M340.8 565.6h1.6M342.2 565.6h1.6M343.7 565.6h1.6M345.1 565.6h1.6M346.5 565.6h1.6M347.9 565.6h1.6M349.3 565.6h1.6M350.7 565.6h1.6M352.1 565.6h1.6M353.5 565.6h1.6M355 565.6h1.6M356.4 565.6h1.6M357.8 565.6h1.6M359.2 565.6h1.6M360.6 565.6h1.6M362 565.6h1.6M363.4 565.6h1.6M364.9 565.6h1.6M366.3 565.6h1.6M367.7 565.6h1.6M369.1 565.6h1.6M370.5 565.6h1.6M371.9 565.6h1.6M373.3 565.6h1.6M374.7 565.6h1.6M376.2 565.6h1.6M377.6 565.6h1.6M379 565.6h1.6M380.4 565.6h1.6M381.8 565.6h1.6M383.2 565.6h1.6M384.6 565.6h1.6M386.1 565.6h1.6M387.5 565.6h1.6M388.9 565.6h1.6M390.3 565.6h1.6M391.7 565.6h1.6M393.1 565.6h1.6M394.5 565.6h1.6M395.9 565.6h1.6M397.4 565.6h1.6M398.8 565.6h1.6M400.2 565.6h1.6M401.6 565.6h1.6M403 565.6h1.6M404.4 565.6h1.6M405.8 565.6h1.6M407.3 565.6h1.6M408.7 565.6h1.6M410.1 565.6h1.6M411.5 565.6h1.6M412.9 565.6h1.6M414.3 565.6h1.6M415.7 565.6h1.6M417.1 565.6h1.6M418.6 565.6h1.6M420 565.6h1.6M421.4 565.6h1.6M422.8 565.6h1.6M424.2 565.6h1.6M425.6 565.6h1.6M427 565.6h1.6M428.5 565.6h1.6M429.9 565.6h1.6M431.3 565.6h1.6M432.7 565.6h1.6M434.1 565.6h1.6M435.5 565.6h1.6M436.9 565.6h1.6M438.4 565.6h1.6M439.8 565.6h1.6M441.2 565.6h1.6M442.6 565.6h1.6M444 565.6h1.6M445.4 565.6h1.6M446.8 565.6h1.6M448.2 565.6h1.6M449.7 565.6h1.6M451.1 565.6h1.6M452.5 565.6h1.6M453.9 565.6h1.6M455.3 565.6h1.6M456.7 565.6h1.6M458.1 565.6h1.6M459.6 565.6h1.6M461 565.6h1.6M462.4 565.6h1.6M463.8 565.6h1.6M465.2 565.6h1.6M466.6 565.6h1.6M468 565.6h1.6M469.4 565.6h1.6M470.9 565.6h1.6M472.3 565.6h1.6M473.7 565.6h1.6M475.1 565.5h1.6M476.5 565.5h1.6M477.9 565.6h1.6M479.3 565.6h1.6M480.8 565.5h1.6M482.2 565.3h1.6M483.6 565.4h1.6M485 565.4h1.6M486.4 565.5h1.6M487.8 565.5h1.6M489.2 565.5h1.6M490.6 565.4h1.6M492.1 565.4h1.6M493.5 565.3h1.6M494.9 565.3h1.6M496.3 565.2h1.6M497.7 565.3h1.6M499.1 565.3h1.6M500.5 565h1.6M502 565.1h1.6M503.4 564.8h1.6M504.8 565h1.6M506.2 564.7h1.6M507.6 564.9h1.6M509 564.4h1.6M510.4 564.8h1.6M511.8 564.3h1.6M513.3 564.6h1.6M514.7 564.4h1.6M516.1 563.9h1.6M517.5 563.9h1.6M518.9 563.9h1.6M520.3 563.3h1.6M521.7 563.2h1.6M523.2 562.5h1.6M524.6 563.3h1.6M526 562h1.6M527.4 561.8h1.6M528.8 562h1.6M530.2 561.1h1.6M531.6 561.3h1.6M533 560.7h1.6M534.5 560.5h1.6M535.9 560.6h1.6M537.3 558.9h1.6M538.7 558.9h1.6M540.1 557.4h1.6M541.5 558.2h1.6M542.9 557.7h1.6M544.4 556.7h1.6M545.8 557.1h1.6M547.2 555.3h1.6M548.6 555.4h1.6M550 554.5h1.6M551.4 554h1.6M552.8 552.7h1.6M554.2 551.5h1.6M555.7 550.8h1.6M557.1 550.9h1.6M558.5 549.9h1.6M559.9 550.3h1.6M561.3 548.1h1.6M562.7 548.2h1.6M564.1 546.7h1.6M565.6 546.8h1.6M567 545.2h1.6M568.4 543.6h1.6M569.8 542.2h1.6M571.2 541.5h1.6M572.6 540.8h1.6M574 539.3h1.6M575.5 537.5h1.6M576.9 536.9h1.6M578.3 535.9h1.6M579.7 535.5h1.6M581.1 533.5h1.6M582.5 533.3h1.6M583.9 531.9h1.6M585.3 530.7h1.6M586.8 529.9h1.6M588.2 527.9h1.6M589.6 529.1h1.6M591 528.1h1.6M592.4 526.3h1.6M593.8 524.8h1.6M595.2 524h1.6M596.7 523.1h1.6M598.1 521.6h1.6M599.5 522.2h1.6M600.9 520.9h1.6M602.3 520.8h1.6M603.7 519h1.6M605.1 518h1.6M606.5 516.6h1.6M608 516.8h1.6M609.4 516.1h1.6M610.8 514.4h1.6M612.2 514.9h1.6M613.6 514.1h1.6M615 514.1h1.6M616.4 513.3h1.6M617.9 515.4h1.6M619.3 513.2h1.6M620.7 513.7h1.6M622.1 516.5h1.6M623.5 516.6h1.6M624.9 515.3h1.6M626.3 516.2h1.6M627.7 516.1h1.6M629.2 516.7h1.6M630.6 516.2h1.6M632 518.8h1.6M633.4 519.4h1.6M634.8 521.5h1.6M636.2 520.8h1.6M637.6 521.6h1.6M639.1 522.9h1.6M640.5 524.6h1.6M641.9 524.7h1.6M643.3 525.7h1.6M644.7 528.5h1.6M646.1 528.9h1.6M647.5 529.7h1.6M648.9 530.9h1.6M650.4 533.4h1.6M651.8 534.8h1.6M653.2 535.7h1.6M654.6 538.5h1.6M656 538.6h1.6M657.4 541.4h1.6M658.8 542.6h1.6M660.3 544.5h1.6M661.7 546.7h1.6M663.1 546h1.6M664.5 548.5h1.6M665.9 551.1h1.6M667.3 550.4h1.6M668.7 552.9h1.6M670.1 554.3h1.6M671.6 554.6h1.6M673 555.8h1.6M674.4 556.6h1.6M675.8 557.6h1.6M677.2 558.6h1.6M678.6 559.1h1.6M680 560.1h1.6M681.5 560.1h1.6M682.9 560.8h1.6M684.3 561.3h1.6M685.7 561.9h1.6M687.1 562.2h1.6M688.5 562.4h1.6M689.9 563h1.6M691.3 563.4h1.6M692.8 563.4h1.6M694.2 563.7h1.6M695.6 564.2h1.6M697 564.3h1.6M698.4 564.6h1.6M699.8 564.8h1.6M701.2 564.9h1.6M702.7 565.2h1.6M704.1 565.3h1.6M705.5 565.4h1.6M706.9 565.4h1.6M708.3 565.4h1.6M709.7 565.5h1.6M711.1 565.6h1.6M712.6 565.6h1.6M714 565.6h1.6M715.4 565.6h1.6M716.8 565.6h1.6M718.2 565.6h1.6M719.6 565.6h1.6M721 565.6h1.6M722.4 565.6h1.6M723.9 565.6h1.6M725.3 565.6h1.6M726.7 565.6h1.6M728.1 565.6h1.6M729.5 565.6h1.6M730.9 565.6h1.6M732.3 565.6h1.6M733.8 565.6h1.6M735.2 565.6h1.6M736.6 565.6h1.6M738 565.6h1.6M739.4 565.6h1.6M740.8 565.6h1.6M742.2 565.6h1.6M743.6 565.6h1.6M745.1 565.6h1.6M746.5 565.6h1.6M747.9 565.6h1.6M749.3 565.6h1.6M750.7 565.6h1.6M752.1 565.6h1.6M753.5 565.6h1.6M755 565.6h1.6M756.4 565.6h1.6M757.8 565.6h1.6M759.2 565.6h1.6M760.6 565.6h1.6M762 565.6h1.6M763.4 565.6h1.6M764.8 565.6h1.6M766.3 565.6h1.6M767.7 565.6h1.6M769.1 565.6h1.6M770.5 565.6h1.6M771.9 565.6h1.6M773.3 565.6h1.6M774.7 565.6h1.6M776.2 565.6h1.6M777.6 565.6h1.6M779 565.6h1.6M780.4 565.6h1.6M781.8 565.6h1.6M783.2 565.6h1.6M784.6 565.6h1.6M786 565.6h1.6M787.5 565.6h1.6M788.9 565.6h1.6M790.3 565.6h1.6M791.7 565.6h1.6M793.1 565.6h1.6M794.5 565.6h1.6M795.9 565.6h1.6M797.4 565.6h1.6M798.8 565.6h1.6M800.2 565.6h1.6M801.6 565.6h1.6M803 565.6h1.6M804.4 565.6h1.6M805.8 565.6h1.6M807.2 565.6h1.6M808.7 565.6h1.6M810.1 565.6h1.6M811.5 565.6h1.6M812.9 565.6h1.6M814.3 565.6h1.6M815.7 565.6h1.6M817.1 565.6h1.6M818.6 565.6h1.6M820 565.6h1.6M821.4 565.6h1.6M822.8 565.6h1.6M824.2 565.6h1.6M825.6 565.6h1.6M827 565.6h1.6M828.4 565.6h1.6M829.9 565.6h1.6M831.3 565.6h1.6M832.7 565.6h1.6M834.1 565.6h1.6M835.5 565.6h1.6M836.9 565.6h1.6M838.3 565.6h1.6M839.8 565.6h1.6M841.2 565.6h1.6M842.6 565.6h1.6M844 565.6h1.6M845.4 565.6h1.6M846.8 565.6h1.6M848.2 565.6h1.6M849.7 565.6h1.6M851.1 565.6h1.6M852.5 565.6h1.6M853.9 565.6h1.6M855.3 565.6h1.6M856.7 565.6h1.6M858.1 565.6h1.6M859.5 565.6h1.6M861 565.6h1.6M862.4 565.6h1.6M863.8 565.6h1.6M865.2 565.6h1.6M866.6 565.6h1.6M868 565.6h1.6M869.4 565.6h1.6M870.9 565.6h1.6M872.3 565.6h1.6M873.7 565.6h1.6M875.1 565.6h1.6M876.5 565.6h1.6M877.9 565.6h1.6M879.3 565.6h1.6M880.7 565.6h1.6M882.2 565.6h1.6M883.6 565.6h1.6M885 565.6h1.6M886.4 565.6h1.6M887.8 565.6h1.6M889.2 565.6h1.6M890.6 565.6h1.6M892.1 565.6h1.6M893.5 565.6h1.6M894.9 565.6h1.6M896.3 565.6h1.6M897.7 565.6h1.6M899.1 565.6h1.6M900.5 565.6h1.6M901.9 565.6h1.6M903.4 565.6h1.6M904.8 565.6h1.6M906.2 565.6h1.6M907.6 565.6h1.6M909 565.6h1.6M910.4 565.6h1.6M911.8 565.6h1.6M913.3 565.6h1.6M914.7 565.6h1.6M916.1 565.6h1.6M917.5 565.6h1.6" fill="none" stroke="#ffa500" stroke-width="1.7"/>
<rect x="212.3" y="12.1" width="706.7" height="553.1" fill="none" stroke="#000" stroke-width="1.8"/>
<text x="215.9" y="609.8" text-anchor="middle">0</text>
<text x="286.6" y="609.8" text-anchor="middle">5</text>
<text x="357.2" y="609.8" text-anchor="middle">10</text>
<text x="427.9" y="609.8" text-anchor="middle">15</text>
<text x="498.6" y="609.8" text-anchor="middle">20</text>
<text x="569.3" y="609.8" text-anchor="middle">25</text>
<text x="639.9" y="609.8" text-anchor="middle">30</text>
<text x="710.6" y="609.8" text-anchor="middle">35</text>
<text x="781.3" y="609.8" text-anchor="middle">40</text>
<text x="851.9" y="609.8" text-anchor="middle">45</text>
<text x="922.6" y="609.8" text-anchor="middle">50</text>
<text x="192.2" y="576.8" text-anchor="end">0</text>
<text x="191" y="466.2" text-anchor="end">0.0005</text>
<text x="190.4" y="355.6" text-anchor="end">0.001</text>
<text x="191" y="244.9" text-anchor="end">0.0015</text>
<text x="192" y="134.3" text-anchor="end">0.002</text>
<text x="191" y="23.7" text-anchor="end">0.0025</text>
<path d="M479.2 394.8v-8.3M479.2 41.9v8.3M495.6 394.8v-4.2M495.6 41.9v4.2M512 394.8v-4.2M512 41.9v4.2M528.4 394.8v-4.2M528.4 41.9v4.2M544.8 394.8v-4.2M544.8 41.9v4.2M561.2 394.8v-8.3M561.2 41.9v8.3M577.6 394.8v-4.2M577.6 41.9v4.2M594 394.8v-4.2M594 41.9v4.2M610.4 394.8v-4.2M610.4 41.9v4.2M626.8 394.8v-4.2M626.8 41.9v4.2M643.2 394.8v-8.3M643.2 41.9v8.3M659.6 394.8v-4.2M659.6 41.9v4.2M676 394.8v-4.2M676 41.9v4.2M692.5 394.8v-4.2M692.5 41.9v4.2M708.9 394.8v-4.2M708.9 41.9v4.2M725.3 394.8v-8.3M725.3 41.9v8.3M741.7 394.8v-4.2M741.7 41.9v4.2M758.1 394.8v-4.2M758.1 41.9v4.2M774.5 394.8v-4.2M774.5 41.9v4.2M790.9 394.8v-4.2M790.9 41.9v4.2M807.3 394.8v-8.3M807.3 41.9v8.3M823.7 394.8v-4.2M823.7 41.9v4.2M840.1 394.8v-4.2M840.1 41.9v4.2M856.5 394.8v-4.2M856.5 41.9v4.2M872.9 394.8v-4.2M872.9 41.9v4.2M889.3 394.8v-8.3M889.3 41.9v8.3M479.2 394.80h8.3M889.3 394.80h-8.3M479.2 380.68h4.2M889.3 380.68h-4.2M479.2 366.57h4.2M889.3 366.57h-4.2M479.2 352.45h4.2M889.3 352.45h-4.2M479.2 338.34h4.2M889.3 338.34h-4.2M479.2 324.22h8.3M889.3 324.22h-8.3M479.2 310.10h4.2M889.3 310.10h-4.2M479.2 295.99h4.2M889.3 295.99h-4.2M479.2 281.87h4.2M889.3 281.87h-4.2M479.2 267.76h4.2M889.3 267.76h-4.2M479.2 253.64h8.3M889.3 253.64h-8.3M479.2 239.52h4.2M889.3 239.52h-4.2M479.2 225.41h4.2M889.3 225.41h-4.2M479.2 211.29h4.2M889.3 211.29h-4.2M479.2 197.18h4.2M889.3 197.18h-4.2M479.2 183.06h8.3M889.3 183.06h-8.3M479.2 168.94h4.2M889.3 168.94h-4.2M479.2 154.83h4.2M889.3 154.83h-4.2M479.2 140.71h4.2M889.3 140.71h-4.2M479.2 126.60h4.2M889.3 126.60h-4.2M479.2 112.48h8.3M889.3 112.48h-8.3M479.2 98.36h4.2M889.3 98.36h-4.2M479.2 84.25h4.2M889.3 84.25h-4.2M479.2 70.13h4.2M889.3 70.13h-4.2M479.2 56.02h4.2M889.3 56.02h-4.2M479.2 41.90h8.3M889.3 41.90h-8.3" fill="none" stroke="#000" stroke-width="1.6"/>
<path d="M474 389.6h11.3v11.3h-11.3zM474.8 389.6h11.3v11.3h-11.3zM475.6 389.6h11.3v11.3h-11.3zM476.4 389.6h11.3v11.3h-11.3zM477.2 389.6h11.3v11.3h-11.3zM478.1 389.6h11.3v11.3h-11.3zM478.9 389.6h11.3v11.3h-11.3zM479.7 389.6h11.3v11.3h-11.3zM480.5 389.6h11.3v11.3h-11.3zM481.3 389.6h11.3v11.3h-11.3zM482.2 389.6h11.3v11.3h-11.3zM483 389.6h11.3v11.3h-11.3zM483.8 389.6h11.3v11.3h-11.3zM484.6 389.6h11.3v11.3h-11.3zM485.4 389.6h11.3v11.3h-11.3zM486.3 389.6h11.3v11.3h-11.3zM487.1 389.6h11.3v11.3h-11.3zM487.9 389.6h11.3v11.3h-11.3zM488.7 389.6h11.3v11.3h-11.3zM489.5 389.6h11.3v11.3h-11.3zM490.4 389.6h11.3v11.3h-11.3zM491.2 389.6h11.3v11.3h-11.3zM492 389.6h11.3v11.3h-11.3zM492.8 389.6h11.3v11.3h-11.3zM493.6 389.6h11.3v11.3h-11.3zM494.5 389.6h11.3v11.3h-11.3zM495.3 389.6h11.3v11.3h-11.3zM496.1 389.6h11.3v11.3h-11.3zM496.9 389.6h11.3v11.3h-11.3zM497.7 389.6h11.3v11.3h-11.3zM498.6 389.6h11.3v11.3h-11.3zM499.4 389.6h11.3v11.3h-11.3zM500.2 389.6h11.3v11.3h-11.3zM501 389.6h11.3v11.3h-11.3zM501.8 389.6h11.3v11.3h-11.3zM502.7 389.6h11.3v11.3h-11.3zM503.5 389.6h11.3v11.3h-11.3zM504.3 389.6h11.3v11.3h-11.3zM505.1 389.6h11.3v11.3h-11.3zM505.9 389.6h11.3v11.3h-11.3zM506.8 389.6h11.3v11.3h-11.3zM507.6 389.6h11.3v11.3h-11.3zM508.4 389.6h11.3v11.3h-11.3zM509.2 389.6h11.3v11.3h-11.3zM510 389.6h11.3v11.3h-11.3zM510.9 389.6h11.3v11.3h-11.3zM511.7 389.6h11.3v11.3h-11.3zM512.5 389.6h11.3v11.3h-11.3zM513.3 389.5h11.3v11.3h-11.3zM514.1 389.5h11.3v11.3h-11.3zM515 389.6h11.3v11.3h-11.3zM515.8 389.2h11.3v11.3h-11.3zM516.6 389.4h11.3v11.3h-11.3zM517.4 388.7h11.3v11.3h-11.3zM518.3 388.6h11.3v11.3h-11.3zM519.1 388.3h11.3v11.3h-11.3zM519.9 387.8h11.3v11.3h-11.3zM520.7 387h11.3v11.3h-11.3zM521.5 387.5h11.3v11.3h-11.3zM522.4 387.1h11.3v11.3h-11.3zM523.2 387h11.3v11.3h-11.3zM524 386.3h11.3v11.3h-11.3zM524.8 384.5h11.3v11.3h-11.3zM525.6 383.2h11.3v11.3h-11.3zM526.5 382.2h11.3v11.3h-11.3zM527.3 381.4h11.3v11.3h-11.3zM528.1 378.7h11.3v11.3h-11.3zM528.9 378.4h11.3v11.3h-11.3zM529.7 375.2h11.3v11.3h-11.3zM530.6 371.9h11.3v11.3h-11.3zM531.4 368.6h11.3v11.3h-11.3zM532.2 363.2h11.3v11.3h-11.3zM533 360.8h11.3v11.3h-11.3zM533.8 353.7h11.3v11.3h-11.3zM534.7 345.6h11.3v11.3h-11.3zM535.5 338.7h11.3v11.3h-11.3zM536.3 330.1h11.3v11.3h-11.3zM537.1 316.5h11.3v11.3h-11.3zM537.9 304.3h11.3v11.3h-11.3zM538.8 295.6h11.3v11.3h-11.3zM539.6 276.7h11.3v11.3h-11.3zM540.4 258.2h11.3v11.3h-11.3zM541.2 238.2h11.3v11.3h-11.3zM542 218.7h11.3v11.3h-11.3zM542.9 192.7h11.3v11.3h-11.3zM543.7 179.4h11.3v11.3h-11.3zM544.5 151.9h11.3v11.3h-11.3zM545.3 132.1h11.3v11.3h-11.3zM546.1 116.3h11.3v11.3h-11.3zM547 92.6h11.3v11.3h-11.3zM547.8 74.1h11.3v11.3h-11.3zM548.6 54.9h11.3v11.3h-11.3zM549.4 56h11.3v11.3h-11.3zM550.2 50.5h11.3v11.3h-11.3zM551.1 55.7h11.3v11.3h-11.3zM551.9 62.8h11.3v11.3h-11.3zM552.7 72.9h11.3v11.3h-11.3zM553.5 88.8h11.3v11.3h-11.3zM554.3 109.4h11.3v11.3h-11.3zM555.2 144.4h11.3v11.3h-11.3zM556 182.7h11.3v11.3h-11.3zM556.8 216.9h11.3v11.3h-11.3zM557.6 252.5h11.3v11.3h-11.3zM558.4 281.3h11.3v11.3h-11.3zM559.3 311.4h11.3v11.3h-11.3zM560.1 334.6h11.3v11.3h-11.3zM560.9 356.3h11.3v11.3h-11.3zM561.7 370.7h11.3v11.3h-11.3zM562.5 380.9h11.3v11.3h-11.3zM563.4 386.5h11.3v11.3h-11.3zM564.2 388.6h11.3v11.3h-11.3zM565 389.6h11.3v11.3h-11.3zM565.8 389.6h11.3v11.3h-11.3zM566.6 389.6h11.3v11.3h-11.3zM567.5 389.6h11.3v11.3h-11.3zM568.3 389.6h11.3v11.3h-11.3zM569.1 389.6h11.3v11.3h-11.3zM569.9 389.6h11.3v11.3h-11.3zM570.7 389.6h11.3v11.3h-11.3zM571.6 389.6h11.3v11.3h-11.3zM572.4 389.6h11.3v11.3h-11.3zM573.2 389.6h11.3v11.3h-11.3zM574 389.6h11.3v11.3h-11.3zM574.8 389.6h11.3v11.3h-11.3zM575.7 389.6h11.3v11.3h-11.3zM576.5 389.6h11.3v11.3h-11.3zM577.3 389.6h11.3v11.3h-11.3zM578.1 389.6h11.3v11.3h-11.3zM578.9 389.6h11.3v11.3h-11.3zM579.8 389.6h11.3v11.3h-11.3zM580.6 389.6h11.3v11.3h-11.3zM581.4 389.6h11.3v11.3h-11.3zM582.2 389.6h11.3v11.3h-11.3zM583 389.6h11.3v11.3h-11.3zM583.9 389.6h11.3v11.3h-11.3zM584.7 389.6h11.3v11.3h-11.3zM585.5 389.6h11.3v11.3h-11.3zM586.3 389.6h11.3v11.3h-11.3zM587.1 389.6h11.3v11.3h-11.3zM588 389.6h11.3v11.3h-11.3zM588.8 389.6h11.3v11.3h-11.3zM589.6 389.6h11.3v11.3h-11.3zM590.4 389.6h11.3v11.3h-11.3zM591.2 389.6h11.3v11.3h-11.3zM592.1 389.6h11.3v11.3h-11.3zM592.9 389.6h11.3v11.3h-11.3zM593.7 389.6h11.3v11.3h-11.3zM594.5 389.6h11.3v11.3h-11.3zM595.3 389.6h11.3v11.3h-11.3zM596.2 389.6h11.3v11.3h-11.3zM597 389.6h11.3v11.3h-11.3zM597.8 389.6h11.3v11.3h-11.3zM598.6 389.6h11.3v11.3h-11.3zM599.5 389.6h11.3v11.3h-11.3zM600.3 389.6h11.3v11.3h-11.3zM601.1 389.6h11.3v11.3h-11.3zM601.9 389.6h11.3v11.3h-11.3zM602.7 389.6h11.3v11.3h-11.3zM603.6 389.6h11.3v11.3h-11.3zM604.4 389.6h11.3v11.3h-11.3zM605.2 389.6h11.3v11.3h-11.3zM606 389.6h11.3v11.3h-11.3zM606.8 389.6h11.3v11.3h-11.3zM607.7 389.6h11.3v11.3h-11.3zM608.5 389.6h11.3v11.3h-11.3zM609.3 389.6h11.3v11.3h-11.3zM610.1 389.6h11.3v11.3h-11.3zM610.9 389.6h11.3v11.3h-11.3zM611.8 389.6h11.3v11.3h-11.3zM612.6 389.6h11.3v11.3h-11.3zM613.4 389.6h11.3v11.3h-11.3zM614.2 389.6h11.3v11.3h-11.3zM615 389.6h11.3v11.3h-11.3zM615.9 389.6h11.3v11.3h-11.3zM616.7 389.6h11.3v11.3h-11.3zM617.5 389.6h11.3v11.3h-11.3zM618.3 389.6h11.3v11.3h-11.3zM619.1 389.6h11.3v11.3h-11.3zM620 389.6h11.3v11.3h-11.3zM620.8 389.6h11.3v11.3h-11.3zM621.6 389.6h11.3v11.3h-11.3zM622.4 389.6h11.3v11.3h-11.3zM623.2 389.6h11.3v11.3h-11.3zM624.1 389.6h11.3v11.3h-11.3zM624.9 389.6h11.3v11.3h-11.3zM625.7 389.6h11.3v11.3h-11.3zM626.5 389.6h11.3v11.3h-11.3zM627.3 389.6h11.3v11.3h-11.3zM628.2 389.6h11.3v11.3h-11.3zM629 389.6h11.3v11.3h-11.3zM629.8 389.6h11.3v11.3h-11.3zM630.6 389.6h11.3v11.3h-11.3zM631.4 389.6h11.3v11.3h-11.3zM632.3 389.6h11.3v11.3h-11.3zM633.1 389.6h11.3v11.3h-11.3zM633.9 389.6h11.3v11.3h-11.3zM634.7 389.6h11.3v11.3h-11.3zM635.5 389.6h11.3v11.3h-11.3zM636.4 389.6h11.3v11.3h-11.3zM637.2 389.6h11.3v11.3h-11.3zM638 389.6h11.3v11.3h-11.3zM638.8 389.6h11.3v11.3h-11.3zM639.6 389.6h11.3v11.3h-11.3zM640.5 389.6h11.3v11.3h-11.3zM641.3 389.6h11.3v11.3h-11.3zM642.1 389.6h11.3v11.3h-11.3zM642.9 389.6h11.3v11.3h-11.3zM643.7 389.6h11.3v11.3h-11.3zM644.6 389.6h11.3v11.3h-11.3zM645.4 389.6h11.3v11.3h-11.3zM646.2 389.6h11.3v11.3h-11.3zM647 389.6h11.3v11.3h-11.3zM647.8 389.6h11.3v11.3h-11.3zM648.7 389.6h11.3v11.3h-11.3zM649.5 389.6h11.3v11.3h-11.3zM650.3 389.6h11.3v11.3h-11.3zM651.1 389.6h11.3v11.3h-11.3zM651.9 389.6h11.3v11.3h-11.3zM652.8 389.6h11.3v11.3h-11.3zM653.6 389.6h11.3v11.3h-11.3zM654.4 389.6h11.3v11.3h-11.3zM655.2 389.6h11.3v11.3h-11.3zM656 389.6h11.3v11.3h-11.3zM656.9 389.6h11.3v11.3h-11.3zM657.7 389.6h11.3v11.3h-11.3zM658.5 389.6h11.3v11.3h-11.3zM659.3 389.6h11.3v11.3h-11.3zM660.1 389.6h11.3v11.3h-11.3zM661 389.6h11.3v11.3h-11.3zM661.8 389.6h11.3v11.3h-11.3zM662.6 389.6h11.3v11.3h-11.3zM663.4 389.6h11.3v11.3h-11.3zM664.2 389.6h11.3v11.3h-11.3zM665.1 389.6h11.3v11.3h-11.3zM665.9 389.6h11.3v11.3h-11.3zM666.7 389.6h11.3v11.3h-11.3zM667.5 389.6h11.3v11.3h-11.3zM668.3 389.6h11.3v11.3h-11.3zM669.2 389.6h11.3v11.3h-11.3zM670 389.6h11.3v11.3h-11.3zM670.8 389.6h11.3v11.3h-11.3zM671.6 389.6h11.3v11.3h-11.3zM672.4 389.6h11.3v11.3h-11.3zM673.3 389.6h11.3v11.3h-11.3zM674.1 389.6h11.3v11.3h-11.3zM674.9 389.6h11.3v11.3h-11.3zM675.7 389.6h11.3v11.3h-11.3zM676.5 389.6h11.3v11.3h-11.3zM677.4 389.6h11.3v11.3h-11.3zM678.2 389.6h11.3v11.3h-11.3zM679 389.6h11.3v11.3h-11.3zM679.8 389.6h11.3v11.3h-11.3zM680.7 389.6h11.3v11.3h-11.3zM681.5 389.6h11.3v11.3h-11.3zM682.3 389.6h11.3v11.3h-11.3zM683.1 389.6h11.3v11.3h-11.3zM683.9 389.6h11.3v11.3h-11.3zM684.8 389.6h11.3v11.3h-11.3zM685.6 389.6h11.3v11.3h-11.3zM686.4 389.6h11.3v11.3h-11.3zM687.2 389.6h11.3v11.3h-11.3zM688 389.6h11.3v11.3h-11.3zM688.9 389.6h11.3v11.3h-11.3zM689.7 389.6h11.3v11.3h-11.3zM690.5 389.6h11.3v11.3h-11.3zM691.3 389.6h11.3v11.3h-11.3zM692.1 389.6h11.3v11.3h-11.3zM693 389.6h11.3v11.3h-11.3zM693.8 389.6h11.3v11.3h-11.3zM694.6 389.6h11.3v11.3h-11.3zM695.4 389.6h11.3v11.3h-11.3zM696.2 389.6h11.3v11.3h-11.3zM697.1 389.6h11.3v11.3h-11.3zM697.9 389.6h11.3v11.3h-11.3zM698.7 389.6h11.3v11.3h-11.3zM699.5 389.6h11.3v11.3h-11.3zM700.3 389.6h11.3v11.3h-11.3zM701.2 389.6h11.3v11.3h-11.3zM702 389.6h11.3v11.3h-11.3zM702.8 389.6h11.3v11.3h-11.3zM703.6 389.6h11.3v11.3h-11.3zM704.4 389.6h11.3v11.3h-11.3zM705.3 389.6h11.3v11.3h-11.3zM706.1 389.6h11.3v11.3h-11.3zM706.9 389.6h11.3v11.3h-11.3zM707.7 389.6h11.3v11.3h-11.3zM708.5 389.6h11.3v11.3h-11.3zM709.4 389.6h11.3v11.3h-11.3zM710.2 389.6h11.3v11.3h-11.3zM711 389.6h11.3v11.3h-11.3zM711.8 389.6h11.3v11.3h-11.3zM712.6 389.6h11.3v11.3h-11.3zM713.5 389.6h11.3v11.3h-11.3zM714.3 389.6h11.3v11.3h-11.3zM715.1 389.6h11.3v11.3h-11.3zM715.9 389.6h11.3v11.3h-11.3zM716.7 389.6h11.3v11.3h-11.3zM717.6 389.6h11.3v11.3h-11.3zM718.4 389.6h11.3v11.3h-11.3zM719.2 389.6h11.3v11.3h-11.3zM720 389.6h11.3v11.3h-11.3zM720.8 389.6h11.3v11.3h-11.3zM721.7 389.6h11.3v11.3h-11.3zM722.5 389.6h11.3v11.3h-11.3zM723.3 389.6h11.3v11.3h-11.3zM724.1 389.6h11.3v11.3h-11.3zM724.9 389.6h11.3v11.3h-11.3zM725.8 389.6h11.3v11.3h-11.3zM726.6 389.6h11.3v11.3h-11.3zM727.4 389.6h11.3v11.3h-11.3zM728.2 389.6h11.3v11.3h-11.3zM729 389.6h11.3v11.3h-11.3zM729.9 389.6h11.3v11.3h-11.3zM730.7 389.6h11.3v11.3h-11.3zM731.5 389.6h11.3v11.3h-11.3zM732.3 389.6h11.3v11.3h-11.3zM733.1 389.6h11.3v11.3h-11.3zM734 389.6h11.3v11.3h-11.3zM734.8 389.6h11.3v11.3h-11.3zM735.6 389.6h11.3v11.3h-11.3zM736.4 389.6h11.3v11.3h-11.3zM737.2 389.6h11.3v11.3h-11.3zM738.1 389.6h11.3v11.3h-11.3zM738.9 389.6h11.3v11.3h-11.3zM739.7 389.6h11.3v11.3h-11.3zM740.5 389.6h11.3v11.3h-11.3zM741.3 389.6h11.3v11.3h-11.3zM742.2 389.6h11.3v11.3h-11.3zM743 389.6h11.3v11.3h-11.3zM743.8 389.6h11.3v11.3h-11.3zM744.6 389.6h11.3v11.3h-11.3zM745.4 389.6h11.3v11.3h-11.3zM746.3 389.6h11.3v11.3h-11.3zM747.1 389.6h11.3v11.3h-11.3zM747.9 389.6h11.3v11.3h-11.3zM748.7 389.6h11.3v11.3h-11.3zM749.5 389.6h11.3v11.3h-11.3zM750.4 389.6h11.3v11.3h-11.3zM751.2 389.6h11.3v11.3h-11.3zM752 389.6h11.3v11.3h-11.3zM752.8 389.6h11.3v11.3h-11.3zM753.6 389.6h11.3v11.3h-11.3zM754.5 389.6h11.3v11.3h-11.3zM755.3 389.6h11.3v11.3h-11.3zM756.1 389.6h11.3v11.3h-11.3zM756.9 389.6h11.3v11.3h-11.3zM757.7 389.6h11.3v11.3h-11.3zM758.6 389.6h11.3v11.3h-11.3zM759.4 389.6h11.3v11.3h-11.3zM760.2 389.6h11.3v11.3h-11.3zM761 389.6h11.3v11.3h-11.3zM761.9 389.6h11.3v11.3h-11.3zM762.7 389.6h11.3v11.3h-11.3zM763.5 389.6h11.3v11.3h-11.3zM764.3 389.6h11.3v11.3h-11.3zM765.1 389.6h11.3v11.3h-11.3zM766 389.6h11.3v11.3h-11.3zM766.8 389.6h11.3v11.3h-11.3zM767.6 389.6h11.3v11.3h-11.3zM768.4 389.6h11.3v11.3h-11.3zM769.2 389.6h11.3v11.3h-11.3zM770.1 389.6h11.3v11.3h-11.3zM770.9 389.6h11.3v11.3h-11.3zM771.7 389.6h11.3v11.3h-11.3zM772.5 389.6h11.3v11.3h-11.3zM773.3 389.6h11.3v11.3h-11.3zM774.2 389.6h11.3v11.3h-11.3zM775 389.6h11.3v11.3h-11.3zM775.8 389.6h11.3v11.3h-11.3zM776.6 389.6h11.3v11.3h-11.3zM777.4 389.6h11.3v11.3h-11.3zM778.3 389.6h11.3v11.3h-11.3zM779.1 389.6h11.3v11.3h-11.3zM779.9 389.6h11.3v11.3h-11.3zM780.7 389.6h11.3v11.3h-11.3zM781.5 389.6h11.3v11.3h-11.3zM782.4 389.6h11.3v11.3h-11.3zM783.2 389.6h11.3v11.3h-11.3zM784 389.6h11.3v11.3h-11.3zM784.8 389.6h11.3v11.3h-11.3zM785.6 389.6h11.3v11.3h-11.3zM786.5 389.6h11.3v11.3h-11.3zM787.3 389.6h11.3v11.3h-11.3zM788.1 389.6h11.3v11.3h-11.3zM788.9 389.6h11.3v11.3h-11.3zM789.7 389.6h11.3v11.3h-11.3zM790.6 389.6h11.3v11.3h-11.3zM791.4 389.6h11.3v11.3h-11.3zM792.2 389.6h11.3v11.3h-11.3zM793 389.6h11.3v11.3h-11.3zM793.8 389.6h11.3v11.3h-11.3zM794.7 389.6h11.3v11.3h-11.3zM795.5 389.6h11.3v11.3h-11.3zM796.3 389.6h11.3v11.3h-11.3zM797.1 389.6h11.3v11.3h-11.3zM797.9 389.6h11.3v11.3h-11.3zM798.8 389.6h11.3v11.3h-11.3zM799.6 389.6h11.3v11.3h-11.3zM800.4 389.6h11.3v11.3h-11.3zM801.2 389.6h11.3v11.3h-11.3zM802 389.6h11.3v11.3h-11.3zM802.9 389.6h11.3v11.3h-11.3zM803.7 389.6h11.3v11.3h-11.3zM804.5 389.6h11.3v11.3h-11.3zM805.3 389.6h11.3v11.3h-11.3zM806.1 389.6h11.3v11.3h-11.3zM807 389.6h11.3v11.3h-11.3zM807.8 389.6h11.3v11.3h-11.3zM808.6 389.6h11.3v11.3h-11.3zM809.4 389.6h11.3v11.3h-11.3zM810.2 389.6h11.3v11.3h-11.3zM811.1 389.6h11.3v11.3h-11.3zM811.9 389.6h11.3v11.3h-11.3zM812.7 389.6h11.3v11.3h-11.3zM813.5 389.6h11.3v11.3h-11.3zM814.3 389.6h11.3v11.3h-11.3zM815.2 389.6h11.3v11.3h-11.3zM816 389.6h11.3v11.3h-11.3zM816.8 389.6h11.3v11.3h-11.3zM817.6 389.6h11.3v11.3h-11.3zM818.4 389.6h11.3v11.3h-11.3zM819.3 389.6h11.3v11.3h-11.3zM820.1 389.6h11.3v11.3h-11.3zM820.9 389.6h11.3v11.3h-11.3zM821.7 389.6h11.3v11.3h-11.3zM822.5 389.6h11.3v11.3h-11.3zM823.4 389.6h11.3v11.3h-11.3zM824.2 389.6h11.3v11.3h-11.3zM825 389.6h11.3v11.3h-11.3zM825.8 389.6h11.3v11.3h-11.3zM826.6 389.6h11.3v11.3h-11.3zM827.5 389.6h11.3v11.3h-11.3zM828.3 389.6h11.3v11.3h-11.3zM829.1 389.6h11.3v11.3h-11.3zM829.9 389.6h11.3v11.3h-11.3zM830.7 389.6h11.3v11.3h-11.3zM831.6 389.6h11.3v11.3h-11.3zM832.4 389.6h11.3v11.3h-11.3zM833.2 389.6h11.3v11.3h-11.3zM834 389.6h11.3v11.3h-11.3z" fill="none" stroke="#0000ff" stroke-width="1.65" stroke-linejoin="miter"/>
<path d="M478.8 395.2h1.6M479.6 395.2h1.6M480.5 395.2h1.6M481.3 395.2h1.6M482.1 395.2h1.6M482.9 395.2h1.6M483.7 395.2h1.6M484.6 395.2h1.6M485.4 395.2h1.6M486.2 395.2h1.6M487 395.2h1.6M487.8 395.2h1.6M488.7 395.2h1.6M489.5 395.2h1.6M490.3 395.2h1.6M491.1 395.2h1.6M491.9 395.2h1.6M492.8 395.2h1.6M493.6 395.2h1.6M494.4 395.2h1.6M495.2 395.2h1.6M496 395.2h1.6M496.9 395.2h1.6M497.7 395.2h1.6M498.5 395.2h1.6M499.3 395.2h1.6M500.1 395.2h1.6M501 395.2h1.6M501.8 395.2h1.6M502.6 395.2h1.6M503.4 395.2h1.6M504.2 395.2h1.6M505.1 395.2h1.6M505.9 395.2h1.6M506.7 395.2h1.6M507.5 395.2h1.6M508.3 395.2h1.6M509.2 395.2h1.6M510 395.2h1.6M510.8 395.2h1.6M511.6 395.2h1.6M512.4 395.2h1.6M513.3 395.2h1.6M514.1 395.2h1.6M514.9 395.2h1.6M515.7 395.2h1.6M516.5 395.2h1.6M517.4 395.2h1.6M518.2 395.2h1.6M519 395.1h1.6M519.8 395.2h1.6M520.6 394.9h1.6M521.5 395.1h1.6M522.3 394.3h1.6M523.1 394.2h1.6M523.9 394h1.6M524.7 393.4h1.6M525.6 392.6h1.6M526.4 393.2h1.6M527.2 392.7h1.6M528 392.7h1.6M528.8 392h1.6M529.7 390.1h1.6M530.5 388.8h1.6M531.3 387.9h1.6M532.1 387h1.6M532.9 384.3h1.6M533.8 384h1.6M534.6 380.9h1.6M535.4 377.5h1.6M536.2 374.2h1.6M537 368.9h1.6M537.9 366.4h1.6M538.7 359.3h1.6M539.5 351.3h1.6M540.3 344.4h1.6M541.1 335.7h1.6M542 322.2h1.6M542.8 310h1.6M543.6 301.3h1.6M544.4 282.4h1.6M545.2 263.9h1.6M546.1 243.8h1.6M546.9 224.3h1.6M547.7 198.4h1.6M548.5 185.1h1.6M549.3 157.6h1.6M550.2 137.8h1.6M551 121.9h1.6M551.8 98.3h1.6M552.6 79.8h1.6M553.4 60.5h1.6M554.3 61.7h1.6M555.1 56.1h1.6M555.9 61.4h1.6M556.7 68.5h1.6M557.5 78.6h1.6M558.4 94.5h1.6M559.2 115h1.6M560 150.1h1.6M560.8 188.3h1.6M561.7 222.6h1.6M562.5 258.2h1.6M563.3 287h1.6M564.1 317.1h1.6M564.9 340.2h1.6M565.8 361.9h1.6M566.6 376.4h1.6M567.4 386.6h1.6M568.2 392.1h1.6M569 394.2h1.6M569.9 395.2h1.6M570.7 395.2h1.6M571.5 395.2h1.6M572.3 395.2h1.6M573.1 395.2h1.6M574 395.2h1.6M574.8 395.2h1.6M575.6 395.2h1.6M576.4 395.2h1.6M577.2 395.2h1.6M578.1 395.2h1.6M578.9 395.2h1.6M579.7 395.2h1.6M580.5 395.2h1.6M581.3 395.2h1.6M582.2 395.2h1.6M583 395.2h1.6M583.8 395.2h1.6M584.6 395.2h1.6M585.4 395.2h1.6M586.3 395.2h1.6M587.1 395.2h1.6M587.9 395.2h1.6M588.7 395.2h1.6M589.5 395.2h1.6M590.4 395.2h1.6M591.2 395.2h1.6M592 395.2h1.6M592.8 395.2h1.6M593.6 395.2h1.6M594.5 395.2h1.6M595.3 395.2h1.6M596.1 395.2h1.6M596.9 395.2h1.6M597.7 395.2h1.6M598.6 395.2h1.6M599.4 395.2h1.6M600.2 395.2h1.6M601 395.2h1.6M601.8 395.2h1.6M602.7 395.2h1.6M603.5 395.2h1.6M604.3 395.2h1.6M605.1 395.2h1.6M605.9 395.2h1.6M606.8 395.2h1.6M607.6 395.2h1.6M608.4 395.2h1.6M609.2 395.2h1.6M610 395.2h1.6M610.9 395.2h1.6M611.7 395.2h1.6M612.5 395.2h1.6M613.3 395.2h1.6M614.1 395.2h1.6M615 395.2h1.6M615.8 395.2h1.6M616.6 395.2h1.6M617.4 395.2h1.6M618.2 395.2h1.6M619.1 395.2h1.6M619.9 395.2h1.6M620.7 395.2h1.6M621.5 395.2h1.6M622.3 395.2h1.6M623.2 395.2h1.6M624 395.2h1.6M624.8 395.2h1.6M625.6 395.2h1.6M626.4 395.2h1.6M627.3 395.2h1.6M628.1 395.2h1.6M628.9 395.2h1.6M629.7 395.2h1.6M630.5 395.2h1.6M631.4 395.2h1.6M632.2 395.2h1.6M633 395.2h1.6M633.8 395.2h1.6M634.6 395.2h1.6M635.5 395.2h1.6M636.3 395.2h1.6M637.1 395.2h1.6M637.9 395.2h1.6M638.7 395.2h1.6M639.6 395.2h1.6M640.4 395.2h1.6M641.2 395.2h1.6M642 395.2h1.6M642.9 395.2h1.6M643.7 395.2h1.6M644.5 395.2h1.6M645.3 395.2h1.6M646.1 395.2h1.6M647 395.2h1.6M647.8 395.2h1.6M648.6 395.2h1.6M649.4 395.2h1.6M650.2 395.2h1.6M651.1 395.2h1.6M651.9 395.2h1.6M652.7 395.2h1.6M653.5 395.2h1.6M654.3 395.2h1.6M655.2 395.2h1.6M656 395.2h1.6M656.8 395.2h1.6M657.6 395.2h1.6M658.4 395.2h1.6M659.3 395.2h1.6M660.1 395.2h1.6M660.9 395.2h1.6M661.7 395.2h1.6M662.5 395.2h1.6M663.4 395.2h1.6M664.2 395.2h1.6M665 395.2h1.6M665.8 395.2h1.6M666.6 395.2h1.6M667.5 395.2h1.6M668.3 395.2h1.6M669.1 395.2h1.6M669.9 395.2h1.6M670.7 395.2h1.6M671.6 395.2h1.6M672.4 395.2h1.6M673.2 395.2h1.6M674 395.2h1.6M674.8 395.2h1.6M675.7 395.2h1.6M676.5 395.2h1.6M677.3 395.2h1.6M678.1 395.2h1.6M678.9 395.2h1.6M679.8 395.2h1.6M680.6 395.2h1.6M681.4 395.2h1.6M682.2 395.2h1.6M683 395.2h1.6M683.9 395.2h1.6M684.7 395.2h1.6M685.5 395.2h1.6M686.3 395.2h1.6M687.1 395.2h1.6M688 395.2h1.6M688.8 395.2h1.6M689.6 395.2h1.6M690.4 395.2h1.6M691.2 395.2h1.6M692.1 395.2h1.6M692.9 395.2h1.6M693.7 395.2h1.6M694.5 395.2h1.6M695.3 395.2h1.6M696.2 395.2h1.6M697 395.2h1.6M697.8 395.2h1.6M698.6 395.2h1.6M699.4 395.2h1.6M700.3 395.2h1.6M701.1 395.2h1.6M701.9 395.2h1.6M702.7 395.2h1.6M703.5 395.2h1.6M704.4 395.2h1.6M705.2 395.2h1.6M706 395.2h1.6M706.8 395.2h1.6M707.6 395.2h1.6M708.5 395.2h1.6M709.3 395.2h1.6M710.1 395.2h1.6M710.9 395.2h1.6M711.7 395.2h1.6M712.6 395.2h1.6M713.4 395.2h1.6M714.2 395.2h1.6M715 395.2h1.6M715.8 395.2h1.6M716.7 395.2h1.6M717.5 395.2h1.6M718.3 395.2h1.6M719.1 395.2h1.6M719.9 395.2h1.6M720.8 395.2h1.6M721.6 395.2h1.6M722.4 395.2h1.6M723.2 395.2h1.6M724 395.2h1.6M724.9 395.2h1.6M725.7 395.2h1.6M726.5 395.2h1.6M727.3 395.2h1.6M728.2 395.2h1.6M729 395.2h1.6M729.8 395.2h1.6M730.6 395.2h1.6M731.4 395.2h1.6M732.3 395.2h1.6M733.1 395.2h1.6M733.9 395.2h1.6M734.7 395.2h1.6M735.5 395.2h1.6M736.4 395.2h1.6M737.2 395.2h1.6M738 395.2h1.6M738.8 395.2h1.6M739.6 395.2h1.6M740.5 395.2h1.6M741.3 395.2h1.6M742.1 395.2h1.6M742.9 395.2h1.6M743.7 395.2h1.6M744.6 395.2h1.6M745.4 395.2h1.6M746.2 395.2h1.6M747 395.2h1.6M747.8 395.2h1.6M748.7 395.2h1.6M749.5 395.2h1.6M750.3 395.2h1.6M751.1 395.2h1.6M751.9 395.2h1.6M752.8 395.2h1.6M753.6 395.2h1.6M754.4 395.2h1.6M755.2 395.2h1.6M756 395.2h1.6M756.9 395.2h1.6M757.7 395.2h1.6M758.5 395.2h1.6M759.3 395.2h1.6M760.1 395.2h1.6M761 395.2h1.6M761.8 395.2h1.6M762.6 395.2h1.6M763.4 395.2h1.6M764.2 395.2h1.6M765.1 395.2h1.6M765.9 395.2h1.6M766.7 395.2h1.6M767.5 395.2h1.6M768.3 395.2h1.6M769.2 395.2h1.6M770 395.2h1.6M770.8 395.2h1.6M771.6 395.2h1.6M772.4 395.2h1.6M773.3 395.2h1.6M774.1 395.2h1.6M774.9 395.2h1.6M775.7 395.2h1.6M776.5 395.2h1.6M777.4 395.2h1.6M778.2 395.2h1.6M779 395.2h1.6M779.8 395.2h1.6M780.6 395.2h1.6M781.5 395.2h1.6M782.3 395.2h1.6M783.1 395.2h1.6M783.9 395.2h1.6M784.7 395.2h1.6M785.6 395.2h1.6M786.4 395.2h1.6M787.2 395.2h1.6M788 395.2h1.6M788.8 395.2h1.6M789.7 395.2h1.6M790.5 395.2h1.6M791.3 395.2h1.6M792.1 395.2h1.6M792.9 395.2h1.6M793.8 395.2h1.6M794.6 395.2h1.6M795.4 395.2h1.6M796.2 395.2h1.6M797 395.2h1.6M797.9 395.2h1.6M798.7 395.2h1.6M799.5 395.2h1.6M800.3 395.2h1.6M801.1 395.2h1.6M802 395.2h1.6M802.8 395.2h1.6M803.6 395.2h1.6M804.4 395.2h1.6M805.2 395.2h1.6M806.1 395.2h1.6M806.9 395.2h1.6M807.7 395.2h1.6M808.5 395.2h1.6M809.4 395.2h1.6M810.2 395.2h1.6M811 395.2h1.6M811.8 395.2h1.6M812.6 395.2h1.6M813.5 395.2h1.6M814.3 395.2h1.6M815.1 395.2h1.6M815.9 395.2h1.6M816.7 395.2h1.6M817.6 395.2h1.6M818.4 395.2h1.6M819.2 395.2h1.6M820 395.2h1.6M820.8 395.2h1.6M821.7 395.2h1.6M822.5 395.2h1.6M823.3 395.2h1.6M824.1 395.2h1.6M824.9 395.2h1.6M825.8 395.2h1.6M826.6 395.2h1.6M827.4 395.2h1.6M828.2 395.2h1.6M829 395.2h1.6M829.9 395.2h1.6M830.7 395.2h1.6M831.5 395.2h1.6M832.3 395.2h1.6M833.1 395.2h1.6M834 395.2h1.6M834.8 395.2h1.6M835.6 395.2h1.6M836.4 395.2h1.6M837.2 395.2h1.6M838.1 395.2h1.6M838.9 395.2h1.6" fill="none" stroke="#0000ff" stroke-width="1.7"/>
<path d="M473.9 395.2a5.8 5.8 0 1 0 11.5 0a5.8 5.8 0 1 0 -11.5 0M474.7 395.2a5.8 5.8 0 1 0 11.5 0a5.8 5.8 0 1 0 -11.5 0M475.5 395.2a5.8 5.8 0 1 0 11.5 0a5.8 5.8 0 1 0 -11.5 0M476.3 395.2a5.8 5.8 0 1 0 11.5 0a5.8 5.8 0 1 0 -11.5 0M477.1 395.2a5.8 5.8 0 1 0 11.5 0a5.8 5.8 0 1 0 -11.5 0M478 395.2a5.8 5.8 0 1 0 11.5 0a5.8 5.8 0 1 0 -11.5 0M478.8 395.2a5.8 5.8 0 1 0 11.5 0a5.8 5.8 0 1 0 -11.5 0M479.6 395.2a5.8 5.8 0 1 0 11.5 0a5.8 5.8 0 1 0 -11.5 0M480.4 395.2a5.8 5.8 0 1 0 11.5 0a5.8 5.8 0 1 0 -11.5 0M481.2 395.2a5.8 5.8 0 1 0 11.5 0a5.8 5.8 0 1 0 -11.5 0M482.1 395.2a5.8 5.8 0 1 0 11.5 0a5.8 5.8 0 1 0 -11.5 0M482.9 395.2a5.8 5.8 0 1 0 11.5 0a5.8 5.8 0 1 0 -11.5 0M483.7 395.2a5.8 5.8 0 1 0 11.5 0a5.8 5.8 0 1 0 -11.5 0M484.5 395.2a5.8 5.8 0 1 0 11.5 0a5.8 5.8 0 1 0 -11.5 0M485.3 395.2a5.8 5.8 0 1 0 11.5 0a5.8 5.8 0 1 0 -11.5 0M486.2 395.2a5.8 5.8 0 1 0 11.5 0a5.8 5.8 0 1 0 -11.5 0M487 395.2a5.8 5.8 0 1 0 11.5 0a5.8 5.8 0 1 0 -11.5 0M487.8 395.2a5.8 5.8 0 1 0 11.5 0a5.8 5.8 0 1 0 -11.5 0M488.6 395.2a5.8 5.8 0 1 0 11.5 0a5.8 5.8 0 1 0 -11.5 0M489.4 395.2a5.8 5.8 0 1 0 11.5 0a5.8 5.8 0 1 0 -11.5 0M490.3 395.2a5.8 5.8 0 1 0 11.5 0a5.8 5.8 0 1 0 -11.5 0M491.1 395.2a5.8 5.8 0 1 0 11.5 0a5.8 5.8 0 1 0 -11.5 0M491.9 395.2a5.8 5.8 0 1 0 11.5 0a5.8 5.8 0 1 0 -11.5 0M492.7 395.2a5.8 5.8 0 1 0 11.5 0a5.8 5.8 0 1 0 -11.5 0M493.5 395.2a5.8 5.8 0 1 0 11.5 0a5.8 5.8 0 1 0 -11.5 0M494.4 395.2a5.8 5.8 0 1 0 11.5 0a5.8 5.8 0 1 0 -11.5 0M495.2 395.2a5.8 5.8 0 1 0 11.5 0a5.8 5.8 0 1 0 -11.5 0M496 395.2a5.8 5.8 0 1 0 11.5 0a5.8 5.8 0 1 0 -11.5 0M496.8 395.2a5.8 5.8 0 1 0 11.5 0a5.8 5.8 0 1 0 -11.5 0M497.6 395.2a5.8 5.8 0 1 0 11.5 0a5.8 5.8 0 1 0 -11.5 0M498.5 395.2a5.8 5.8 0 1 0 11.5 0a5.8 5.8 0 1 0 -11.5 0M499.3 395.2a5.8 5.8 0 1 0 11.5 0a5.8 5.8 0 1 0 -11.5 0M500.1 395.2a5.8 5.8 0 1 0 11.5 0a5.8 5.8 0 1 0 -11.5 0M500.9 395.2a5.8 5.8 0 1 0 11.5 0a5.8 5.8 0 1 0 -11.5 0M501.7 395.2a5.8 5.8 0 1 0 11.5 0a5.8 5.8 0 1 0 -11.5 0M502.6 395.2a5.8 5.8 0 1 0 11.5 0a5.8 5.8 0 1 0 -11.5 0M503.4 395.2a5.8 5.8 0 1 0 11.5 0a5.8 5.8 0 1 0 -11.5 0M504.2 395.2a5.8 5.8 0 1 0 11.5 0a5.8 5.8 0 1 0 -11.5 0M505 395.2a5.8 5.8 0 1 0 11.5 0a5.8 5.8 0 1 0 -11.5 0M505.8 395.2a5.8 5.8 0 1 0 11.5 0a5.8 5.8 0 1 0 -11.5 0M506.7 395.2a5.8 5.8 0 1 0 11.5 0a5.8 5.8 0 1 0 -11.5 0M507.5 395.2a5.8 5.8 0 1 0 11.5 0a5.8 5.8 0 1 0 -11.5 0M508.3 395.2a5.8 5.8 0 1 0 11.5 0a5.8 5.8 0 1 0 -11.5 0M509.1 395.2a5.8 5.8 0 1 0 11.5 0a5.8 5.8 0 1 0 -11.5 0M509.9 395.2a5.8 5.8 0 1 0 11.5 0a5.8 5.8 0 1 0 -11.5 0M510.8 395.2a5.8 5.8 0 1 0 11.5 0a5.8 5.8 0 1 0 -11.5 0M511.6 395.2a5.8 5.8 0 1 0 11.5 0a5.8 5.8 0 1 0 -11.5 0M512.4 395.2a5.8 5.8 0 1 0 11.5 0a5.8 5.8 0 1 0 -11.5 0M513.2 395.2a5.8 5.8 0 1 0 11.5 0a5.8 5.8 0 1 0 -11.5 0M514 395.2a5.8 5.8 0 1 0 11.5 0a5.8 5.8 0 1 0 -11.5 0M514.9 395.2a5.8 5.8 0 1 0 11.5 0a5.8 5.8 0 1 0 -11.5 0M515.7 395.2a5.8 5.8 0 1 0 11.5 0a5.8 5.8 0 1 0 -11.5 0M516.5 395.2a5.8 5.8 0 1 0 11.5 0a5.8 5.8 0 1 0 -11.5 0M517.3 395.2a5.8 5.8 0 1 0 11.5 0a5.8 5.8 0 1 0 -11.5 0M518.2 395.2a5.8 5.8 0 1 0 11.5 0a5.8 5.8 0 1 0 -11.5 0M519 395.2a5.8 5.8 0 1 0 11.5 0a5.8 5.8 0 1 0 -11.5 0M519.8 395.2a5.8 5.8 0 1 0 11.5 0a5.8 5.8 0 1 0 -11.5 0M520.6 395.2a5.8 5.8 0 1 0 11.5 0a5.8 5.8 0 1 0 -11.5 0M521.4 395.2a5.8 5.8 0 1 0 11.5 0a5.8 5.8 0 1 0 -11.5 0M522.3 395.2a5.8 5.8 0 1 0 11.5 0a5.8 5.8 0 1 0 -11.5 0M523.1 395.2a5.8 5.8 0 1 0 11.5 0a5.8 5.8 0 1 0 -11.5 0M523.9 395.2a5.8 5.8 0 1 0 11.5 0a5.8 5.8 0 1 0 -11.5 0M524.7 395.2a5.8 5.8 0 1 0 11.5 0a5.8 5.8 0 1 0 -11.5 0M525.5 395.2a5.8 5.8 0 1 0 11.5 0a5.8 5.8 0 1 0 -11.5 0M526.4 395.2a5.8 5.8 0 1 0 11.5 0a5.8 5.8 0 1 0 -11.5 0M527.2 395.2a5.8 5.8 0 1 0 11.5 0a5.8 5.8 0 1 0 -11.5 0M528 395.2a5.8 5.8 0 1 0 11.5 0a5.8 5.8 0 1 0 -11.5 0M528.8 395.2a5.8 5.8 0 1 0 11.5 0a5.8 5.8 0 1 0 -11.5 0M529.6 395.2a5.8 5.8 0 1 0 11.5 0a5.8 5.8 0 1 0 -11.5 0M530.5 395.2a5.8 5.8 0 1 0 11.5 0a5.8 5.8 0 1 0 -11.5 0M531.3 395.2a5.8 5.8 0 1 0 11.5 0a5.8 5.8 0 1 0 -11.5 0M532.1 395.2a5.8 5.8 0 1 0 11.5 0a5.8 5.8 0 1 0 -11.5 0M532.9 395.2a5.8 5.8 0 1 0 11.5 0a5.8 5.8 0 1 0 -11.5 0M533.7 395.2a5.8 5.8 0 1 0 11.5 0a5.8 5.8 0 1 0 -11.5 0M534.6 395.2a5.8 5.8 0 1 0 11.5 0a5.8 5.8 0 1 0 -11.5 0M535.4 395.2a5.8 5.8 0 1 0 11.5 0a5.8 5.8 0 1 0 -11.5 0M536.2 395.2a5.8 5.8 0 1 0 11.5 0a5.8 5.8 0 1 0 -11.5 0M537 395.2a5.8 5.8 0 1 0 11.5 0a5.8 5.8 0 1 0 -11.5 0M537.8 395.2a5.8 5.8 0 1 0 11.5 0a5.8 5.8 0 1 0 -11.5 0M538.7 395.2a5.8 5.8 0 1 0 11.5 0a5.8 5.8 0 1 0 -11.5 0M539.5 395.2a5.8 5.8 0 1 0 11.5 0a5.8 5.8 0 1 0 -11.5 0M540.3 395.2a5.8 5.8 0 1 0 11.5 0a5.8 5.8 0 1 0 -11.5 0M541.1 395.2a5.8 5.8 0 1 0 11.5 0a5.8 5.8 0 1 0 -11.5 0M541.9 395.2a5.8 5.8 0 1 0 11.5 0a5.8 5.8 0 1 0 -11.5 0M542.8 395.2a5.8 5.8 0 1 0 11.5 0a5.8 5.8 0 1 0 -11.5 0M543.6 395.2a5.8 5.8 0 1 0 11.5 0a5.8 5.8 0 1 0 -11.5 0M544.4 395.2a5.8 5.8 0 1 0 11.5 0a5.8 5.8 0 1 0 -11.5 0M545.2 395.2a5.8 5.8 0 1 0 11.5 0a5.8 5.8 0 1 0 -11.5 0M546 395.2a5.8 5.8 0 1 0 11.5 0a5.8 5.8 0 1 0 -11.5 0M546.9 395.2a5.8 5.8 0 1 0 11.5 0a5.8 5.8 0 1 0 -11.5 0M547.7 395.2a5.8 5.8 0 1 0 11.5 0a5.8 5.8 0 1 0 -11.5 0M548.5 395.2a5.8 5.8 0 1 0 11.5 0a5.8 5.8 0 1 0 -11.5 0M549.3 395.2a5.8 5.8 0 1 0 11.5 0a5.8 5.8 0 1 0 -11.5 0M550.1 395.2a5.8 5.8 0 1 0 11.5 0a5.8 5.8 0 1 0 -11.5 0M551 395.2a5.8 5.8 0 1 0 11.5 0a5.8 5.8 0 1 0 -11.5 0M551.8 395.2a5.8 5.8 0 1 0 11.5 0a5.8 5.8 0 1 0 -11.5 0M552.6 395.2a5.8 5.8 0 1 0 11.5 0a5.8 5.8 0 1 0 -11.5 0M553.4 395.2a5.8 5.8 0 1 0 11.5 0a5.8 5.8 0 1 0 -11.5 0M554.2 395.2a5.8 5.8 0 1 0 11.5 0a5.8 5.8 0 1 0 -11.5 0M555.1 395.2a5.8 5.8 0 1 0 11.5 0a5.8 5.8 0 1 0 -11.5 0M555.9 395.2a5.8 5.8 0 1 0 11.5 0a5.8 5.8 0 1 0 -11.5 0M556.7 395.2a5.8 5.8 0 1 0 11.5 0a5.8 5.8 0 1 0 -11.5 0M557.5 395.2a5.8 5.8 0 1 0 11.5 0a5.8 5.8 0 1 0 -11.5 0M558.3 395.2a5.8 5.8 0 1 0 11.5 0a5.8 5.8 0 1 0 -11.5 0M559.2 395.2a5.8 5.8 0 1 0 11.5 0a5.8 5.8 0 1 0 -11.5 0M560 395.2a5.8 5.8 0 1 0 11.5 0a5.8 5.8 0 1 0 -11.5 0M560.8 395.2a5.8 5.8 0 1 0 11.5 0a5.8 5.8 0 1 0 -11.5 0M561.6 395.2a5.8 5.8 0 1 0 11.5 0a5.8 5.8 0 1 0 -11.5 0M562.4 395.2a5.8 5.8 0 1 0 11.5 0a5.8 5.8 0 1 0 -11.5 0M563.3 395.2a5.8 5.8 0 1 0 11.5 0a5.8 5.8 0 1 0 -11.5 0M564.1 395.2a5.8 5.8 0 1 0 11.5 0a5.8 5.8 0 1 0 -11.5 0M564.9 395.2a5.8 5.8 0 1 0 11.5 0a5.8 5.8 0 1 0 -11.5 0M565.7 395.2a5.8 5.8 0 1 0 11.5 0a5.8 5.8 0 1 0 -11.5 0M566.5 395.2a5.8 5.8 0 1 0 11.5 0a5.8 5.8 0 1 0 -11.5 0M567.4 395.2a5.8 5.8 0 1 0 11.5 0a5.8 5.8 0 1 0 -11.5 0M568.2 395.2a5.8 5.8 0 1 0 11.5 0a5.8 5.8 0 1 0 -11.5 0M569 395.2a5.8 5.8 0 1 0 11.5 0a5.8 5.8 0 1 0 -11.5 0M569.8 395.2a5.8 5.8 0 1 0 11.5 0a5.8 5.8 0 1 0 -11.5 0M570.6 395.2a5.8 5.8 0 1 0 11.5 0a5.8 5.8 0 1 0 -11.5 0M571.5 395.2a5.8 5.8 0 1 0 11.5 0a5.8 5.8 0 1 0 -11.5 0M572.3 395.2a5.8 5.8 0 1 0 11.5 0a5.8 5.8 0 1 0 -11.5 0M573.1 395.2a5.8 5.8 0 1 0 11.5 0a5.8 5.8 0 1 0 -11.5 0M573.9 395.2a5.8 5.8 0 1 0 11.5 0a5.8 5.8 0 1 0 -11.5 0M574.7 395.2a5.8 5.8 0 1 0 11.5 0a5.8 5.8 0 1 0 -11.5 0M575.6 395.2a5.8 5.8 0 1 0 11.5 0a5.8 5.8 0 1 0 -11.5 0M576.4 395.2a5.8 5.8 0 1 0 11.5 0a5.8 5.8 0 1 0 -11.5 0M577.2 395.2a5.8 5.8 0 1 0 11.5 0a5.8 5.8 0 1 0 -11.5 0M578 395.2a5.8 5.8 0 1 0 11.5 0a5.8 5.8 0 1 0 -11.5 0M578.8 395.2a5.8 5.8 0 1 0 11.5 0a5.8 5.8 0 1 0 -11.5 0M579.7 395.2a5.8 5.8 0 1 0 11.5 0a5.8 5.8 0 1 0 -11.5 0M580.5 395.2a5.8 5.8 0 1 0 11.5 0a5.8 5.8 0 1 0 -11.5 0M581.3 395.2a5.8 5.8 0 1 0 11.5 0a5.8 5.8 0 1 0 -11.5 0M582.1 395.2a5.8 5.8 0 1 0 11.5 0a5.8 5.8 0 1 0 -11.5 0M582.9 395.2a5.8 5.8 0 1 0 11.5 0a5.8 5.8 0 1 0 -11.5 0M583.8 395.2a5.8 5.8 0 1 0 11.5 0a5.8 5.8 0 1 0 -11.5 0M584.6 395.2a5.8 5.8 0 1 0 11.5 0a5.8 5.8 0 1 0 -11.5 0M585.4 395.2a5.8 5.8 0 1 0 11.5 0a5.8 5.8 0 1 0 -11.5 0M586.2 395.2a5.8 5.8 0 1 0 11.5 0a5.8 5.8 0 1 0 -11.5 0M587 395.2a5.8 5.8 0 1 0 11.5 0a5.8 5.8 0 1 0 -11.5 0M587.9 395.2a5.8 5.8 0 1 0 11.5 0a5.8 5.8 0 1 0 -11.5 0M588.7 395.2a5.8 5.8 0 1 0 11.5 0a5.8 5.8 0 1 0 -11.5 0M589.5 395.2a5.8 5.8 0 1 0 11.5 0a5.8 5.8 0 1 0 -11.5 0M590.3 395.2a5.8 5.8 0 1 0 11.5 0a5.8 5.8 0 1 0 -11.5 0M591.1 395.2a5.8 5.8 0 1 0 11.5 0a5.8 5.8 0 1 0 -11.5 0M592 395.2a5.8 5.8 0 1 0 11.5 0a5.8 5.8 0 1 0 -11.5 0M592.8 395.2a5.8 5.8 0 1 0 11.5 0a5.8 5.8 0 1 0 -11.5 0M593.6 395.2a5.8 5.8 0 1 0 11.5 0a5.8 5.8 0 1 0 -11.5 0M594.4 395.2a5.8 5.8 0 1 0 11.5 0a5.8 5.8 0 1 0 -11.5 0M595.2 395.2a5.8 5.8 0 1 0 11.5 0a5.8 5.8 0 1 0 -11.5 0M596.1 395.2a5.8 5.8 0 1 0 11.5 0a5.8 5.8 0 1 0 -11.5 0M596.9 395.1a5.8 5.8 0 1 0 11.5 0a5.8 5.8 0 1 0 -11.5 0M597.7 394.9a5.8 5.8 0 1 0 11.5 0a5.8 5.8 0 1 0 -11.5 0M598.5 394.7a5.8 5.8 0 1 0 11.5 0a5.8 5.8 0 1 0 -11.5 0M599.4 394.4a5.8 5.8 0 1 0 11.5 0a5.8 5.8 0 1 0 -11.5 0M600.2 394.2a5.8 5.8 0 1 0 11.5 0a5.8 5.8 0 1 0 -11.5 0M601 394.2a5.8 5.8 0 1 0 11.5 0a5.8 5.8 0 1 0 -11.5 0M601.8 393.5a5.8 5.8 0 1 0 11.5 0a5.8 5.8 0 1 0 -11.5 0M602.6 393.1a5.8 5.8 0 1 0 11.5 0a5.8 5.8 0 1 0 -11.5 0M603.5 391.9a5.8 5.8 0 1 0 11.5 0a5.8 5.8 0 1 0 -11.5 0M604.3 391.3a5.8 5.8 0 1 0 11.5 0a5.8 5.8 0 1 0 -11.5 0M605.1 389.9a5.8 5.8 0 1 0 11.5 0a5.8 5.8 0 1 0 -11.5 0M605.9 388.2a5.8 5.8 0 1 0 11.5 0a5.8 5.8 0 1 0 -11.5 0M606.7 387.6a5.8 5.8 0 1 0 11.5 0a5.8 5.8 0 1 0 -11.5 0M607.6 386.4a5.8 5.8 0 1 0 11.5 0a5.8 5.8 0 1 0 -11.5 0M608.4 384.8a5.8 5.8 0 1 0 11.5 0a5.8 5.8 0 1 0 -11.5 0M609.2 383.7a5.8 5.8 0 1 0 11.5 0a5.8 5.8 0 1 0 -11.5 0M610 381.8a5.8 5.8 0 1 0 11.5 0a5.8 5.8 0 1 0 -11.5 0M610.8 380.3a5.8 5.8 0 1 0 11.5 0a5.8 5.8 0 1 0 -11.5 0M611.7 377.8a5.8 5.8 0 1 0 11.5 0a5.8 5.8 0 1 0 -11.5 0M612.5 376a5.8 5.8 0 1 0 11.5 0a5.8 5.8 0 1 0 -11.5 0M613.3 373.1a5.8 5.8 0 1 0 11.5 0a5.8 5.8 0 1 0 -11.5 0M614.1 369.9a5.8 5.8 0 1 0 11.5 0a5.8 5.8 0 1 0 -11.5 0M614.9 366.9a5.8 5.8 0 1 0 11.5 0a5.8 5.8 0 1 0 -11.5 0M615.8 364.2a5.8 5.8 0 1 0 11.5 0a5.8 5.8 0 1 0 -11.5 0M616.6 360.5a5.8 5.8 0 1 0 11.5 0a5.8 5.8 0 1 0 -11.5 0M617.4 356.3a5.8 5.8 0 1 0 11.5 0a5.8 5.8 0 1 0 -11.5 0M618.2 352a5.8 5.8 0 1 0 11.5 0a5.8 5.8 0 1 0 -11.5 0M619 347.1a5.8 5.8 0 1 0 11.5 0a5.8 5.8 0 1 0 -11.5 0M619.9 343a5.8 5.8 0 1 0 11.5 0a5.8 5.8 0 1 0 -11.5 0M620.7 338.2a5.8 5.8 0 1 0 11.5 0a5.8 5.8 0 1 0 -11.5 0M621.5 332.4a5.8 5.8 0 1 0 11.5 0a5.8 5.8 0 1 0 -11.5 0M622.3 323.5a5.8 5.8 0 1 0 11.5 0a5.8 5.8 0 1 0 -11.5 0M623.1 320.4a5.8 5.8 0 1 0 11.5 0a5.8 5.8 0 1 0 -11.5 0M624 313.6a5.8 5.8 0 1 0 11.5 0a5.8 5.8 0 1 0 -11.5 0M624.8 308.1a5.8 5.8 0 1 0 11.5 0a5.8 5.8 0 1 0 -11.5 0M625.6 297.8a5.8 5.8 0 1 0 11.5 0a5.8 5.8 0 1 0 -11.5 0M626.4 287.4a5.8 5.8 0 1 0 11.5 0a5.8 5.8 0 1 0 -11.5 0M627.2 285a5.8 5.8 0 1 0 11.5 0a5.8 5.8 0 1 0 -11.5 0M628.1 279.3a5.8 5.8 0 1 0 11.5 0a5.8 5.8 0 1 0 -11.5 0M628.9 274.4a5.8 5.8 0 1 0 11.5 0a5.8 5.8 0 1 0 -11.5 0M629.7 270a5.8 5.8 0 1 0 11.5 0a5.8 5.8 0 1 0 -11.5 0M630.5 268.3a5.8 5.8 0 1 0 11.5 0a5.8 5.8 0 1 0 -11.5 0M631.3 268.6a5.8 5.8 0 1 0 11.5 0a5.8 5.8 0 1 0 -11.5 0M632.2 272.4a5.8 5.8 0 1 0 11.5 0a5.8 5.8 0 1 0 -11.5 0M633 274.4a5.8 5.8 0 1 0 11.5 0a5.8 5.8 0 1 0 -11.5 0M633.8 277.3a5.8 5.8 0 1 0 11.5 0a5.8 5.8 0 1 0 -11.5 0M634.6 281.7a5.8 5.8 0 1 0 11.5 0a5.8 5.8 0 1 0 -11.5 0M635.4 288.3a5.8 5.8 0 1 0 11.5 0a5.8 5.8 0 1 0 -11.5 0M636.3 296.7a5.8 5.8 0 1 0 11.5 0a5.8 5.8 0 1 0 -11.5 0M637.1 306.7a5.8 5.8 0 1 0 11.5 0a5.8 5.8 0 1 0 -11.5 0M637.9 314.8a5.8 5.8 0 1 0 11.5 0a5.8 5.8 0 1 0 -11.5 0M638.7 325.5a5.8 5.8 0 1 0 11.5 0a5.8 5.8 0 1 0 -11.5 0M639.5 335.2a5.8 5.8 0 1 0 11.5 0a5.8 5.8 0 1 0 -11.5 0M640.4 343.3a5.8 5.8 0 1 0 11.5 0a5.8 5.8 0 1 0 -11.5 0M641.2 350a5.8 5.8 0 1 0 11.5 0a5.8 5.8 0 1 0 -11.5 0M642 359.2a5.8 5.8 0 1 0 11.5 0a5.8 5.8 0 1 0 -11.5 0M642.8 364.2a5.8 5.8 0 1 0 11.5 0a5.8 5.8 0 1 0 -11.5 0M643.6 369.5a5.8 5.8 0 1 0 11.5 0a5.8 5.8 0 1 0 -11.5 0M644.5 373.3a5.8 5.8 0 1 0 11.5 0a5.8 5.8 0 1 0 -11.5 0M645.3 377.8a5.8 5.8 0 1 0 11.5 0a5.8 5.8 0 1 0 -11.5 0M646.1 381.4a5.8 5.8 0 1 0 11.5 0a5.8 5.8 0 1 0 -11.5 0M646.9 385.8a5.8 5.8 0 1 0 11.5 0a5.8 5.8 0 1 0 -11.5 0M647.7 388.8a5.8 5.8 0 1 0 11.5 0a5.8 5.8 0 1 0 -11.5 0M648.6 391.5a5.8 5.8 0 1 0 11.5 0a5.8 5.8 0 1 0 -11.5 0M649.4 393.2a5.8 5.8 0 1 0 11.5 0a5.8 5.8 0 1 0 -11.5 0M650.2 394.3a5.8 5.8 0 1 0 11.5 0a5.8 5.8 0 1 0 -11.5 0M651 395.1a5.8 5.8 0 1 0 11.5 0a5.8 5.8 0 1 0 -11.5 0M651.8 395.2a5.8 5.8 0 1 0 11.5 0a5.8 5.8 0 1 0 -11.5 0M652.7 395.2a5.8 5.8 0 1 0 11.5 0a5.8 5.8 0 1 0 -11.5 0M653.5 395.2a5.8 5.8 0 1 0 11.5 0a5.8 5.8 0 1 0 -11.5 0M654.3 395.2a5.8 5.8 0 1 0 11.5 0a5.8 5.8 0 1 0 -11.5 0M655.1 395.2a5.8 5.8 0 1 0 11.5 0a5.8 5.8 0 1 0 -11.5 0M655.9 395.2a5.8 5.8 0 1 0 11.5 0a5.8 5.8 0 1 0 -11.5 0M656.8 395.2a5.8 5.8 0 1 0 11.5 0a5.8 5.8 0 1 0 -11.5 0M657.6 395.2a5.8 5.8 0 1 0 11.5 0a5.8 5.8 0 1 0 -11.5 0M658.4 395.2a5.8 5.8 0 1 0 11.5 0a5.8 5.8 0 1 0 -11.5 0M659.2 395.2a5.8 5.8 0 1 0 11.5 0a5.8 5.8 0 1 0 -11.5 0M660 395.2a5.8 5.8 0 1 0 11.5 0a5.8 5.8 0 1 0 -11.5 0M660.9 395.2a5.8 5.8 0 1 0 11.5 0a5.8 5.8 0 1 0 -11.5 0M661.7 395.2a5.8 5.8 0 1 0 11.5 0a5.8 5.8 0 1 0 -11.5 0M662.5 395.2a5.8 5.8 0 1 0 11.5 0a5.8 5.8 0 1 0 -11.5 0M663.3 395.2a5.8 5.8 0 1 0 11.5 0a5.8 5.8 0 1 0 -11.5 0M664.1 395.2a5.8 5.8 0 1 0 11.5 0a5.8 5.8 0 1 0 -11.5 0M665 395.2a5.8 5.8 0 1 0 11.5 0a5.8 5.8 0 1 0 -11.5 0M665.8 395.2a5.8 5.8 0 1 0 11.5 0a5.8 5.8 0 1 0 -11.5 0M666.6 395.2a5.8 5.8 0 1 0 11.5 0a5.8 5.8 0 1 0 -11.5 0M667.4 395.2a5.8 5.8 0 1 0 11.5 0a5.8 5.8 0 1 0 -11.5 0M668.2 395.2a5.8 5.8 0 1 0 11.5 0a5.8 5.8 0 1 0 -11.5 0M669.1 395.2a5.8 5.8 0 1 0 11.5 0a5.8 5.8 0 1 0 -11.5 0M669.9 395.2a5.8 5.8 0 1 0 11.5 0a5.8 5.8 0 1 0 -11.5 0M670.7 395.2a5.8 5.8 0 1 0 11.5 0a5.8 5.8 0 1 0 -11.5 0M671.5 395.2a5.8 5.8 0 1 0 11.5 0a5.8 5.8 0 1 0 -11.5 0M672.3 395.2a5.8 5.8 0 1 0 11.5 0a5.8 5.8 0 1 0 -11.5 0M673.2 395.2a5.8 5.8 0 1 0 11.5 0a5.8 5.8 0 1 0 -11.5 0M674 395.2a5.8 5.8 0 1 0 11.5 0a5.8 5.8 0 1 0 -11.5 0M674.8 395.2a5.8 5.8 0 1 0 11.5 0a5.8 5.8 0 1 0 -11.5 0M675.6 395.2a5.8 5.8 0 1 0 11.5 0a5.8 5.8 0 1 0 -11.5 0M676.4 395.2a5.8 5.8 0 1 0 11.5 0a5.8 5.8 0 1 0 -11.5 0M677.3 395.2a5.8 5.8 0 1 0 11.5 0a5.8 5.8 0 1 0 -11.5 0M678.1 395.2a5.8 5.8 0 1 0 11.5 0a5.8 5.8 0 1 0 -11.5 0M678.9 395.2a5.8 5.8 0 1 0 11.5 0a5.8 5.8 0 1 0 -11.5 0M679.7 395.2a5.8 5.8 0 1 0 11.5 0a5.8 5.8 0 1 0 -11.5 0M680.6 395.2a5.8 5.8 0 1 0 11.5 0a5.8 5.8 0 1 0 -11.5 0M681.4 395.2a5.8 5.8 0 1 0 11.5 0a5.8 5.8 0 1 0 -11.5 0M682.2 395.2a5.8 5.8 0 1 0 11.5 0a5.8 5.8 0 1 0 -11.5 0M683 395.2a5.8 5.8 0 1 0 11.5 0a5.8 5.8 0 1 0 -11.5 0M683.8 395.2a5.8 5.8 0 1 0 11.5 0a5.8 5.8 0 1 0 -11.5 0M684.7 395.2a5.8 5.8 0 1 0 11.5 0a5.8 5.8 0 1 0 -11.5 0M685.5 395.2a5.8 5.8 0 1 0 11.5 0a5.8 5.8 0 1 0 -11.5 0M686.3 395.2a5.8 5.8 0 1 0 11.5 0a5.8 5.8 0 1 0 -11.5 0M687.1 395.2a5.8 5.8 0 1 0 11.5 0a5.8 5.8 0 1 0 -11.5 0M687.9 395.2a5.8 5.8 0 1 0 11.5 0a5.8 5.8 0 1 0 -11.5 0M688.8 395.2a5.8 5.8 0 1 0 11.5 0a5.8 5.8 0 1 0 -11.5 0M689.6 395.2a5.8 5.8 0 1 0 11.5 0a5.8 5.8 0 1 0 -11.5 0M690.4 395.2a5.8 5.8 0 1 0 11.5 0a5.8 5.8 0 1 0 -11.5 0M691.2 395.2a5.8 5.8 0 1 0 11.5 0a5.8 5.8 0 1 0 -11.5 0M692 395.2a5.8 5.8 0 1 0 11.5 0a5.8 5.8 0 1 0 -11.5 0M692.9 395.2a5.8 5.8 0 1 0 11.5 0a5.8 5.8 0 1 0 -11.5 0M693.7 395.2a5.8 5.8 0 1 0 11.5 0a5.8 5.8 0 1 0 -11.5 0M694.5 395.2a5.8 5.8 0 1 0 11.5 0a5.8 5.8 0 1 0 -11.5 0M695.3 395.2a5.8 5.8 0 1 0 11.5 0a5.8 5.8 0 1 0 -11.5 0M696.1 395.2a5.8 5.8 0 1 0 11.5 0a5.8 5.8 0 1 0 -11.5 0M697 395.2a5.8 5.8 0 1 0 11.5 0a5.8 5.8 0 1 0 -11.5 0M697.8 395.2a5.8 5.8 0 1 0 11.5 0a5.8 5.8 0 1 0 -11.5 0M698.6 395.2a5.8 5.8 0 1 0 11.5 0a5.8 5.8 0 1 0 -11.5 0M699.4 395.2a5.8 5.8 0 1 0 11.5 0a5.8 5.8 0 1 0 -11.5 0M700.2 395.2a5.8 5.8 0 1 0 11.5 0a5.8 5.8 0 1 0 -11.5 0M701.1 395.2a5.8 5.8 0 1 0 11.5 0a5.8 5.8 0 1 0 -11.5 0M701.9 395.2a5.8 5.8 0 1 0 11.5 0a5.8 5.8 0 1 0 -11.5 0M702.7 395.2a5.8 5.8 0 1 0 11.5 0a5.8 5.8 0 1 0 -11.5 0M703.5 395.2a5.8 5.8 0 1 0 11.5 0a5.8 5.8 0 1 0 -11.5 0M704.3 395.2a5.8 5.8 0 1 0 11.5 0a5.8 5.8 0 1 0 -11.5 0M705.2 395.2a5.8 5.8 0 1 0 11.5 0a5.8 5.8 0 1 0 -11.5 0M706 395.2a5.8 5.8 0 1 0 11.5 0a5.8 5.8 0 1 0 -11.5 0M706.8 395.2a5.8 5.8 0 1 0 11.5 0a5.8 5.8 0 1 0 -11.5 0M707.6 395.2a5.8 5.8 0 1 0 11.5 0a5.8 5.8 0 1 0 -11.5 0M708.4 395.2a5.8 5.8 0 1 0 11.5 0a5.8 5.8 0 1 0 -11.5 0M709.3 395.2a5.8 5.8 0 1 0 11.5 0a5.8 5.8 0 1 0 -11.5 0M710.1 395.2a5.8 5.8 0 1 0 11.5 0a5.8 5.8 0 1 0 -11.5 0M710.9 395.2a5.8 5.8 0 1 0 11.5 0a5.8 5.8 0 1 0 -11.5 0M711.7 395.2a5.8 5.8 0 1 0 11.5 0a5.8 5.8 0 1 0 -11.5 0M712.5 395.2a5.8 5.8 0 1 0 11.5 0a5.8 5.8 0 1 0 -11.5 0M713.4 395.2a5.8 5.8 0 1 0 11.5 0a5.8 5.8 0 1 0 -11.5 0M714.2 395.2a5.8 5.8 0 1 0 11.5 0a5.8 5.8 0 1 0 -11.5 0M715 395.2a5.8 5.8 0 1 0 11.5 0a5.8 5.8 0 1 0 -11.5 0M715.8 395.2a5.8 5.8 0 1 0 11.5 0a5.8 5.8 0 1 0 -11.5 0M716.6 395.2a5.8 5.8 0 1 0 11.5 0a5.8 5.8 0 1 0 -11.5 0M717.5 395.2a5.8 5.8 0 1 0 11.5 0a5.8 5.8 0 1 0 -11.5 0M718.3 395.2a5.8 5.8 0 1 0 11.5 0a5.8 5.8 0 1 0 -11.5 0M719.1 395.2a5.8 5.8 0 1 0 11.5 0a5.8 5.8 0 1 0 -11.5 0M719.9 395.2a5.8 5.8 0 1 0 11.5 0a5.8 5.8 0 1 0 -11.5 0M720.7 395.2a5.8 5.8 0 1 0 11.5 0a5.8 5.8 0 1 0 -11.5 0M721.6 395.2a5.8 5.8 0 1 0 11.5 0a5.8 5.8 0 1 0 -11.5 0M722.4 395.2a5.8 5.8 0 1 0 11.5 0a5.8 5.8 0 1 0 -11.5 0M723.2 395.2a5.8 5.8 0 1 0 11.5 0a5.8 5.8 0 1 0 -11.5 0M724 395.2a5.8 5.8 0 1 0 11.5 0a5.8 5.8 0 1 0 -11.5 0M724.8 395.2a5.8 5.8 0 1 0 11.5 0a5.8 5.8 0 1 0 -11.5 0M725.7 395.2a5.8 5.8 0 1 0 11.5 0a5.8 5.8 0 1 0 -11.5 0M726.5 395.2a5.8 5.8 0 1 0 11.5 0a5.8 5.8 0 1 0 -11.5 0M727.3 395.2a5.8 5.8 0 1 0 11.5 0a5.8 5.8 0 1 0 -11.5 0M728.1 395.2a5.8 5.8 0 1 0 11.5 0a5.8 5.8 0 1 0 -11.5 0M728.9 395.2a5.8 5.8 0 1 0 11.5 0a5.8 5.8 0 1 0 -11.5 0M729.8 395.2a5.8 5.8 0 1 0 11.5 0a5.8 5.8 0 1 0 -11.5 0M730.6 395.2a5.8 5.8 0 1 0 11.5 0a5.8 5.8 0 1 0 -11.5 0M731.4 395.2a5.8 5.8 0 1 0 11.5 0a5.8 5.8 0 1 0 -11.5 0M732.2 395.2a5.8 5.8 0 1 0 11.5 0a5.8 5.8 0 1 0 -11.5 0M733 395.2a5.8 5.8 0 1 0 11.5 0a5.8 5.8 0 1 0 -11.5 0M733.9 395.2a5.8 5.8 0 1 0 11.5 0a5.8 5.8 0 1 0 -11.5 0M734.7 395.2a5.8 5.8 0 1 0 11.5 0a5.8 5.8 0 1 0 -11.5 0M735.5 395.2a5.8 5.8 0 1 0 11.5 0a5.8 5.8 0 1 0 -11.5 0M736.3 395.2a5.8 5.8 0 1 0 11.5 0a5.8 5.8 0 1 0 -11.5 0M737.1 395.2a5.8 5.8 0 1 0 11.5 0a5.8 5.8 0 1 0 -11.5 0M738 395.2a5.8 5.8 0 1 0 11.5 0a5.8 5.8 0 1 0 -11.5 0M738.8 395.2a5.8 5.8 0 1 0 11.5 0a5.8 5.8 0 1 0 -11.5 0M739.6 395.2a5.8 5.8 0 1 0 11.5 0a5.8 5.8 0 1 0 -11.5 0M740.4 395.2a5.8 5.8 0 1 0 11.5 0a5.8 5.8 0 1 0 -11.5 0M741.2 395.2a5.8 5.8 0 1 0 11.5 0a5.8 5.8 0 1 0 -11.5 0M742.1 395.2a5.8 5.8 0 1 0 11.5 0a5.8 5.8 0 1 0 -11.5 0M742.9 395.2a5.8 5.8 0 1 0 11.5 0a5.8 5.8 0 1 0 -11.5 0M743.7 395.2a5.8 5.8 0 1 0 11.5 0a5.8 5.8 0 1 0 -11.5 0M744.5 395.2a5.8 5.8 0 1 0 11.5 0a5.8 5.8 0 1 0 -11.5 0M745.3 395.2a5.8 5.8 0 1 0 11.5 0a5.8 5.8 0 1 0 -11.5 0M746.2 395.2a5.8 5.8 0 1 0 11.5 0a5.8 5.8 0 1 0 -11.5 0M747 395.2a5.8 5.8 0 1 0 11.5 0a5.8 5.8 0 1 0 -11.5 0M747.8 395.2a5.8 5.8 0 1 0 11.5 0a5.8 5.8 0 1 0 -11.5 0M748.6 395.2a5.8 5.8 0 1 0 11.5 0a5.8 5.8 0 1 0 -11.5 0M749.4 395.2a5.8 5.8 0 1 0 11.5 0a5.8 5.8 0 1 0 -11.5 0M750.3 395.2a5.8 5.8 0 1 0 11.5 0a5.8 5.8 0 1 0 -11.5 0M751.1 395.2a5.8 5.8 0 1 0 11.5 0a5.8 5.8 0 1 0 -11.5 0M751.9 395.2a5.8 5.8 0 1 0 11.5 0a5.8 5.8 0 1 0 -11.5 0M752.7 395.2a5.8 5.8 0 1 0 11.5 0a5.8 5.8 0 1 0 -11.5 0M753.5 395.2a5.8 5.8 0 1 0 11.5 0a5.8 5.8 0 1 0 -11.5 0M754.4 395.2a5.8 5.8 0 1 0 11.5 0a5.8 5.8 0 1 0 -11.5 0M755.2 395.2a5.8 5.8 0 1 0 11.5 0a5.8 5.8 0 1 0 -11.5 0M756 395.2a5.8 5.8 0 1 0 11.5 0a5.8 5.8 0 1 0 -11.5 0M756.8 395.2a5.8 5.8 0 1 0 11.5 0a5.8 5.8 0 1 0 -11.5 0M757.6 395.2a5.8 5.8 0 1 0 11.5 0a5.8 5.8 0 1 0 -11.5 0M758.5 395.2a5.8 5.8 0 1 0 11.5 0a5.8 5.8 0 1 0 -11.5 0M759.3 395.2a5.8 5.8 0 1 0 11.5 0a5.8 5.8 0 1 0 -11.5 0M760.1 395.2a5.8 5.8 0 1 0 11.5 0a5.8 5.8 0 1 0 -11.5 0M760.9 395.2a5.8 5.8 0 1 0 11.5 0a5.8 5.8 0 1 0 -11.5 0M761.8 395.2a5.8 5.8 0 1 0 11.5 0a5.8 5.8 0 1 0 -11.5 0M762.6 395.2a5.8 5.8 0 1 0 11.5 0a5.8 5.8 0 1 0 -11.5 0M763.4 395.2a5.8 5.8 0 1 0 11.5 0a5.8 5.8 0 1 0 -11.5 0M764.2 395.2a5.8 5.8 0 1 0 11.5 0a5.8 5.8 0 1 0 -11.5 0M765 395.2a5.8 5.8 0 1 0 11.5 0a5.8 5.8 0 1 0 -11.5 0M765.9 395.2a5.8 5.8 0 1 0 11.5 0a5.8 5.8 0 1 0 -11.5 0M766.7 395.2a5.8 5.8 0 1 0 11.5 0a5.8 5.8 0 1 0 -11.5 0M767.5 395.2a5.8 5.8 0 1 0 11.5 0a5.8 5.8 0 1 0 -11.5 0M768.3 395.2a5.8 5.8 0 1 0 11.5 0a5.8 5.8 0 1 0 -11.5 0M769.1 395.2a5.8 5.8 0 1 0 11.5 0a5.8 5.8 0 1 0 -11.5 0M770 395.2a5.8 5.8 0 1 0 11.5 0a5.8 5.8 0 1 0 -11.5 0M770.8 395.2a5.8 5.8 0 1 0 11.5 0a5.8 5.8 0 1 0 -11.5 0M771.6 395.2a5.8 5.8 0 1 0 11.5 0a5.8 5.8 0 1 0 -11.5 0M772.4 395.2a5.8 5.8 0 1 0 11.5 0a5.8 5.8 0 1 0 -11.5 0M773.2 395.2a5.8 5.8 0 1 0 11.5 0a5.8 5.8 0 1 0 -11.5 0M774.1 395.2a5.8 5.8 0 1 0 11.5 0a5.8 5.8 0 1 0 -11.5 0M774.9 395.2a5.8 5.8 0 1 0 11.5 0a5.8 5.8 0 1 0 -11.5 0M775.7 395.2a5.8 5.8 0 1 0 11.5 0a5.8 5.8 0 1 0 -11.5 0M776.5 395.2a5.8 5.8 0 1 0 11.5 0a5.8 5.8 0 1 0 -11.5 0M777.3 395.2a5.8 5.8 0 1 0 11.5 0a5.8 5.8 0 1 0 -11.5 0M778.2 395.2a5.8 5.8 0 1 0 11.5 0a5.8 5.8 0 1 0 -11.5 0M779 395.2a5.8 5.8 0 1 0 11.5 0a5.8 5.8 0 1 0 -11.5 0M779.8 395.2a5.8 5.8 0 1 0 11.5 0a5.8 5.8 0 1 0 -11.5 0M780.6 395.2a5.8 5.8 0 1 0 11.5 0a5.8 5.8 0 1 0 -11.5 0M781.4 395.2a5.8 5.8 0 1 0 11.5 0a5.8 5.8 0 1 0 -11.5 0M782.3 395.2a5.8 5.8 0 1 0 11.5 0a5.8 5.8 0 1 0 -11.5 0M783.1 395.2a5.8 5.8 0 1 0 11.5 0a5.8 5.8 0 1 0 -11.5 0M783.9 395.2a5.8 5.8 0 1 0 11.5 0a5.8 5.8 0 1 0 -11.5 0M784.7 395.2a5.8 5.8 0 1 0 11.5 0a5.8 5.8 0 1 0 -11.5 0M785.5 395.2a5.8 5.8 0 1 0 11.5 0a5.8 5.8 0 1 0 -11.5 0M786.4 395.2a5.8 5.8 0 1 0 11.5 0a5.8 5.8 0 1 0 -11.5 0M787.2 395.2a5.8 5.8 0 1 0 11.5 0a5.8 5.8 0 1 0 -11.5 0M788 395.2a5.8 5.8 0 1 0 11.5 0a5.8 5.8 0 1 0 -11.5 0M788.8 395.2a5.8 5.8 0 1 0 11.5 0a5.8 5.8 0 1 0 -11.5 0M789.6 395.2a5.8 5.8 0 1 0 11.5 0a5.8 5.8 0 1 0 -11.5 0M790.5 395.2a5.8 5.8 0 1 0 11.5 0a5.8 5.8 0 1 0 -11.5 0M791.3 395.2a5.8 5.8 0 1 0 11.5 0a5.8 5.8 0 1 0 -11.5 0M792.1 395.2a5.8 5.8 0 1 0 11.5 0a5.8 5.8 0 1 0 -11.5 0M792.9 395.2a5.8 5.8 0 1 0 11.5 0a5.8 5.8 0 1 0 -11.5 0M793.7 395.2a5.8 5.8 0 1 0 11.5 0a5.8 5.8 0 1 0 -11.5 0M794.6 395.2a5.8 5.8 0 1 0 11.5 0a5.8 5.8 0 1 0 -11.5 0M795.4 395.2a5.8 5.8 0 1 0 11.5 0a5.8 5.8 0 1 0 -11.5 0M796.2 395.2a5.8 5.8 0 1 0 11.5 0a5.8 5.8 0 1 0 -11.5 0M797 395.2a5.8 5.8 0 1 0 11.5 0a5.8 5.8 0 1 0 -11.5 0M797.8 395.2a5.8 5.8 0 1 0 11.5 0a5.8 5.8 0 1 0 -11.5 0M798.7 395.2a5.8 5.8 0 1 0 11.5 0a5.8 5.8 0 1 0 -11.5 0M799.5 395.2a5.8 5.8 0 1 0 11.5 0a5.8 5.8 0 1 0 -11.5 0M800.3 395.2a5.8 5.8 0 1 0 11.5 0a5.8 5.8 0 1 0 -11.5 0M801.1 395.2a5.8 5.8 0 1 0 11.5 0a5.8 5.8 0 1 0 -11.5 0M801.9 395.2a5.8 5.8 0 1 0 11.5 0a5.8 5.8 0 1 0 -11.5 0M802.8 395.2a5.8 5.8 0 1 0 11.5 0a5.8 5.8 0 1 0 -11.5 0M803.6 395.2a5.8 5.8 0 1 0 11.5 0a5.8 5.8 0 1 0 -11.5 0M804.4 395.2a5.8 5.8 0 1 0 11.5 0a5.8 5.8 0 1 0 -11.5 0M805.2 395.2a5.8 5.8 0 1 0 11.5 0a5.8 5.8 0 1 0 -11.5 0M806 395.2a5.8 5.8 0 1 0 11.5 0a5.8 5.8 0 1 0 -11.5 0M806.9 395.2a5.8 5.8 0 1 0 11.5 0a5.8 5.8 0 1 0 -11.5 0M807.7 395.2a5.8 5.8 0 1 0 11.5 0a5.8 5.8 0 1 0 -11.5 0M808.5 395.2a5.8 5.8 0 1 0 11.5 0a5.8 5.8 0 1 0 -11.5 0M809.3 395.2a5.8 5.8 0 1 0 11.5 0a5.8 5.8 0 1 0 -11.5 0M810.1 395.2a5.8 5.8 0 1 0 11.5 0a5.8 5.8 0 1 0 -11.5 0M811 395.2a5.8 5.8 0 1 0 11.5 0a5.8 5.8 0 1 0 -11.5 0M811.8 395.2a5.8 5.8 0 1 0 11.5 0a5.8 5.8 0 1 0 -11.5 0M812.6 395.2a5.8 5.8 0 1 0 11.5 0a5.8 5.8 0 1 0 -11.5 0M813.4 395.2a5.8 5.8 0 1 0 11.5 0a5.8 5.8 0 1 0 -11.5 0M814.2 395.2a5.8 5.8 0 1 0 11.5 0a5.8 5.8 0 1 0 -11.5 0M815.1 395.2a5.8 5.8 0 1 0 11.5 0a5.8 5.8 0 1 0 -11.5 0M815.9 395.2a5.8 5.8 0 1 0 11.5 0a5.8 5.8 0 1 0 -11.5 0M816.7 395.2a5.8 5.8 0 1 0 11.5 0a5.8 5.8 0 1 0 -11.5 0M817.5 395.2a5.8 5.8 0 1 0 11.5 0a5.8 5.8 0 1 0 -11.5 0M818.3 395.2a5.8 5.8 0 1 0 11.5 0a5.8 5.8 0 1 0 -11.5 0M819.2 395.2a5.8 5.8 0 1 0 11.5 0a5.8 5.8 0 1 0 -11.5 0M820 395.2a5.8 5.8 0 1 0 11.5 0a5.8 5.8 0 1 0 -11.5 0M820.8 395.2a5.8 5.8 0 1 0 11.5 0a5.8 5.8 0 1 0 -11.5 0M821.6 395.2a5.8 5.8 0 1 0 11.5 0a5.8 5.8 0 1 0 -11.5 0M822.4 395.2a5.8 5.8 0 1 0 11.5 0a5.8 5.8 0 1 0 -11.5 0M823.3 395.2a5.8 5.8 0 1 0 11.5 0a5.8 5.8 0 1 0 -11.5 0M824.1 395.2a5.8 5.8 0 1 0 11.5 0a5.8 5.8 0 1 0 -11.5 0M824.9 395.2a5.8 5.8 0 1 0 11.5 0a5.8 5.8 0 1 0 -11.5 0M825.7 395.2a5.8 5.8 0 1 0 11.5 0a5.8 5.8 0 1 0 -11.5 0M826.5 395.2a5.8 5.8 0 1 0 11.5 0a5.8 5.8 0 1 0 -11.5 0M827.4 395.2a5.8 5.8 0 1 0 11.5 0a5.8 5.8 0 1 0 -11.5 0M828.2 395.2a5.8 5.8 0 1 0 11.5 0a5.8 5.8 0 1 0 -11.5 0M829 395.2a5.8 5.8 0 1 0 11.5 0a5.8 5.8 0 1 0 -11.5 0M829.8 395.2a5.8 5.8 0 1 0 11.5 0a5.8 5.8 0 1 0 -11.5 0M830.6 395.2a5.8 5.8 0 1 0 11.5 0a5.8 5.8 0 1 0 -11.5 0M831.5 395.2a5.8 5.8 0 1 0 11.5 0a5.8 5.8 0 1 0 -11.5 0M832.3 395.2a5.8 5.8 0 1 0 11.5 0a5.8 5.8 0 1 0 -11.5 0M833.1 395.2a5.8 5.8 0 1 0 11.5 0a5.8 5.8 0 1 0 -11.5 0M833.9 395.2a5.8 5.8 0 1 0 11.5 0a5.8 5.8 0 1 0 -11.5 0" fill="none" stroke="#ff0000" stroke-width="1.65" stroke-linejoin="miter"/>
<path d="M478.8 395.2h1.6M479.6 395.2h1.6M480.5 395.2h1.6M481.3 395.2h1.6M482.1 395.2h1.6M482.9 395.2h1.6M483.7 395.2h1.6M484.6 395.2h1.6M485.4 395.2h1.6M486.2 395.2h1.6M487 395.2h1.6M487.8 395.2h1.6M488.7 395.2h1.6M489.5 395.2h1.6M490.3 395.2h1.6M491.1 395.2h1.6M491.9 395.2h1.6M492.8 395.2h1.6M493.6 395.2h1.6M494.4 395.2h1.6M495.2 395.2h1.6M496 395.2h1.6M496.9 395.2h1.6M497.7 395.2h1.6M498.5 395.2h1.6M499.3 395.2h1.6M500.1 395.2h1.6M501 395.2h1.6M501.8 395.2h1.6M502.6 395.2h1.6M503.4 395.2h1.6M504.2 395.2h1.6M505.1 395.2h1.6M505.9 395.2h1.6M506.7 395.2h1.6M507.5 395.2h1.6M508.3 395.2h1.6M509.2 395.2h1.6M510 395.2h1.6M510.8 395.2h1.6M511.6 395.2h1.6M512.4 395.2h1.6M513.3 395.2h1.6M514.1 395.2h1.6M514.9 395.2h1.6M515.7 395.2h1.6M516.5 395.2h1.6M517.4 395.2h1.6M518.2 395.2h1.6M519 395.2h1.6M519.8 395.2h1.6M520.6 395.2h1.6M521.5 395.2h1.6M522.3 395.2h1.6M523.1 395.2h1.6M523.9 395.2h1.6M524.7 395.2h1.6M525.6 395.2h1.6M526.4 395.2h1.6M527.2 395.2h1.6M528 395.2h1.6M528.8 395.2h1.6M529.7 395.2h1.6M530.5 395.2h1.6M531.3 395.2h1.6M532.1 395.2h1.6M532.9 395.2h1.6M533.8 395.2h1.6M534.6 395.2h1.6M535.4 395.2h1.6M536.2 395.2h1.6M537 395.2h1.6M537.9 395.2h1.6M538.7 395.2h1.6M539.5 395.2h1.6M540.3 395.2h1.6M541.1 395.2h1.6M542 395.2h1.6M542.8 395.2h1.6M543.6 395.2h1.6M544.4 395.2h1.6M545.2 395.2h1.6M546.1 395.2h1.6M546.9 395.2h1.6M547.7 395.2h1.6M548.5 395.2h1.6M549.3 395.2h1.6M550.2 395.2h1.6M551 395.2h1.6M551.8 395.2h1.6M552.6 395.2h1.6M553.4 395.2h1.6M554.3 395.2h1.6M555.1 395.2h1.6M555.9 395.2h1.6M556.7 395.2h1.6M557.5 395.2h1.6M558.4 395.2h1.6M559.2 395.2h1.6M560 395.2h1.6M560.8 395.2h1.6M561.7 395.2h1.6M562.5 395.2h1.6M563.3 395.2h1.6M564.1 395.2h1.6M564.9 395.2h1.6M565.8 395.2h1.6M566.6 395.2h1.6M567.4 395.2h1.6M568.2 395.2h1.6M569 395.2h1.6M569.9 395.2h1.6M570.7 395.2h1.6M571.5 395.2h1.6M572.3 395.2h1.6M573.1 395.2h1.6M574 395.2h1.6M574.8 395.2h1.6M575.6 395.2h1.6M576.4 395.2h1.6M577.2 395.2h1.6M578.1 395.2h1.6M578.9 395.2h1.6M579.7 395.2h1.6M580.5 395.2h1.6M581.3 395.2h1.6M582.2 395.2h1.6M583 395.2h1.6M583.8 395.2h1.6M584.6 395.2h1.6M585.4 395.2h1.6M586.3 395.2h1.6M587.1 395.2h1.6M587.9 395.2h1.6M588.7 395.2h1.6M589.5 395.2h1.6M590.4 395.2h1.6M591.2 395.2h1.6M592 395.2h1.6M592.8 395.2h1.6M593.6 395.2h1.6M594.5 395.2h1.6M595.3 395.2h1.6M596.1 395.2h1.6M596.9 395.2h1.6M597.7 395.2h1.6M598.6 395.2h1.6M599.4 395.2h1.6M600.2 395.2h1.6M601 395.2h1.6M601.8 395.1h1.6M602.7 394.9h1.6M603.5 394.7h1.6M604.3 394.4h1.6M605.1 394.2h1.6M605.9 394.2h1.6M606.8 393.5h1.6M607.6 393.1h1.6M608.4 391.9h1.6M609.2 391.3h1.6M610 389.9h1.6M610.9 388.2h1.6M611.7 387.6h1.6M612.5 386.4h1.6M613.3 384.8h1.6M614.1 383.7h1.6M615 381.8h1.6M615.8 380.3h1.6M616.6 377.8h1.6M617.4 376h1.6M618.2 373.1h1.6M619.1 369.9h1.6M619.9 366.9h1.6M620.7 364.2h1.6M621.5 360.5h1.6M622.3 356.3h1.6M623.2 352h1.6M624 347.1h1.6M624.8 343h1.6M625.6 338.2h1.6M626.4 332.4h1.6M627.3 323.5h1.6M628.1 320.4h1.6M628.9 313.6h1.6M629.7 308.1h1.6M630.5 297.8h1.6M631.4 287.4h1.6M632.2 285h1.6M633 279.3h1.6M633.8 274.4h1.6M634.6 270h1.6M635.5 268.3h1.6M636.3 268.6h1.6M637.1 272.4h1.6M637.9 274.4h1.6M638.7 277.3h1.6M639.6 281.7h1.6M640.4 288.3h1.6M641.2 296.7h1.6M642 306.7h1.6M642.9 314.8h1.6M643.7 325.5h1.6M644.5 335.2h1.6M645.3 343.3h1.6M646.1 350h1.6M647 359.2h1.6M647.8 364.2h1.6M648.6 369.5h1.6M649.4 373.3h1.6M650.2 377.8h1.6M651.1 381.4h1.6M651.9 385.8h1.6M652.7 388.8h1.6M653.5 391.5h1.6M654.3 393.2h1.6M655.2 394.3h1.6M656 395.1h1.6M656.8 395.2h1.6M657.6 395.2h1.6M658.4 395.2h1.6M659.3 395.2h1.6M660.1 395.2h1.6M660.9 395.2h1.6M661.7 395.2h1.6M662.5 395.2h1.6M663.4 395.2h1.6M664.2 395.2h1.6M665 395.2h1.6M665.8 395.2h1.6M666.6 395.2h1.6M667.5 395.2h1.6M668.3 395.2h1.6M669.1 395.2h1.6M669.9 395.2h1.6M670.7 395.2h1.6M671.6 395.2h1.6M672.4 395.2h1.6M673.2 395.2h1.6M674 395.2h1.6M674.8 395.2h1.6M675.7 395.2h1.6M676.5 395.2h1.6M677.3 395.2h1.6M678.1 395.2h1.6M678.9 395.2h1.6M679.8 395.2h1.6M680.6 395.2h1.6M681.4 395.2h1.6M682.2 395.2h1.6M683 395.2h1.6M683.9 395.2h1.6M684.7 395.2h1.6M685.5 395.2h1.6M686.3 395.2h1.6M687.1 395.2h1.6M688 395.2h1.6M688.8 395.2h1.6M689.6 395.2h1.6M690.4 395.2h1.6M691.2 395.2h1.6M692.1 395.2h1.6M692.9 395.2h1.6M693.7 395.2h1.6M694.5 395.2h1.6M695.3 395.2h1.6M696.2 395.2h1.6M697 395.2h1.6M697.8 395.2h1.6M698.6 395.2h1.6M699.4 395.2h1.6M700.3 395.2h1.6M701.1 395.2h1.6M701.9 395.2h1.6M702.7 395.2h1.6M703.5 395.2h1.6M704.4 395.2h1.6M705.2 395.2h1.6M706 395.2h1.6M706.8 395.2h1.6M707.6 395.2h1.6M708.5 395.2h1.6M709.3 395.2h1.6M710.1 395.2h1.6M710.9 395.2h1.6M711.7 395.2h1.6M712.6 395.2h1.6M713.4 395.2h1.6M714.2 395.2h1.6M715 395.2h1.6M715.8 395.2h1.6M716.7 395.2h1.6M717.5 395.2h1.6M718.3 395.2h1.6M719.1 395.2h1.6M719.9 395.2h1.6M720.8 395.2h1.6M721.6 395.2h1.6M722.4 395.2h1.6M723.2 395.2h1.6M724 395.2h1.6M724.9 395.2h1.6M725.7 395.2h1.6M726.5 395.2h1.6M727.3 395.2h1.6M728.2 395.2h1.6M729 395.2h1.6M729.8 395.2h1.6M730.6 395.2h1.6M731.4 395.2h1.6M732.3 395.2h1.6M733.1 395.2h1.6M733.9 395.2h1.6M734.7 395.2h1.6M735.5 395.2h1.6M736.4 395.2h1.6M737.2 395.2h1.6M738 395.2h1.6M738.8 395.2h1.6M739.6 395.2h1.6M740.5 395.2h1.6M741.3 395.2h1.6M742.1 395.2h1.6M742.9 395.2h1.6M743.7 395.2h1.6M744.6 395.2h1.6M745.4 395.2h1.6M746.2 395.2h1.6M747 395.2h1.6M747.8 395.2h1.6M748.7 395.2h1.6M749.5 395.2h1.6M750.3 395.2h1.6M751.1 395.2h1.6M751.9 395.2h1.6M752.8 395.2h1.6M753.6 395.2h1.6M754.4 395.2h1.6M755.2 395.2h1.6M756 395.2h1.6M756.9 395.2h1.6M757.7 395.2h1.6M758.5 395.2h1.6M759.3 395.2h1.6M760.1 395.2h1.6M761 395.2h1.6M761.8 395.2h1.6M762.6 395.2h1.6M763.4 395.2h1.6M764.2 395.2h1.6M765.1 395.2h1.6M765.9 395.2h1.6M766.7 395.2h1.6M767.5 395.2h1.6M768.3 395.2h1.6M769.2 395.2h1.6M770 395.2h1.6M770.8 395.2h1.6M771.6 395.2h1.6M772.4 395.2h1.6M773.3 395.2h1.6M774.1 395.2h1.6M774.9 395.2h1.6M775.7 395.2h1.6M776.5 395.2h1.6M777.4 395.2h1.6M778.2 395.2h1.6M779 395.2h1.6M779.8 395.2h1.6M780.6 395.2h1.6M781.5 395.2h1.6M782.3 395.2h1.6M783.1 395.2h1.6M783.9 395.2h1.6M784.7 395.2h1.6M785.6 395.2h1.6M786.4 395.2h1.6M787.2 395.2h1.6M788 395.2h1.6M788.8 395.2h1.6M789.7 395.2h1.6M790.5 395.2h1.6M791.3 395.2h1.6M792.1 395.2h1.6M792.9 395.2h1.6M793.8 395.2h1.6M794.6 395.2h1.6M795.4 395.2h1.6M796.2 395.2h1.6M797 395.2h1.6M797.9 395.2h1.6M798.7 395.2h1.6M799.5 395.2h1.6M800.3 395.2h1.6M801.1 395.2h1.6M802 395.2h1.6M802.8 395.2h1.6M803.6 395.2h1.6M804.4 395.2h1.6M805.2 395.2h1.6M806.1 395.2h1.6M806.9 395.2h1.6M807.7 395.2h1.6M808.5 395.2h1.6M809.4 395.2h1.6M810.2 395.2h1.6M811 395.2h1.6M811.8 395.2h1.6M812.6 395.2h1.6M813.5 395.2h1.6M814.3 395.2h1.6M815.1 395.2h1.6M815.9 395.2h1.6M816.7 395.2h1.6M817.6 395.2h1.6M818.4 395.2h1.6M819.2 395.2h1.6M820 395.2h1.6M820.8 395.2h1.6M821.7 395.2h1.6M822.5 395.2h1.6M823.3 395.2h1.6M824.1 395.2h1.6M824.9 395.2h1.6M825.8 395.2h1.6M826.6 395.2h1.6M827.4 395.2h1.6M828.2 395.2h1.6M829 395.2h1.6M829.9 395.2h1.6M830.7 395.2h1.6M831.5 395.2h1.6M832.3 395.2h1.6M833.1 395.2h1.6M834 395.2h1.6M834.8 395.2h1.6M835.6 395.2h1.6M836.4 395.2h1.6M837.2 395.2h1.6M838.1 395.2h1.6M838.9 395.2h1.6" fill="none" stroke="#ff0000" stroke-width="1.7"/>
<path d="M479.6 388.6l6 9.9h-12zM480.4 388.6l6 9.9h-12zM481.3 388.6l6 9.9h-12zM482.1 388.6l6 9.9h-12zM482.9 388.6l6 9.9h-12zM483.7 388.6l6 9.9h-12zM484.5 388.6l6 9.9h-12zM485.4 388.6l6 9.9h-12zM486.2 388.6l6 9.9h-12zM487 388.6l6 9.9h-12zM487.8 388.6l6 9.9h-12zM488.6 388.6l6 9.9h-12zM489.5 388.6l6 9.9h-12zM490.3 388.6l6 9.9h-12zM491.1 388.6l6 9.9h-12zM491.9 388.6l6 9.9h-12zM492.7 388.6l6 9.9h-12zM493.6 388.6l6 9.9h-12zM494.4 388.6l6 9.9h-12zM495.2 388.6l6 9.9h-12zM496 388.6l6 9.9h-12zM496.8 388.6l6 9.9h-12zM497.7 388.6l6 9.9h-12zM498.5 388.6l6 9.9h-12zM499.3 388.6l6 9.9h-12zM500.1 388.6l6 9.9h-12zM500.9 388.6l6 9.9h-12zM501.8 388.6l6 9.9h-12zM502.6 388.6l6 9.9h-12zM503.4 388.6l6 9.9h-12zM504.2 388.6l6 9.9h-12zM505 388.6l6 9.9h-12zM505.9 388.6l6 9.9h-12zM506.7 388.6l6 9.9h-12zM507.5 388.6l6 9.9h-12zM508.3 388.6l6 9.9h-12zM509.1 388.6l6 9.9h-12zM510 388.6l6 9.9h-12zM510.8 388.6l6 9.9h-12zM511.6 388.6l6 9.9h-12zM512.4 388.6l6 9.9h-12zM513.2 388.6l6 9.9h-12zM514.1 388.6l6 9.9h-12zM514.9 388.6l6 9.9h-12zM515.7 388.6l6 9.9h-12zM516.5 388.6l6 9.9h-12zM517.3 388.6l6 9.9h-12zM518.2 388.6l6 9.9h-12zM519 388.6l6 9.9h-12zM519.8 388.6l6 9.9h-12zM520.6 388.6l6 9.9h-12zM521.4 388.6l6 9.9h-12zM522.3 388.6l6 9.9h-12zM523.1 388.6l6 9.9h-12zM523.9 388.6l6 9.9h-12zM524.7 388.6l6 9.9h-12zM525.5 388.6l6 9.9h-12zM526.4 388.6l6 9.9h-12zM527.2 388.6l6 9.9h-12zM528 388.6l6 9.9h-12zM528.8 388.6l6 9.9h-12zM529.6 388.6l6 9.9h-12zM530.5 388.6l6 9.9h-12zM531.3 388.6l6 9.9h-12zM532.1 388.6l6 9.9h-12zM532.9 388.6l6 9.9h-12zM533.7 388.6l6 9.9h-12zM534.6 388.6l6 9.9h-12zM535.4 388.6l6 9.9h-12zM536.2 388.6l6 9.9h-12zM537 388.6l6 9.9h-12zM537.8 388.6l6 9.9h-12zM538.7 388.6l6 9.9h-12zM539.5 388.6l6 9.9h-12zM540.3 388.6l6 9.9h-12zM541.1 388.6l6 9.9h-12zM541.9 388.6l6 9.9h-12zM542.8 388.6l6 9.9h-12zM543.6 388.6l6 9.9h-12zM544.4 388.6l6 9.9h-12zM545.2 388.6l6 9.9h-12zM546 388.6l6 9.9h-12zM546.9 388.6l6 9.9h-12zM547.7 388.6l6 9.9h-12zM548.5 388.6l6 9.9h-12zM549.3 388.6l6 9.9h-12zM550.1 388.6l6 9.9h-12zM551 388.6l6 9.9h-12zM551.8 388.6l6 9.9h-12zM552.6 388.6l6 9.9h-12zM553.4 388.6l6 9.9h-12zM554.2 388.6l6 9.9h-12zM555.1 388.6l6 9.9h-12zM555.9 388.6l6 9.9h-12zM556.7 388.6l6 9.9h-12zM557.5 388.6l6 9.9h-12zM558.3 388.6l6 9.9h-12zM559.2 388.6l6 9.9h-12zM560 388.6l6 9.9h-12zM560.8 388.6l6 9.9h-12zM561.6 388.6l6 9.9h-12zM562.5 388.6l6 9.9h-12zM563.3 388.6l6 9.9h-12zM564.1 388.6l6 9.9h-12zM564.9 388.6l6 9.9h-12zM565.7 388.6l6 9.9h-12zM566.6 388.6l6 9.9h-12zM567.4 388.6l6 9.9h-12zM568.2 388.6l6 9.9h-12zM569 388.6l6 9.9h-12zM569.8 388.6l6 9.9h-12zM570.7 388.6l6 9.9h-12zM571.5 388.6l6 9.9h-12zM572.3 388.6l6 9.9h-12zM573.1 388.6l6 9.9h-12zM573.9 388.6l6 9.9h-12zM574.8 388.6l6 9.9h-12zM575.6 388.6l6 9.9h-12zM576.4 388.6l6 9.9h-12zM577.2 388.6l6 9.9h-12zM578 388.6l6 9.9h-12zM578.9 388.6l6 9.9h-12zM579.7 388.6l6 9.9h-12zM580.5 388.6l6 9.9h-12zM581.3 388.6l6 9.9h-12zM582.1 388.6l6 9.9h-12zM583 388.6l6 9.9h-12zM583.8 388.6l6 9.9h-12zM584.6 388.6l6 9.9h-12zM585.4 388.6l6 9.9h-12zM586.2 388.6l6 9.9h-12zM587.1 388.6l6 9.9h-12zM587.9 388.6l6 9.9h-12zM588.7 388.6l6 9.9h-12zM589.5 388.6l6 9.9h-12zM590.3 388.6l6 9.9h-12zM591.2 388.6l6 9.9h-12zM592 388.6l6 9.9h-12zM592.8 388.6l6 9.9h-12zM593.6 388.6l6 9.9h-12zM594.4 388.6l6 9.9h-12zM595.3 388.6l6 9.9h-12zM596.1 388.6l6 9.9h-12zM596.9 388.6l6 9.9h-12zM597.7 388.6l6 9.9h-12zM598.5 388.6l6 9.9h-12zM599.4 388.6l6 9.9h-12zM600.2 388.6l6 9.9h-12zM601 388.6l6 9.9h-12zM601.8 388.6l6 9.9h-12zM602.6 388.6l6 9.9h-12zM603.5 388.6l6 9.9h-12zM604.3 388.6l6 9.9h-12zM605.1 388.6l6 9.9h-12zM605.9 388.6l6 9.9h-12zM606.7 388.6l6 9.9h-12zM607.6 388.6l6 9.9h-12zM608.4 388.6l6 9.9h-12zM609.2 388.6l6 9.9h-12zM610 388.6l6 9.9h-12zM610.8 388.6l6 9.9h-12zM611.7 388.6l6 9.9h-12zM612.5 388.6l6 9.9h-12zM613.3 388.6l6 9.9h-12zM614.1 388.6l6 9.9h-12zM614.9 388.6l6 9.9h-12zM615.8 388.6l6 9.9h-12zM616.6 388.6l6 9.9h-12zM617.4 388.6l6 9.9h-12zM618.2 388.6l6 9.9h-12zM619 388.6l6 9.9h-12zM619.9 388.6l6 9.9h-12zM620.7 388.6l6 9.9h-12zM621.5 388.6l6 9.9h-12zM622.3 388.6l6 9.9h-12zM623.1 388.6l6 9.9h-12zM624 388.6l6 9.9h-12zM624.8 388.6l6 9.9h-12zM625.6 388.6l6 9.9h-12zM626.4 388.6l6 9.9h-12zM627.2 388.6l6 9.9h-12zM628.1 388.6l6 9.9h-12zM628.9 388.6l6 9.9h-12zM629.7 388.6l6 9.9h-12zM630.5 388.6l6 9.9h-12zM631.3 388.6l6 9.9h-12zM632.2 388.6l6 9.9h-12zM633 388.6l6 9.9h-12zM633.8 388.6l6 9.9h-12zM634.6 388.6l6 9.9h-12zM635.4 388.6l6 9.9h-12zM636.3 388.6l6 9.9h-12zM637.1 388.6l6 9.9h-12zM637.9 388.6l6 9.9h-12zM638.7 388.6l6 9.9h-12zM639.5 388.6l6 9.9h-12zM640.4 388.6l6 9.9h-12zM641.2 388.6l6 9.9h-12zM642 388.6l6 9.9h-12zM642.8 388.6l6 9.9h-12zM643.7 388.6l6 9.9h-12zM644.5 388.6l6 9.9h-12zM645.3 388.6l6 9.9h-12zM646.1 388.6l6 9.9h-12zM646.9 388.6l6 9.9h-12zM647.8 388.6l6 9.9h-12zM648.6 388.6l6 9.9h-12zM649.4 388.6l6 9.9h-12zM650.2 388.6l6 9.9h-12zM651 388.6l6 9.9h-12zM651.9 388.6l6 9.9h-12zM652.7 388.6l6 9.9h-12zM653.5 388.6l6 9.9h-12zM654.3 388.6l6 9.9h-12zM655.1 388.6l6 9.9h-12zM656 388.6l6 9.9h-12zM656.8 388.6l6 9.9h-12zM657.6 388.6l6 9.9h-12zM658.4 388.6l6 9.9h-12zM659.2 388.5l6 9.9h-12zM660.1 388.5l6 9.9h-12zM660.9 388.5l6 9.9h-12zM661.7 388.4l6 9.9h-12zM662.5 388.3l6 9.9h-12zM663.3 388.3l6 9.9h-12zM664.2 388.3l6 9.9h-12zM665 388.3l6 9.9h-12zM665.8 388.1l6 9.9h-12zM666.6 388.3l6 9.9h-12zM667.4 388.2l6 9.9h-12zM668.3 388l6 9.9h-12zM669.1 388l6 9.9h-12zM669.9 388l6 9.9h-12zM670.7 388l6 9.9h-12zM671.5 388l6 9.9h-12zM672.4 387.9l6 9.9h-12zM673.2 387.8l6 9.9h-12zM674 387.4l6 9.9h-12zM674.8 387.5l6 9.9h-12zM675.6 387l6 9.9h-12zM676.5 386.9l6 9.9h-12zM677.3 386.5l6 9.9h-12zM678.1 386l6 9.9h-12zM678.9 386.1l6 9.9h-12zM679.7 385.7l6 9.9h-12zM680.6 385.2l6 9.9h-12zM681.4 385.2l6 9.9h-12zM682.2 384.5l6 9.9h-12zM683 383.7l6 9.9h-12zM683.8 383.5l6 9.9h-12zM684.7 382.7l6 9.9h-12zM685.5 382.3l6 9.9h-12zM686.3 381.4l6 9.9h-12zM687.1 380.3l6 9.9h-12zM687.9 379.5l6 9.9h-12zM688.8 378.2l6 9.9h-12zM689.6 377.1l6 9.9h-12zM690.4 375.2l6 9.9h-12zM691.2 373.5l6 9.9h-12zM692 372.6l6 9.9h-12zM692.9 371.1l6 9.9h-12zM693.7 369.6l6 9.9h-12zM694.5 368.3l6 9.9h-12zM695.3 366.7l6 9.9h-12zM696.1 366.6l6 9.9h-12zM697 363.6l6 9.9h-12zM697.8 361.6l6 9.9h-12zM698.6 359.2l6 9.9h-12zM699.4 358.6l6 9.9h-12zM700.2 355.7l6 9.9h-12zM701.1 351.8l6 9.9h-12zM701.9 349l6 9.9h-12zM702.7 346.6l6 9.9h-12zM703.5 343.5l6 9.9h-12zM704.3 340l6 9.9h-12zM705.2 336.6l6 9.9h-12zM706 335.4l6 9.9h-12zM706.8 331.5l6 9.9h-12zM707.6 329l6 9.9h-12zM708.4 326.7l6 9.9h-12zM709.3 324.9l6 9.9h-12zM710.1 326.6l6 9.9h-12zM710.9 328.4l6 9.9h-12zM711.7 328.8l6 9.9h-12zM712.5 330.5l6 9.9h-12zM713.4 333.3l6 9.9h-12zM714.2 333.9l6 9.9h-12zM715 336l6 9.9h-12zM715.8 340.2l6 9.9h-12zM716.6 343.9l6 9.9h-12zM717.5 344.6l6 9.9h-12zM718.3 349.1l6 9.9h-12zM719.1 353.4l6 9.9h-12zM719.9 355l6 9.9h-12zM720.7 359.2l6 9.9h-12zM721.6 362.7l6 9.9h-12zM722.4 366.4l6 9.9h-12zM723.2 368.3l6 9.9h-12zM724 371.9l6 9.9h-12zM724.8 375.3l6 9.9h-12zM725.7 378.4l6 9.9h-12zM726.5 381.1l6 9.9h-12zM727.3 383.5l6 9.9h-12zM728.1 385.5l6 9.9h-12zM729 386.6l6 9.9h-12zM729.8 387.7l6 9.9h-12zM730.6 388l6 9.9h-12zM731.4 388.4l6 9.9h-12zM732.2 388.6l6 9.9h-12zM733.1 388.6l6 9.9h-12zM733.9 388.6l6 9.9h-12zM734.7 388.6l6 9.9h-12zM735.5 388.6l6 9.9h-12zM736.3 388.6l6 9.9h-12zM737.2 388.6l6 9.9h-12zM738 388.6l6 9.9h-12zM738.8 388.6l6 9.9h-12zM739.6 388.6l6 9.9h-12zM740.4 388.6l6 9.9h-12zM741.3 388.6l6 9.9h-12zM742.1 388.6l6 9.9h-12zM742.9 388.6l6 9.9h-12zM743.7 388.6l6 9.9h-12zM744.5 388.6l6 9.9h-12zM745.4 388.6l6 9.9h-12zM746.2 388.6l6 9.9h-12zM747 388.6l6 9.9h-12zM747.8 388.6l6 9.9h-12zM748.6 388.6l6 9.9h-12zM749.5 388.6l6 9.9h-12zM750.3 388.6l6 9.9h-12zM751.1 388.6l6 9.9h-12zM751.9 388.6l6 9.9h-12zM752.7 388.6l6 9.9h-12zM753.6 388.6l6 9.9h-12zM754.4 388.6l6 9.9h-12zM755.2 388.6l6 9.9h-12zM756 388.6l6 9.9h-12zM756.8 388.6l6 9.9h-12zM757.7 388.6l6 9.9h-12zM758.5 388.6l6 9.9h-12zM759.3 388.6l6 9.9h-12zM760.1 388.6l6 9.9h-12zM760.9 388.6l6 9.9h-12zM761.8 388.6l6 9.9h-12zM762.6 388.6l6 9.9h-12zM763.4 388.6l6 9.9h-12zM764.2 388.6l6 9.9h-12zM765 388.6l6 9.9h-12zM765.9 388.6l6 9.9h-12zM766.7 388.6l6 9.9h-12zM767.5 388.6l6 9.9h-12zM768.3 388.6l6 9.9h-12zM769.1 388.6l6 9.9h-12zM770 388.6l6 9.9h-12zM770.8 388.6l6 9.9h-12zM771.6 388.6l6 9.9h-12zM772.4 388.6l6 9.9h-12zM773.2 388.6l6 9.9h-12zM774.1 388.6l6 9.9h-12zM774.9 388.6l6 9.9h-12zM775.7 388.6l6 9.9h-12zM776.5 388.6l6 9.9h-12zM777.3 388.6l6 9.9h-12zM778.2 388.6l6 9.9h-12zM779 388.6l6 9.9h-12zM779.8 388.6l6 9.9h-12zM780.6 388.6l6 9.9h-12zM781.4 388.6l6 9.9h-12zM782.3 388.6l6 9.9h-12zM783.1 388.6l6 9.9h-12zM783.9 388.6l6 9.9h-12zM784.7 388.6l6 9.9h-12zM785.5 388.6l6 9.9h-12zM786.4 388.6l6 9.9h-12zM787.2 388.6l6 9.9h-12zM788 388.6l6 9.9h-12zM788.8 388.6l6 9.9h-12zM789.6 388.6l6 9.9h-12zM790.5 388.6l6 9.9h-12zM791.3 388.6l6 9.9h-12zM792.1 388.6l6 9.9h-12zM792.9 388.6l6 9.9h-12zM793.7 388.6l6 9.9h-12zM794.6 388.6l6 9.9h-12zM795.4 388.6l6 9.9h-12zM796.2 388.6l6 9.9h-12zM797 388.6l6 9.9h-12zM797.8 388.6l6 9.9h-12zM798.7 388.6l6 9.9h-12zM799.5 388.6l6 9.9h-12zM800.3 388.6l6 9.9h-12zM801.1 388.6l6 9.9h-12zM801.9 388.6l6 9.9h-12zM802.8 388.6l6 9.9h-12zM803.6 388.6l6 9.9h-12zM804.4 388.6l6 9.9h-12zM805.2 388.6l6 9.9h-12zM806 388.6l6 9.9h-12zM806.9 388.6l6 9.9h-12zM807.7 388.6l6 9.9h-12zM808.5 388.6l6 9.9h-12zM809.3 388.6l6 9.9h-12zM810.2 388.6l6 9.9h-12zM811 388.6l6 9.9h-12zM811.8 388.6l6 9.9h-12zM812.6 388.6l6 9.9h-12zM813.4 388.6l6 9.9h-12zM814.3 388.6l6 9.9h-12zM815.1 388.6l6 9.9h-12zM815.9 388.6l6 9.9h-12zM816.7 388.6l6 9.9h-12zM817.5 388.6l6 9.9h-12zM818.4 388.6l6 9.9h-12zM819.2 388.6l6 9.9h-12zM820 388.6l6 9.9h-12zM820.8 388.6l6 9.9h-12zM821.6 388.6l6 9.9h-12zM822.5 388.6l6 9.9h-12zM823.3 388.6l6 9.9h-12zM824.1 388.6l6 9.9h-12zM824.9 388.6l6 9.9h-12zM825.7 388.6l6 9.9h-12zM826.6 388.6l6 9.9h-12zM827.4 388.6l6 9.9h-12zM828.2 388.6l6 9.9h-12zM829 388.6l6 9.9h-12zM829.8 388.6l6 9.9h-12zM830.7 388.6l6 9.9h-12zM831.5 388.6l6 9.9h-12zM832.3 388.6l6 9.9h-12zM833.1 388.6l6 9.9h-12zM833.9 388.6l6 9.9h-12zM834.8 388.6l6 9.9h-12zM835.6 388.6l6 9.9h-12zM836.4 388.6l6 9.9h-12zM837.2 388.6l6 9.9h-12zM838 388.6l6 9.9h-12zM838.9 388.6l6 9.9h-12zM839.7 388.6l6 9.9h-12zM840.5 388.6l6 9.9h-12zM841.3 388.6l6 9.9h-12zM842.1 388.6l6 9.9h-12zM843 388.6l6 9.9h-12zM843.8 388.6l6 9.9h-12zM844.6 388.6l6 9.9h-12zM845.4 388.6l6 9.9h-12zM846.2 388.6l6 9.9h-12zM847.1 388.6l6 9.9h-12zM847.9 388.6l6 9.9h-12z" fill="none" stroke="#00ff00" stroke-width="1.65" stroke-linejoin="miter"/>
<path d="M478.8 395.2h1.6M479.6 395.2h1.6M480.5 395.2h1.6M481.3 395.2h1.6M482.1 395.2h1.6M482.9 395.2h1.6M483.7 395.2h1.6M484.6 395.2h1.6M485.4 395.2h1.6M486.2 395.2h1.6M487 395.2h1.6M487.8 395.2h1.6M488.7 395.2h1.6M489.5 395.2h1.6M490.3 395.2h1.6M491.1 395.2h1.6M491.9 395.2h1.6M492.8 395.2h1.6M493.6 395.2h1.6M494.4 395.2h1.6M495.2 395.2h1.6M496 395.2h1.6M496.9 395.2h1.6M497.7 395.2h1.6M498.5 395.2h1.6M499.3 395.2h1.6M500.1 395.2h1.6M501 395.2h1.6M501.8 395.2h1.6M502.6 395.2h1.6M503.4 395.2h1.6M504.2 395.2h1.6M505.1 395.2h1.6M505.9 395.2h1.6M506.7 395.2h1.6M507.5 395.2h1.6M508.3 395.2h1.6M509.2 395.2h1.6M510 395.2h1.6M510.8 395.2h1.6M511.6 395.2h1.6M512.4 395.2h1.6M513.3 395.2h1.6M514.1 395.2h1.6M514.9 395.2h1.6M515.7 395.2h1.6M516.5 395.2h1.6M517.4 395.2h1.6M518.2 395.2h1.6M519 395.2h1.6M519.8 395.2h1.6M520.6 395.2h1.6M521.5 395.2h1.6M522.3 395.2h1.6M523.1 395.2h1.6M523.9 395.2h1.6M524.7 395.2h1.6M525.6 395.2h1.6M526.4 395.2h1.6M527.2 395.2h1.6M528 395.2h1.6M528.8 395.2h1.6M529.7 395.2h1.6M530.5 395.2h1.6M531.3 395.2h1.6M532.1 395.2h1.6M532.9 395.2h1.6M533.8 395.2h1.6M534.6 395.2h1.6M535.4 395.2h1.6M536.2 395.2h1.6M537 395.2h1.6M537.9 395.2h1.6M538.7 395.2h1.6M539.5 395.2h1.6M540.3 395.2h1.6M541.1 395.2h1.6M542 395.2h1.6M542.8 395.2h1.6M543.6 395.2h1.6M544.4 395.2h1.6M545.2 395.2h1.6M546.1 395.2h1.6M546.9 395.2h1.6M547.7 395.2h1.6M548.5 395.2h1.6M549.3 395.2h1.6M550.2 395.2h1.6M551 395.2h1.6M551.8 395.2h1.6M552.6 395.2h1.6M553.4 395.2h1.6M554.3 395.2h1.6M555.1 395.2h1.6M555.9 395.2h1.6M556.7 395.2h1.6M557.5 395.2h1.6M558.4 395.2h1.6M559.2 395.2h1.6M560 395.2h1.6M560.8 395.2h1.6M561.7 395.2h1.6M562.5 395.2h1.6M563.3 395.2h1.6M564.1 395.2h1.6M564.9 395.2h1.6M565.8 395.2h1.6M566.6 395.2h1.6M567.4 395.2h1.6M568.2 395.2h1.6M569 395.2h1.6M569.9 395.2h1.6M570.7 395.2h1.6M571.5 395.2h1.6M572.3 395.2h1.6M573.1 395.2h1.6M574 395.2h1.6M574.8 395.2h1.6M575.6 395.2h1.6M576.4 395.2h1.6M577.2 395.2h1.6M578.1 395.2h1.6M578.9 395.2h1.6M579.7 395.2h1.6M580.5 395.2h1.6M581.3 395.2h1.6M582.2 395.2h1.6M583 395.2h1.6M583.8 395.2h1.6M584.6 395.2h1.6M585.4 395.2h1.6M586.3 395.2h1.6M587.1 395.2h1.6M587.9 395.2h1.6M588.7 395.2h1.6M589.5 395.2h1.6M590.4 395.2h1.6M591.2 395.2h1.6M592 395.2h1.6M592.8 395.2h1.6M593.6 395.2h1.6M594.5 395.2h1.6M595.3 395.2h1.6M596.1 395.2h1.6M596.9 395.2h1.6M597.7 395.2h1.6M598.6 395.2h1.6M599.4 395.2h1.6M600.2 395.2h1.6M601 395.2h1.6M601.8 395.2h1.6M602.7 395.2h1.6M603.5 395.2h1.6M604.3 395.2h1.6M605.1 395.2h1.6M605.9 395.2h1.6M606.8 395.2h1.6M607.6 395.2h1.6M608.4 395.2h1.6M609.2 395.2h1.6M610 395.2h1.6M610.9 395.2h1.6M611.7 395.2h1.6M612.5 395.2h1.6M613.3 395.2h1.6M614.1 395.2h1.6M615 395.2h1.6M615.8 395.2h1.6M616.6 395.2h1.6M617.4 395.2h1.6M618.2 395.2h1.6M619.1 395.2h1.6M619.9 395.2h1.6M620.7 395.2h1.6M621.5 395.2h1.6M622.3 395.2h1.6M623.2 395.2h1.6M624 395.2h1.6M624.8 395.2h1.6M625.6 395.2h1.6M626.4 395.2h1.6M627.3 395.2h1.6M628.1 395.2h1.6M628.9 395.2h1.6M629.7 395.2h1.6M630.5 395.2h1.6M631.4 395.2h1.6M632.2 395.2h1.6M633 395.2h1.6M633.8 395.2h1.6M634.6 395.2h1.6M635.5 395.2h1.6M636.3 395.2h1.6M637.1 395.2h1.6M637.9 395.2h1.6M638.7 395.2h1.6M639.6 395.2h1.6M640.4 395.2h1.6M641.2 395.2h1.6M642 395.2h1.6M642.9 395.2h1.6M643.7 395.2h1.6M644.5 395.2h1.6M645.3 395.2h1.6M646.1 395.2h1.6M647 395.2h1.6M647.8 395.2h1.6M648.6 395.2h1.6M649.4 395.2h1.6M650.2 395.2h1.6M651.1 395.2h1.6M651.9 395.2h1.6M652.7 395.2h1.6M653.5 395.2h1.6M654.3 395.2h1.6M655.2 395.2h1.6M656 395.2h1.6M656.8 395.2h1.6M657.6 395.2h1.6M658.4 395.1h1.6M659.3 395.1h1.6M660.1 395.1h1.6M660.9 395h1.6M661.7 394.9h1.6M662.5 394.9h1.6M663.4 394.9h1.6M664.2 394.9h1.6M665 394.7h1.6M665.8 394.9h1.6M666.6 394.8h1.6M667.5 394.6h1.6M668.3 394.6h1.6M669.1 394.6h1.6M669.9 394.6h1.6M670.7 394.6h1.6M671.6 394.5h1.6M672.4 394.4h1.6M673.2 394h1.6M674 394.1h1.6M674.8 393.6h1.6M675.7 393.5h1.6M676.5 393.1h1.6M677.3 392.6h1.6M678.1 392.7h1.6M678.9 392.3h1.6M679.8 391.8h1.6M680.6 391.8h1.6M681.4 391.1h1.6M682.2 390.3h1.6M683 390.1h1.6M683.9 389.3h1.6M684.7 388.9h1.6M685.5 388h1.6M686.3 386.9h1.6M687.1 386.1h1.6M688 384.8h1.6M688.8 383.7h1.6M689.6 381.8h1.6M690.4 380.1h1.6M691.2 379.2h1.6M692.1 377.7h1.6M692.9 376.2h1.6M693.7 374.9h1.6M694.5 373.3h1.6M695.3 373.2h1.6M696.2 370.2h1.6M697 368.2h1.6M697.8 365.8h1.6M698.6 365.2h1.6M699.4 362.3h1.6M700.3 358.4h1.6M701.1 355.6h1.6M701.9 353.2h1.6M702.7 350.1h1.6M703.5 346.6h1.6M704.4 343.2h1.6M705.2 342h1.6M706 338.1h1.6M706.8 335.6h1.6M707.6 333.3h1.6M708.5 331.5h1.6M709.3 333.2h1.6M710.1 335h1.6M710.9 335.4h1.6M711.7 337.1h1.6M712.6 339.9h1.6M713.4 340.5h1.6M714.2 342.6h1.6M715 346.8h1.6M715.8 350.5h1.6M716.7 351.2h1.6M717.5 355.7h1.6M718.3 360h1.6M719.1 361.6h1.6M719.9 365.8h1.6M720.8 369.3h1.6M721.6 373h1.6M722.4 374.9h1.6M723.2 378.5h1.6M724 381.9h1.6M724.9 385h1.6M725.7 387.7h1.6M726.5 390.1h1.6M727.3 392.1h1.6M728.2 393.2h1.6M729 394.3h1.6M729.8 394.6h1.6M730.6 395h1.6M731.4 395.2h1.6M732.3 395.2h1.6M733.1 395.2h1.6M733.9 395.2h1.6M734.7 395.2h1.6M735.5 395.2h1.6M736.4 395.2h1.6M737.2 395.2h1.6M738 395.2h1.6M738.8 395.2h1.6M739.6 395.2h1.6M740.5 395.2h1.6M741.3 395.2h1.6M742.1 395.2h1.6M742.9 395.2h1.6M743.7 395.2h1.6M744.6 395.2h1.6M745.4 395.2h1.6M746.2 395.2h1.6M747 395.2h1.6M747.8 395.2h1.6M748.7 395.2h1.6M749.5 395.2h1.6M750.3 395.2h1.6M751.1 395.2h1.6M751.9 395.2h1.6M752.8 395.2h1.6M753.6 395.2h1.6M754.4 395.2h1.6M755.2 395.2h1.6M756 395.2h1.6M756.9 395.2h1.6M757.7 395.2h1.6M758.5 395.2h1.6M759.3 395.2h1.6M760.1 395.2h1.6M761 395.2h1.6M761.8 395.2h1.6M762.6 395.2h1.6M763.4 395.2h1.6M764.2 395.2h1.6M765.1 395.2h1.6M765.9 395.2h1.6M766.7 395.2h1.6M767.5 395.2h1.6M768.3 395.2h1.6M769.2 395.2h1.6M770 395.2h1.6M770.8 395.2h1.6M771.6 395.2h1.6M772.4 395.2h1.6M773.3 395.2h1.6M774.1 395.2h1.6M774.9 395.2h1.6M775.7 395.2h1.6M776.5 395.2h1.6M777.4 395.2h1.6M778.2 395.2h1.6M779 395.2h1.6M779.8 395.2h1.6M780.6 395.2h1.6M781.5 395.2h1.6M782.3 395.2h1.6M783.1 395.2h1.6M783.9 395.2h1.6M784.7 395.2h1.6M785.6 395.2h1.6M786.4 395.2h1.6M787.2 395.2h1.6M788 395.2h1.6M788.8 395.2h1.6M789.7 395.2h1.6M790.5 395.2h1.6M791.3 395.2h1.6M792.1 395.2h1.6M792.9 395.2h1.6M793.8 395.2h1.6M794.6 395.2h1.6M795.4 395.2h1.6M796.2 395.2h1.6M797 395.2h1.6M797.9 395.2h1.6M798.7 395.2h1.6M799.5 395.2h1.6M800.3 395.2h1.6M801.1 395.2h1.6M802 395.2h1.6M802.8 395.2h1.6M803.6 395.2h1.6M804.4 395.2h1.6M805.2 395.2h1.6M806.1 395.2h1.6M806.9 395.2h1.6M807.7 395.2h1.6M808.5 395.2h1.6M809.4 395.2h1.6M810.2 395.2h1.6M811 395.2h1.6M811.8 395.2h1.6M812.6 395.2h1.6M813.5 395.2h1.6M814.3 395.2h1.6M815.1 395.2h1.6M815.9 395.2h1.6M816.7 395.2h1.6M817.6 395.2h1.6M818.4 395.2h1.6M819.2 395.2h1.6M820 395.2h1.6M820.8 395.2h1.6M821.7 395.2h1.6M822.5 395.2h1.6M823.3 395.2h1.6M824.1 395.2h1.6M824.9 395.2h1.6M825.8 395.2h1.6M826.6 395.2h1.6M827.4 395.2h1.6M828.2 395.2h1.6M829 395.2h1.6M829.9 395.2h1.6M830.7 395.2h1.6M831.5 395.2h1.6M832.3 395.2h1.6M833.1 395.2h1.6M834 395.2h1.6M834.8 395.2h1.6M835.6 395.2h1.6M836.4 395.2h1.6M837.2 395.2h1.6M838.1 395.2h1.6M838.9 395.2h1.6M839.7 395.2h1.6M840.5 395.2h1.6M841.3 395.2h1.6M842.2 395.2h1.6M843 395.2h1.6M843.8 395.2h1.6M844.6 395.2h1.6M845.4 395.2h1.6M846.3 395.2h1.6M847.1 395.2h1.6" fill="none" stroke="#00ff00" stroke-width="1.7"/>
<path d="M479.6 401.4l6 -9h-12zM480.4 401.4l6 -9h-12zM481.3 401.4l6 -9h-12zM482.1 401.4l6 -9h-12zM482.9 401.4l6 -9h-12zM483.7 401.4l6 -9h-12zM484.5 401.4l6 -9h-12zM485.4 401.4l6 -9h-12zM486.2 401.4l6 -9h-12zM487 401.4l6 -9h-12zM487.8 401.4l6 -9h-12zM488.6 401.4l6 -9h-12zM489.5 401.4l6 -9h-12zM490.3 401.4l6 -9h-12zM491.1 401.4l6 -9h-12zM491.9 401.4l6 -9h-12zM492.7 401.4l6 -9h-12zM493.6 401.4l6 -9h-12zM494.4 401.4l6 -9h-12zM495.2 401.4l6 -9h-12zM496 401.4l6 -9h-12zM496.8 401.4l6 -9h-12zM497.7 401.4l6 -9h-12zM498.5 401.4l6 -9h-12zM499.3 401.4l6 -9h-12zM500.1 401.4l6 -9h-12zM500.9 401.4l6 -9h-12zM501.8 401.4l6 -9h-12zM502.6 401.4l6 -9h-12zM503.4 401.4l6 -9h-12zM504.2 401.4l6 -9h-12zM505 401.4l6 -9h-12zM505.9 401.4l6 -9h-12zM506.7 401.4l6 -9h-12zM507.5 401.4l6 -9h-12zM508.3 401.4l6 -9h-12zM509.1 401.4l6 -9h-12zM510 401.4l6 -9h-12zM510.8 401.4l6 -9h-12zM511.6 401.4l6 -9h-12zM512.4 401.4l6 -9h-12zM513.2 401.4l6 -9h-12zM514.1 401.4l6 -9h-12zM514.9 401.4l6 -9h-12zM515.7 401.4l6 -9h-12zM516.5 401.4l6 -9h-12zM517.3 401.4l6 -9h-12zM518.2 401.4l6 -9h-12zM519 401.4l6 -9h-12zM519.8 401.4l6 -9h-12zM520.6 401.4l6 -9h-12zM521.4 401.4l6 -9h-12zM522.3 401.4l6 -9h-12zM523.1 401.4l6 -9h-12zM523.9 401.4l6 -9h-12zM524.7 401.4l6 -9h-12zM525.5 401.4l6 -9h-12zM526.4 401.4l6 -9h-12zM527.2 401.4l6 -9h-12zM528 401.4l6 -9h-12zM528.8 401.4l6 -9h-12zM529.6 401.4l6 -9h-12zM530.5 401.4l6 -9h-12zM531.3 401.4l6 -9h-12zM532.1 401.4l6 -9h-12zM532.9 401.4l6 -9h-12zM533.7 401.4l6 -9h-12zM534.6 401.4l6 -9h-12zM535.4 401.4l6 -9h-12zM536.2 401.4l6 -9h-12zM537 401.4l6 -9h-12zM537.8 401.4l6 -9h-12zM538.7 401.4l6 -9h-12zM539.5 401.4l6 -9h-12zM540.3 401.4l6 -9h-12zM541.1 401.4l6 -9h-12zM541.9 401.4l6 -9h-12zM542.8 401.4l6 -9h-12zM543.6 401.4l6 -9h-12zM544.4 401.4l6 -9h-12zM545.2 401.4l6 -9h-12zM546 401.4l6 -9h-12zM546.9 401.4l6 -9h-12zM547.7 401.4l6 -9h-12zM548.5 401.4l6 -9h-12zM549.3 401.4l6 -9h-12zM550.1 401.4l6 -9h-12zM551 401.4l6 -9h-12zM551.8 401.4l6 -9h-12zM552.6 401.4l6 -9h-12zM553.4 401.4l6 -9h-12zM554.2 401.4l6 -9h-12zM555.1 401.4l6 -9h-12zM555.9 401.4l6 -9h-12zM556.7 401.4l6 -9h-12zM557.5 401.4l6 -9h-12zM558.3 401.4l6 -9h-12zM559.2 401.4l6 -9h-12zM560 401.4l6 -9h-12zM560.8 401.4l6 -9h-12zM561.6 401.4l6 -9h-12zM562.5 401.4l6 -9h-12zM563.3 401.4l6 -9h-12zM564.1 401.4l6 -9h-12zM564.9 401.4l6 -9h-12zM565.7 401.4l6 -9h-12zM566.6 401.4l6 -9h-12zM567.4 401.4l6 -9h-12zM568.2 401.4l6 -9h-12zM569 401.4l6 -9h-12zM569.8 401.4l6 -9h-12zM570.7 401.4l6 -9h-12zM571.5 401.4l6 -9h-12zM572.3 401.4l6 -9h-12zM573.1 401.4l6 -9h-12zM573.9 401.4l6 -9h-12zM574.8 401.4l6 -9h-12zM575.6 401.4l6 -9h-12zM576.4 401.4l6 -9h-12zM577.2 401.4l6 -9h-12zM578 401.4l6 -9h-12zM578.9 401.4l6 -9h-12zM579.7 401.4l6 -9h-12zM580.5 401.4l6 -9h-12zM581.3 401.4l6 -9h-12zM582.1 401.4l6 -9h-12zM583 401.4l6 -9h-12zM583.8 401.4l6 -9h-12zM584.6 401.4l6 -9h-12zM585.4 401.4l6 -9h-12zM586.2 401.4l6 -9h-12zM587.1 401.4l6 -9h-12zM587.9 401.4l6 -9h-12zM588.7 401.4l6 -9h-12zM589.5 401.4l6 -9h-12zM590.3 401.4l6 -9h-12zM591.2 401.4l6 -9h-12zM592 401.4l6 -9h-12zM592.8 401.4l6 -9h-12zM593.6 401.4l6 -9h-12zM594.4 401.4l6 -9h-12zM595.3 401.4l6 -9h-12zM596.1 401.4l6 -9h-12zM596.9 401.4l6 -9h-12zM597.7 401.4l6 -9h-12zM598.5 401.4l6 -9h-12zM599.4 401.4l6 -9h-12zM600.2 401.4l6 -9h-12zM601 401.4l6 -9h-12zM601.8 401.4l6 -9h-12zM602.6 401.4l6 -9h-12zM603.5 401.4l6 -9h-12zM604.3 401.4l6 -9h-12zM605.1 401.4l6 -9h-12zM605.9 401.4l6 -9h-12zM606.7 401.4l6 -9h-12zM607.6 401.4l6 -9h-12zM608.4 401.4l6 -9h-12zM609.2 401.4l6 -9h-12zM610 401.4l6 -9h-12zM610.8 401.4l6 -9h-12zM611.7 401.4l6 -9h-12zM612.5 401.4l6 -9h-12zM613.3 401.4l6 -9h-12zM614.1 401.4l6 -9h-12zM614.9 401.4l6 -9h-12zM615.8 401.4l6 -9h-12zM616.6 401.4l6 -9h-12zM617.4 401.4l6 -9h-12zM618.2 401.4l6 -9h-12zM619 401.4l6 -9h-12zM619.9 401.4l6 -9h-12zM620.7 401.4l6 -9h-12zM621.5 401.4l6 -9h-12zM622.3 401.4l6 -9h-12zM623.1 401.4l6 -9h-12zM624 401.4l6 -9h-12zM624.8 401.4l6 -9h-12zM625.6 401.4l6 -9h-12zM626.4 401.4l6 -9h-12zM627.2 401.4l6 -9h-12zM628.1 401.4l6 -9h-12zM628.9 401.4l6 -9h-12zM629.7 401.4l6 -9h-12zM630.5 401.4l6 -9h-12zM631.3 401.4l6 -9h-12zM632.2 401.4l6 -9h-12zM633 401.4l6 -9h-12zM633.8 401.4l6 -9h-12zM634.6 401.4l6 -9h-12zM635.4 401.4l6 -9h-12zM636.3 401.4l6 -9h-12zM637.1 401.4l6 -9h-12zM637.9 401.4l6 -9h-12zM638.7 401.4l6 -9h-12zM639.5 401.4l6 -9h-12zM640.4 401.4l6 -9h-12zM641.2 401.4l6 -9h-12zM642 401.4l6 -9h-12zM642.8 401.4l6 -9h-12zM643.7 401.4l6 -9h-12zM644.5 401.4l6 -9h-12zM645.3 401.4l6 -9h-12zM646.1 401.4l6 -9h-12zM646.9 401.4l6 -9h-12zM647.8 401.4l6 -9h-12zM648.6 401.4l6 -9h-12zM649.4 401.4l6 -9h-12zM650.2 401.4l6 -9h-12zM651 401.4l6 -9h-12zM651.9 401.4l6 -9h-12zM652.7 401.4l6 -9h-12zM653.5 401.4l6 -9h-12zM654.3 401.4l6 -9h-12zM655.1 401.4l6 -9h-12zM656 401.4l6 -9h-12zM656.8 401.4l6 -9h-12zM657.6 401.4l6 -9h-12zM658.4 401.4l6 -9h-12zM659.2 401.4l6 -9h-12zM660.1 401.4l6 -9h-12zM660.9 401.4l6 -9h-12zM661.7 401.4l6 -9h-12zM662.5 401.4l6 -9h-12zM663.3 401.4l6 -9h-12zM664.2 401.4l6 -9h-12zM665 401.4l6 -9h-12zM665.8 401.4l6 -9h-12zM666.6 401.4l6 -9h-12zM667.4 401.4l6 -9h-12zM668.3 401.4l6 -9h-12zM669.1 401.4l6 -9h-12zM669.9 401.4l6 -9h-12zM670.7 401.4l6 -9h-12zM671.5 401.4l6 -9h-12zM672.4 401.4l6 -9h-12zM673.2 401.4l6 -9h-12zM674 401.4l6 -9h-12zM674.8 401.4l6 -9h-12zM675.6 401.4l6 -9h-12zM676.5 401.4l6 -9h-12zM677.3 401.4l6 -9h-12zM678.1 401.4l6 -9h-12zM678.9 401.4l6 -9h-12zM679.7 401.4l6 -9h-12zM680.6 401.4l6 -9h-12zM681.4 401.4l6 -9h-12zM682.2 401.4l6 -9h-12zM683 401.4l6 -9h-12zM683.8 401.4l6 -9h-12zM684.7 401.4l6 -9h-12zM685.5 401.4l6 -9h-12zM686.3 401.4l6 -9h-12zM687.1 401.4l6 -9h-12zM687.9 401.4l6 -9h-12zM688.8 401.4l6 -9h-12zM689.6 401.4l6 -9h-12zM690.4 401.4l6 -9h-12zM691.2 401.4l6 -9h-12zM692 401.4l6 -9h-12zM692.9 401.4l6 -9h-12zM693.7 401.4l6 -9h-12zM694.5 401.4l6 -9h-12zM695.3 401.4l6 -9h-12zM696.1 401.4l6 -9h-12zM697 401.4l6 -9h-12zM697.8 401.4l6 -9h-12zM698.6 401.4l6 -9h-12zM699.4 401.4l6 -9h-12zM700.2 401.4l6 -9h-12zM701.1 401.4l6 -9h-12zM701.9 401.4l6 -9h-12zM702.7 401.4l6 -9h-12zM703.5 401.4l6 -9h-12zM704.3 401.4l6 -9h-12zM705.2 401.4l6 -9h-12zM706 401.4l6 -9h-12zM706.8 401.4l6 -9h-12zM707.6 401.4l6 -9h-12zM708.4 401.4l6 -9h-12zM709.3 401.4l6 -9h-12zM710.1 401.4l6 -9h-12zM710.9 401.4l6 -9h-12zM711.7 401.4l6 -9h-12zM712.5 401.4l6 -9h-12zM713.4 401.4l6 -9h-12zM714.2 401.4l6 -9h-12zM715 401.4l6 -9h-12zM715.8 401.4l6 -9h-12zM716.6 401.3l6 -9h-12zM717.5 401.3l6 -9h-12zM718.3 401.3l6 -9h-12zM719.1 401.3l6 -9h-12zM719.9 401.3l6 -9h-12zM720.7 401.2l6 -9h-12zM721.6 401.1l6 -9h-12zM722.4 401l6 -9h-12zM723.2 401l6 -9h-12zM724 400.9l6 -9h-12zM724.8 400.8l6 -9h-12zM725.7 400.8l6 -9h-12zM726.5 400.8l6 -9h-12zM727.3 400.6l6 -9h-12zM728.1 400.8l6 -9h-12zM729 400.6l6 -9h-12zM729.8 400.5l6 -9h-12zM730.6 400.4l6 -9h-12zM731.4 400.2l6 -9h-12zM732.2 400l6 -9h-12zM733.1 400.1l6 -9h-12zM733.9 399.9l6 -9h-12zM734.7 399.5l6 -9h-12zM735.5 399.5l6 -9h-12zM736.3 399.4l6 -9h-12zM737.2 399.2l6 -9h-12zM738 399l6 -9h-12zM738.8 398.5l6 -9h-12zM739.6 398.5l6 -9h-12zM740.4 398.3l6 -9h-12zM741.3 398l6 -9h-12zM742.1 398.1l6 -9h-12zM742.9 397.4l6 -9h-12zM743.7 397.1l6 -9h-12zM744.5 397.1l6 -9h-12zM745.4 396.4l6 -9h-12zM746.2 396.1l6 -9h-12zM747 395.8l6 -9h-12zM747.8 395.3l6 -9h-12zM748.6 394.7l6 -9h-12zM749.5 394.1l6 -9h-12zM750.3 393.5l6 -9h-12zM751.1 392.9l6 -9h-12zM751.9 392.2l6 -9h-12zM752.7 391.2l6 -9h-12zM753.6 390.7l6 -9h-12zM754.4 389.2l6 -9h-12zM755.2 388.6l6 -9h-12zM756 387.4l6 -9h-12zM756.8 386.7l6 -9h-12zM757.7 385.7l6 -9h-12zM758.5 384l6 -9h-12zM759.3 383.1l6 -9h-12zM760.1 381.9l6 -9h-12zM760.9 380.8l6 -9h-12zM761.8 380.1l6 -9h-12zM762.6 379.3l6 -9h-12zM763.4 377.7l6 -9h-12zM764.2 376.3l6 -9h-12zM765 374.9l6 -9h-12zM765.9 374.5l6 -9h-12zM766.7 373.2l6 -9h-12zM767.5 372.1l6 -9h-12zM768.3 371.4l6 -9h-12zM769.1 370.5l6 -9h-12zM770 368.8l6 -9h-12zM770.8 367.5l6 -9h-12zM771.6 367.1l6 -9h-12zM772.4 365.7l6 -9h-12zM773.2 367.3l6 -9h-12zM774.1 365.6l6 -9h-12zM774.9 363.7l6 -9h-12zM775.7 364.1l6 -9h-12zM776.5 364.5l6 -9h-12zM777.3 364l6 -9h-12zM778.2 364.2l6 -9h-12zM779 364.3l6 -9h-12zM779.8 363.6l6 -9h-12zM780.6 364.1l6 -9h-12zM781.4 364.8l6 -9h-12zM782.3 365.6l6 -9h-12zM783.1 366.4l6 -9h-12zM783.9 367.8l6 -9h-12zM784.7 369.2l6 -9h-12zM785.5 370.7l6 -9h-12zM786.4 372.1l6 -9h-12zM787.2 373.9l6 -9h-12zM788 374.9l6 -9h-12zM788.8 376.6l6 -9h-12zM789.6 377.3l6 -9h-12zM790.5 378.8l6 -9h-12zM791.3 380.4l6 -9h-12zM792.1 381.7l6 -9h-12zM792.9 383.6l6 -9h-12zM793.7 384.8l6 -9h-12zM794.6 387l6 -9h-12zM795.4 388.7l6 -9h-12zM796.2 390.3l6 -9h-12zM797 391.8l6 -9h-12zM797.8 392.9l6 -9h-12zM798.7 394.4l6 -9h-12zM799.5 395.5l6 -9h-12zM800.3 396.7l6 -9h-12zM801.1 397.8l6 -9h-12zM801.9 398.5l6 -9h-12zM802.8 398.9l6 -9h-12zM803.6 399.4l6 -9h-12zM804.4 399.8l6 -9h-12zM805.2 400.4l6 -9h-12zM806 400.8l6 -9h-12zM806.9 400.9l6 -9h-12zM807.7 401.1l6 -9h-12zM808.5 401.2l6 -9h-12zM809.3 401.3l6 -9h-12zM810.2 401.4l6 -9h-12zM811 401.4l6 -9h-12zM811.8 401.4l6 -9h-12zM812.6 401.4l6 -9h-12zM813.4 401.4l6 -9h-12zM814.3 401.4l6 -9h-12zM815.1 401.4l6 -9h-12zM815.9 401.4l6 -9h-12zM816.7 401.4l6 -9h-12zM817.5 401.4l6 -9h-12zM818.4 401.4l6 -9h-12zM819.2 401.4l6 -9h-12zM820 401.4l6 -9h-12zM820.8 401.4l6 -9h-12zM821.6 401.4l6 -9h-12zM822.5 401.4l6 -9h-12zM823.3 401.4l6 -9h-12zM824.1 401.4l6 -9h-12zM824.9 401.4l6 -9h-12zM825.7 401.4l6 -9h-12zM826.6 401.4l6 -9h-12zM827.4 401.4l6 -9h-12zM828.2 401.4l6 -9h-12zM829 401.4l6 -9h-12zM829.8 401.4l6 -9h-12zM830.7 401.4l6 -9h-12zM831.5 401.4l6 -9h-12zM832.3 401.4l6 -9h-12zM833.1 401.4l6 -9h-12zM833.9 401.4l6 -9h-12zM834.8 401.4l6 -9h-12zM835.6 401.4l6 -9h-12zM836.4 401.4l6 -9h-12zM837.2 401.4l6 -9h-12zM838 401.4l6 -9h-12zM838.9 401.4l6 -9h-12zM839.7 401.4l6 -9h-12zM840.5 401.4l6 -9h-12zM841.3 401.4l6 -9h-12zM842.1 401.4l6 -9h-12zM843 401.4l6 -9h-12zM843.8 401.4l6 -9h-12zM844.6 401.4l6 -9h-12zM845.4 401.4l6 -9h-12zM846.2 401.4l6 -9h-12zM847.1 401.4l6 -9h-12zM847.9 401.4l6 -9h-12zM848.7 401.4l6 -9h-12zM849.5 401.4l6 -9h-12zM850.3 401.4l6 -9h-12zM851.2 401.4l6 -9h-12zM852 401.4l6 -9h-12zM852.8 401.4l6 -9h-12zM853.6 401.4l6 -9h-12zM854.4 401.4l6 -9h-12zM855.3 401.4l6 -9h-12zM856.1 401.4l6 -9h-12zM856.9 401.4l6 -9h-12zM857.7 401.4l6 -9h-12zM858.5 401.4l6 -9h-12zM859.4 401.4l6 -9h-12zM860.2 401.4l6 -9h-12zM861 401.4l6 -9h-12zM861.8 401.4l6 -9h-12zM862.6 401.4l6 -9h-12zM863.5 401.4l6 -9h-12zM864.3 401.4l6 -9h-12zM865.1 401.4l6 -9h-12zM865.9 401.4l6 -9h-12zM866.7 401.4l6 -9h-12zM867.6 401.4l6 -9h-12zM868.4 401.4l6 -9h-12zM869.2 401.4l6 -9h-12zM870 401.4l6 -9h-12zM870.8 401.4l6 -9h-12zM871.7 401.4l6 -9h-12zM872.5 401.4l6 -9h-12zM873.3 401.4l6 -9h-12zM874.1 401.4l6 -9h-12zM874.9 401.4l6 -9h-12zM875.8 401.4l6 -9h-12zM876.6 401.4l6 -9h-12zM877.4 401.4l6 -9h-12zM878.2 401.4l6 -9h-12zM879 401.4l6 -9h-12zM879.9 401.4l6 -9h-12zM880.7 401.4l6 -9h-12zM881.5 401.4l6 -9h-12zM882.3 401.4l6 -9h-12zM883.1 401.4l6 -9h-12zM884 401.4l6 -9h-12zM884.8 401.4l6 -9h-12zM885.6 401.4l6 -9h-12zM886.4 401.4l6 -9h-12zM887.2 401.4l6 -9h-12zM888.1 401.4l6 -9h-12zM888.9 401.4l6 -9h-12z" fill="none" stroke="#ffa500" stroke-width="1.65" stroke-linejoin="miter"/>
<path d="M478.8 395.2h1.6M479.6 395.2h1.6M480.5 395.2h1.6M481.3 395.2h1.6M482.1 395.2h1.6M482.9 395.2h1.6M483.7 395.2h1.6M484.6 395.2h1.6M485.4 395.2h1.6M486.2 395.2h1.6M487 395.2h1.6M487.8 395.2h1.6M488.7 395.2h1.6M489.5 395.2h1.6M490.3 395.2h1.6M491.1 395.2h1.6M491.9 395.2h1.6M492.8 395.2h1.6M493.6 395.2h1.6M494.4 395.2h1.6M495.2 395.2h1.6M496 395.2h1.6M496.9 395.2h1.6M497.7 395.2h1.6M498.5 395.2h1.6M499.3 395.2h1.6M500.1 395.2h1.6M501 395.2h1.6M501.8 395.2h1.6M502.6 395.2h1.6M503.4 395.2h1.6M504.2 395.2h1.6M505.1 395.2h1.6M505.9 395.2h1.6M506.7 395.2h1.6M507.5 395.2h1.6M508.3 395.2h1.6M509.2 395.2h1.6M510 395.2h1.6M510.8 395.2h1.6M511.6 395.2h1.6M512.4 395.2h1.6M513.3 395.2h1.6M514.1 395.2h1.6M514.9 395.2h1.6M515.7 395.2h1.6M516.5 395.2h1.6M517.4 395.2h1.6M518.2 395.2h1.6M519 395.2h1.6M519.8 395.2h1.6M520.6 395.2h1.6M521.5 395.2h1.6M522.3 395.2h1.6M523.1 395.2h1.6M523.9 395.2h1.6M524.7 395.2h1.6M525.6 395.2h1.6M526.4 395.2h1.6M527.2 395.2h1.6M528 395.2h1.6M528.8 395.2h1.6M529.7 395.2h1.6M530.5 395.2h1.6M531.3 395.2h1.6M532.1 395.2h1.6M532.9 395.2h1.6M533.8 395.2h1.6M534.6 395.2h1.6M535.4 395.2h1.6M536.2 395.2h1.6M537 395.2h1.6M537.9 395.2h1.6M538.7 395.2h1.6M539.5 395.2h1.6M540.3 395.2h1.6M541.1 395.2h1.6M542 395.2h1.6M542.8 395.2h1.6M543.6 395.2h1.6M544.4 395.2h1.6M545.2 395.2h1.6M546.1 395.2h1.6M546.9 395.2h1.6M547.7 395.2h1.6M548.5 395.2h1.6M549.3 395.2h1.6M550.2 395.2h1.6M551 395.2h1.6M551.8 395.2h1.6M552.6 395.2h1.6M553.4 395.2h1.6M554.3 395.2h1.6M555.1 395.2h1.6M555.9 395.2h1.6M556.7 395.2h1.6M557.5 395.2h1.6M558.4 395.2h1.6M559.2 395.2h1.6M560 395.2h1.6M560.8 395.2h1.6M561.7 395.2h1.6M562.5 395.2h1.6M563.3 395.2h1.6M564.1 395.2h1.6M564.9 395.2h1.6M565.8 395.2h1.6M566.6 395.2h1.6M567.4 395.2h1.6M568.2 395.2h1.6M569 395.2h1.6M569.9 395.2h1.6M570.7 395.2h1.6M571.5 395.2h1.6M572.3 395.2h1.6M573.1 395.2h1.6M574 395.2h1.6M574.8 395.2h1.6M575.6 395.2h1.6M576.4 395.2h1.6M577.2 395.2h1.6M578.1 395.2h1.6M578.9 395.2h1.6M579.7 395.2h1.6M580.5 395.2h1.6M581.3 395.2h1.6M582.2 395.2h1.6M583 395.2h1.6M583.8 395.2h1.6M584.6 395.2h1.6M585.4 395.2h1.6M586.3 395.2h1.6M587.1 395.2h1.6M587.9 395.2h1.6M588.7 395.2h1.6M589.5 395.2h1.6M590.4 395.2h1.6M591.2 395.2h1.6M592 395.2h1.6M592.8 395.2h1.6M593.6 395.2h1.6M594.5 395.2h1.6M595.3 395.2h1.6M596.1 395.2h1.6M596.9 395.2h1.6M597.7 395.2h1.6M598.6 395.2h1.6M599.4 395.2h1.6M600.2 395.2h1.6M601 395.2h1.6M601.8 395.2h1.6M602.7 395.2h1.6M603.5 395.2h1.6M604.3 395.2h1.6M605.1 395.2h1.6M605.9 395.2h1.6M606.8 395.2h1.6M607.6 395.2h1.6M608.4 395.2h1.6M609.2 395.2h1.6M610 395.2h1.6M610.9 395.2h1.6M611.7 395.2h1.6M612.5 395.2h1.6M613.3 395.2h1.6M614.1 395.2h1.6M615 395.2h1.6M615.8 395.2h1.6M616.6 395.2h1.6M617.4 395.2h1.6M618.2 395.2h1.6M619.1 395.2h1.6M619.9 395.2h1.6M620.7 395.2h1.6M621.5 395.2h1.6M622.3 395.2h1.6M623.2 395.2h1.6M624 395.2h1.6M624.8 395.2h1.6M625.6 395.2h1.6M626.4 395.2h1.6M627.3 395.2h1.6M628.1 395.2h1.6M628.9 395.2h1.6M629.7 395.2h1.6M630.5 395.2h1.6M631.4 395.2h1.6M632.2 395.2h1.6M633 395.2h1.6M633.8 395.2h1.6M634.6 395.2h1.6M635.5 395.2h1.6M636.3 395.2h1.6M637.1 395.2h1.6M637.9 395.2h1.6M638.7 395.2h1.6M639.6 395.2h1.6M640.4 395.2h1.6M641.2 395.2h1.6M642 395.2h1.6M642.9 395.2h1.6M643.7 395.2h1.6M644.5 395.2h1.6M645.3 395.2h1.6M646.1 395.2h1.6M647 395.2h1.6M647.8 395.2h1.6M648.6 395.2h1.6M649.4 395.2h1.6M650.2 395.2h1.6M651.1 395.2h1.6M651.9 395.2h1.6M652.7 395.2h1.6M653.5 395.2h1.6M654.3 395.2h1.6M655.2 395.2h1.6M656 395.2h1.6M656.8 395.2h1.6M657.6 395.2h1.6M658.4 395.2h1.6M659.3 395.2h1.6M660.1 395.2h1.6M660.9 395.2h1.6M661.7 395.2h1.6M662.5 395.2h1.6M663.4 395.2h1.6M664.2 395.2h1.6M665 395.2h1.6M665.8 395.2h1.6M666.6 395.2h1.6M667.5 395.2h1.6M668.3 395.2h1.6M669.1 395.2h1.6M669.9 395.2h1.6M670.7 395.2h1.6M671.6 395.2h1.6M672.4 395.2h1.6M673.2 395.2h1.6M674 395.2h1.6M674.8 395.2h1.6M675.7 395.2h1.6M676.5 395.2h1.6M677.3 395.2h1.6M678.1 395.2h1.6M678.9 395.2h1.6M679.8 395.2h1.6M680.6 395.2h1.6M681.4 395.2h1.6M682.2 395.2h1.6M683 395.2h1.6M683.9 395.2h1.6M684.7 395.2h1.6M685.5 395.2h1.6M686.3 395.2h1.6M687.1 395.2h1.6M688 395.2h1.6M688.8 395.2h1.6M689.6 395.2h1.6M690.4 395.2h1.6M691.2 395.2h1.6M692.1 395.2h1.6M692.9 395.2h1.6M693.7 395.2h1.6M694.5 395.2h1.6M695.3 395.2h1.6M696.2 395.2h1.6M697 395.2h1.6M697.8 395.2h1.6M698.6 395.2h1.6M699.4 395.2h1.6M700.3 395.2h1.6M701.1 395.2h1.6M701.9 395.2h1.6M702.7 395.2h1.6M703.5 395.2h1.6M704.4 395.2h1.6M705.2 395.2h1.6M706 395.2h1.6M706.8 395.2h1.6M707.6 395.2h1.6M708.5 395.2h1.6M709.3 395.2h1.6M710.1 395.2h1.6M710.9 395.2h1.6M711.7 395.2h1.6M712.6 395.2h1.6M713.4 395.2h1.6M714.2 395.2h1.6M715 395.2h1.6M715.8 395.1h1.6M716.7 395.1h1.6M717.5 395.1h1.6M718.3 395.1h1.6M719.1 395.1h1.6M719.9 395h1.6M720.8 394.9h1.6M721.6 394.8h1.6M722.4 394.8h1.6M723.2 394.7h1.6M724 394.6h1.6M724.9 394.6h1.6M725.7 394.6h1.6M726.5 394.4h1.6M727.3 394.6h1.6M728.2 394.4h1.6M729 394.3h1.6M729.8 394.2h1.6M730.6 394h1.6M731.4 393.8h1.6M732.3 393.9h1.6M733.1 393.7h1.6M733.9 393.3h1.6M734.7 393.3h1.6M735.5 393.2h1.6M736.4 393h1.6M737.2 392.8h1.6M738 392.3h1.6M738.8 392.3h1.6M739.6 392.1h1.6M740.5 391.8h1.6M741.3 391.9h1.6M742.1 391.2h1.6M742.9 390.9h1.6M743.7 390.9h1.6M744.6 390.2h1.6M745.4 389.9h1.6M746.2 389.6h1.6M747 389.1h1.6M747.8 388.5h1.6M748.7 387.9h1.6M749.5 387.3h1.6M750.3 386.7h1.6M751.1 386h1.6M751.9 385h1.6M752.8 384.5h1.6M753.6 383h1.6M754.4 382.4h1.6M755.2 381.2h1.6M756 380.5h1.6M756.9 379.5h1.6M757.7 377.8h1.6M758.5 376.9h1.6M759.3 375.7h1.6M760.1 374.6h1.6M761 373.9h1.6M761.8 373.1h1.6M762.6 371.5h1.6M763.4 370.1h1.6M764.2 368.7h1.6M765.1 368.3h1.6M765.9 367h1.6M766.7 365.9h1.6M767.5 365.2h1.6M768.3 364.3h1.6M769.2 362.6h1.6M770 361.3h1.6M770.8 360.9h1.6M771.6 359.5h1.6M772.4 361.1h1.6M773.3 359.4h1.6M774.1 357.5h1.6M774.9 357.9h1.6M775.7 358.3h1.6M776.5 357.8h1.6M777.4 358h1.6M778.2 358.1h1.6M779 357.4h1.6M779.8 357.9h1.6M780.6 358.6h1.6M781.5 359.4h1.6M782.3 360.2h1.6M783.1 361.6h1.6M783.9 363h1.6M784.7 364.5h1.6M785.6 365.9h1.6M786.4 367.7h1.6M787.2 368.7h1.6M788 370.4h1.6M788.8 371.1h1.6M789.7 372.6h1.6M790.5 374.2h1.6M791.3 375.5h1.6M792.1 377.4h1.6M792.9 378.6h1.6M793.8 380.8h1.6M794.6 382.5h1.6M795.4 384.1h1.6M796.2 385.6h1.6M797 386.7h1.6M797.9 388.2h1.6M798.7 389.3h1.6M799.5 390.5h1.6M800.3 391.6h1.6M801.1 392.3h1.6M802 392.7h1.6M802.8 393.2h1.6M803.6 393.6h1.6M804.4 394.2h1.6M805.2 394.6h1.6M806.1 394.7h1.6M806.9 394.9h1.6M807.7 395h1.6M808.5 395.1h1.6M809.4 395.2h1.6M810.2 395.2h1.6M811 395.2h1.6M811.8 395.2h1.6M812.6 395.2h1.6M813.5 395.2h1.6M814.3 395.2h1.6M815.1 395.2h1.6M815.9 395.2h1.6M816.7 395.2h1.6M817.6 395.2h1.6M818.4 395.2h1.6M819.2 395.2h1.6M820 395.2h1.6M820.8 395.2h1.6M821.7 395.2h1.6M822.5 395.2h1.6M823.3 395.2h1.6M824.1 395.2h1.6M824.9 395.2h1.6M825.8 395.2h1.6M826.6 395.2h1.6M827.4 395.2h1.6M828.2 395.2h1.6M829 395.2h1.6M829.9 395.2h1.6M830.7 395.2h1.6M831.5 395.2h1.6M832.3 395.2h1.6M833.1 395.2h1.6M834 395.2h1.6M834.8 395.2h1.6M835.6 395.2h1.6M836.4 395.2h1.6M837.2 395.2h1.6M838.1 395.2h1.6M838.9 395.2h1.6M839.7 395.2h1.6M840.5 395.2h1.6M841.3 395.2h1.6M842.2 395.2h1.6M843 395.2h1.6M843.8 395.2h1.6M844.6 395.2h1.6M845.4 395.2h1.6M846.3 395.2h1.6M847.1 395.2h1.6M847.9 395.2h1.6M848.7 395.2h1.6M849.5 395.2h1.6M850.4 395.2h1.6M851.2 395.2h1.6M852 395.2h1.6M852.8 395.2h1.6M853.6 395.2h1.6M854.5 395.2h1.6M855.3 395.2h1.6M856.1 395.2h1.6M856.9 395.2h1.6M857.7 395.2h1.6M858.6 395.2h1.6M859.4 395.2h1.6M860.2 395.2h1.6M861 395.2h1.6M861.8 395.2h1.6M862.7 395.2h1.6M863.5 395.2h1.6M864.3 395.2h1.6M865.1 395.2h1.6M865.9 395.2h1.6M866.8 395.2h1.6M867.6 395.2h1.6M868.4 395.2h1.6M869.2 395.2h1.6M870 395.2h1.6M870.9 395.2h1.6M871.7 395.2h1.6M872.5 395.2h1.6M873.3 395.2h1.6M874.1 395.2h1.6M875 395.2h1.6M875.8 395.2h1.6M876.6 395.2h1.6M877.4 395.2h1.6M878.2 395.2h1.6M879.1 395.2h1.6M879.9 395.2h1.6M880.7 395.2h1.6M881.5 395.2h1.6M882.3 395.2h1.6M883.2 395.2h1.6M884 395.2h1.6M884.8 395.2h1.6M885.6 395.2h1.6M886.4 395.2h1.6M887.3 395.2h1.6M888.1 395.2h1.6" fill="none" stroke="#ffa500" stroke-width="1.7"/>
<rect x="479.2" y="41.9" width="410.1" height="352.9" fill="none" stroke="#000" stroke-width="1.8"/>
<text x="482.8" y="439.4" text-anchor="middle">0</text>
<text x="564.8" y="439.4" text-anchor="middle">10</text>
<text x="646.8" y="439.4" text-anchor="middle">20</text>
<text x="728.9" y="439.4" text-anchor="middle">30</text>
<text x="810.9" y="439.4" text-anchor="middle">40</text>
<text x="892.9" y="439.4" text-anchor="middle">50</text>
<text x="459.1" y="406.4" text-anchor="end">0</text>
<text x="457.9" y="335.8" text-anchor="end">0.0005</text>
<text x="457.3" y="265.2" text-anchor="end">0.001</text>
<text x="457.9" y="194.7" text-anchor="end">0.0015</text>
<text x="458.9" y="124.1" text-anchor="end">0.002</text>
<text x="457.9" y="53.5" text-anchor="end">0.0025</text>
<text x="566.3" y="658.4" text-anchor="middle">r</text>
<text transform="translate(23.5 322.5) rotate(-90) scale(1 1.14)">ρ</text>
<text transform="translate(23.5 304.5) rotate(-90)"><tspan font-size="26.4" dy="9.6">E</tspan><tspan dy="-9.6" dx="1">(r)</tspan></text>
<text x="675.5" y="80.5">N<tspan font-size="26.4" dy="9.4">b</tspan><tspan dy="-9.4">= 12</tspan></text>
<path d="M833.6 67h11.3v11.3h-11.3z" fill="none" stroke="#0000ff" stroke-width="1.65"/>
<path d="M838.4 72.7h1.6" fill="none" stroke="#0000ff" stroke-width="1.7"/>
<text x="675.5" y="113.8">N<tspan font-size="26.4" dy="9.4">b</tspan><tspan dy="-9.4">= 24</tspan></text>
<path d="M833.5 106.2a5.8 5.8 0 1 0 11.5 0a5.8 5.8 0 1 0 -11.5 0" fill="none" stroke="#ff0000" stroke-width="1.65"/>
<path d="M838.4 106.2h1.6" fill="none" stroke="#ff0000" stroke-width="1.7"/>
<text x="675.5" y="147.1">N<tspan font-size="26.4" dy="9.4">b</tspan><tspan dy="-9.4">= 36</tspan></text>
<path d="M839.2 133l6 9.9h-12z" fill="none" stroke="#00ff00" stroke-width="1.65"/>
<path d="M838.4 139.6h1.6" fill="none" stroke="#00ff00" stroke-width="1.7"/>
<text x="675.5" y="180.4">N<tspan font-size="26.4" dy="9.4">b</tspan><tspan dy="-9.4">= 48</tspan></text>
<path d="M839.2 179.7l6 -9.9h-12z" fill="none" stroke="#ffa500" stroke-width="1.65"/>
<path d="M838.4 173.1h1.6" fill="none" stroke="#ffa500" stroke-width="1.7"/>
</svg>
</body></html>
